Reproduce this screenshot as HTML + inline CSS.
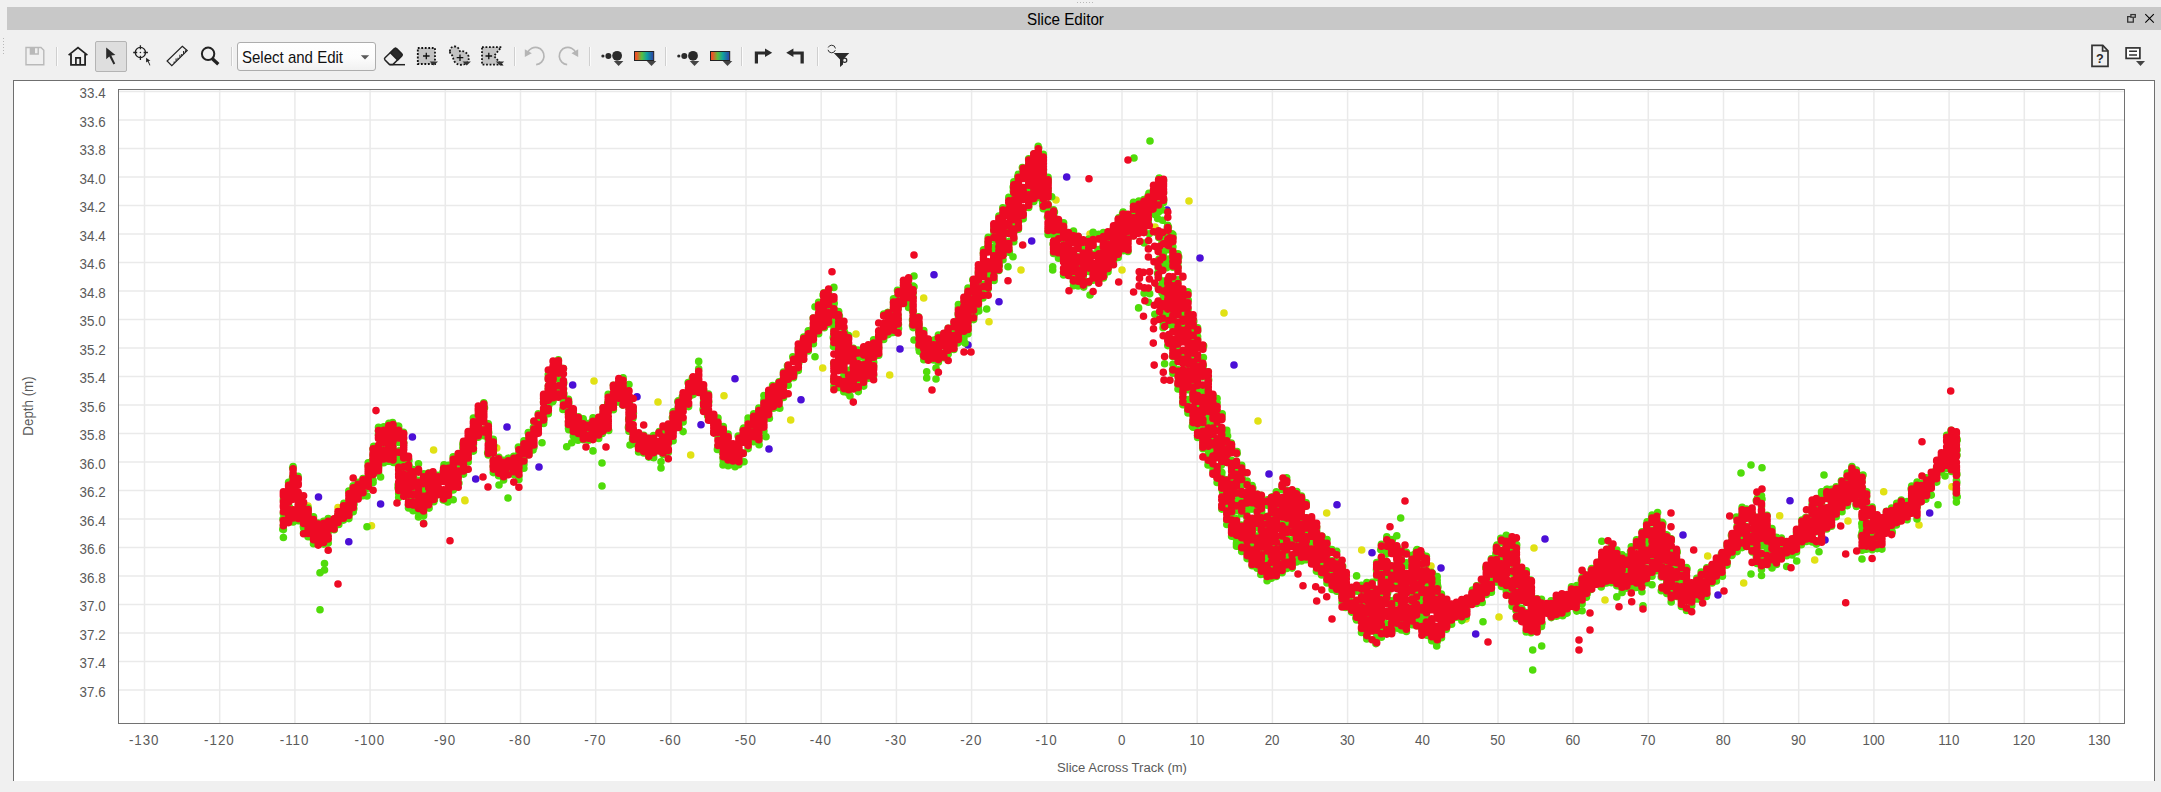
<!DOCTYPE html>
<html><head><meta charset="utf-8"><title>Slice Editor</title>
<style>
html,body{margin:0;padding:0;}
body{width:2161px;height:792px;background:#f0f0f0;position:relative;overflow:hidden;font-family:"Liberation Sans",sans-serif;}
#titlebar{position:absolute;left:7px;top:7px;width:2154px;height:23px;background:#c8c8c8;}
#title{position:absolute;left:0;top:8.6px;width:2131px;text-align:center;font-size:16px;line-height:22px;color:#000;transform:scaleX(0.95);transform-origin:1065.5px 0}
#panel{position:absolute;left:13px;top:80px;width:2142px;height:701px;background:#fff;border-left:1px solid #6f6f6f;border-top:1px solid #6f6f6f;border-right:1px solid #6f6f6f;box-sizing:border-box;}
svg.main{position:absolute;left:0;top:0;}
svg.main text{font-family:"Liberation Sans",sans-serif;font-size:15.1px;fill:#5a5a5a;}
.d{fill:none;stroke-width:7.6;stroke-linecap:round;}
#combo{position:absolute;left:237px;top:42px;width:139px;height:29px;box-sizing:border-box;border:1px solid #adadad;border-radius:3px;background:linear-gradient(#fff 0%,#fcfcfc 55%,#f1f1f1 100%);}
#combo span{position:absolute;left:4px;top:4.6px;font-size:16.6px;line-height:20px;color:#111;white-space:nowrap;transform:scaleX(0.905);transform-origin:0 0}
#selbtn{position:absolute;left:95px;top:41px;width:32px;height:31px;box-sizing:border-box;border:1px solid #b4b4b4;border-radius:2px;background:#dedede;}
.sep{position:absolute;top:47px;width:1px;height:19px;background:#cfcfcf;border-right:1px solid #fbfbfb}
</style></head><body>
<div id="titlebar"></div>
<div id="title">Slice Editor</div>
<div id="selbtn"></div>
<div id="combo"><span>Select and Edit</span></div>
<div class="sep" style="left:56px"></div><div class="sep" style="left:231px"></div><div class="sep" style="left:514px"></div>
<div class="sep" style="left:589px"></div><div class="sep" style="left:665px"></div><div class="sep" style="left:741px"></div><div class="sep" style="left:817px"></div>
<div id="panel"></div>
<svg class="main" width="2161" height="792" viewBox="0 0 2161 792">
<path d="M144.5 90V723M219.7 90V723M294.9 90V723M370.1 90V723M445.3 90V723M520.5 90V723M595.7 90V723M670.9 90V723M746.0 90V723M821.2 90V723M896.4 90V723M971.6 90V723M1046.8 90V723M1122.0 90V723M1197.2 90V723M1272.4 90V723M1347.6 90V723M1422.8 90V723M1498.0 90V723M1573.1 90V723M1648.3 90V723M1723.5 90V723M1798.7 90V723M1873.9 90V723M1949.1 90V723M2024.3 90V723M2099.5 90V723M119 91.5H2124M119 120.0H2124M119 148.5H2124M119 177.0H2124M119 205.5H2124M119 234.0H2124M119 262.5H2124M119 291.0H2124M119 319.5H2124M119 348.0H2124M119 376.5H2124M119 405.0H2124M119 433.5H2124M119 462.0H2124M119 490.5H2124M119 519.0H2124M119 547.5H2124M119 576.0H2124M119 604.5H2124M119 633.0H2124M119 661.5H2124M119 690.0H2124" stroke="#eaeaea" stroke-width="1.5" fill="none"/>
<rect x="118.5" y="89.5" width="2006" height="634" fill="none" stroke="#727272" stroke-width="1"/>
<text transform="translate(105.6,98.2) scale(0.885,1)" text-anchor="end">33.4</text><text transform="translate(105.6,126.7) scale(0.885,1)" text-anchor="end">33.6</text><text transform="translate(105.6,155.2) scale(0.885,1)" text-anchor="end">33.8</text><text transform="translate(105.6,183.7) scale(0.885,1)" text-anchor="end">34.0</text><text transform="translate(105.6,212.2) scale(0.885,1)" text-anchor="end">34.2</text><text transform="translate(105.6,240.7) scale(0.885,1)" text-anchor="end">34.4</text><text transform="translate(105.6,269.1) scale(0.885,1)" text-anchor="end">34.6</text><text transform="translate(105.6,297.6) scale(0.885,1)" text-anchor="end">34.8</text><text transform="translate(105.6,326.1) scale(0.885,1)" text-anchor="end">35.0</text><text transform="translate(105.6,354.6) scale(0.885,1)" text-anchor="end">35.2</text><text transform="translate(105.6,383.1) scale(0.885,1)" text-anchor="end">35.4</text><text transform="translate(105.6,411.6) scale(0.885,1)" text-anchor="end">35.6</text><text transform="translate(105.6,440.1) scale(0.885,1)" text-anchor="end">35.8</text><text transform="translate(105.6,468.6) scale(0.885,1)" text-anchor="end">36.0</text><text transform="translate(105.6,497.1) scale(0.885,1)" text-anchor="end">36.2</text><text transform="translate(105.6,525.6) scale(0.885,1)" text-anchor="end">36.4</text><text transform="translate(105.6,554.1) scale(0.885,1)" text-anchor="end">36.6</text><text transform="translate(105.6,582.6) scale(0.885,1)" text-anchor="end">36.8</text><text transform="translate(105.6,611.1) scale(0.885,1)" text-anchor="end">37.0</text><text transform="translate(105.6,639.6) scale(0.885,1)" text-anchor="end">37.2</text><text transform="translate(105.6,668.1) scale(0.885,1)" text-anchor="end">37.4</text><text transform="translate(105.6,696.6) scale(0.885,1)" text-anchor="end">37.6</text><text transform="translate(144.2,745.1) scale(0.885,1)" text-anchor="middle" style="letter-spacing:1.1px">-130</text><text transform="translate(219.4,745.1) scale(0.885,1)" text-anchor="middle" style="letter-spacing:1.1px">-120</text><text transform="translate(294.6,745.1) scale(0.885,1)" text-anchor="middle" style="letter-spacing:1.1px">-110</text><text transform="translate(369.8,745.1) scale(0.885,1)" text-anchor="middle" style="letter-spacing:1.1px">-100</text><text transform="translate(445.0,745.1) scale(0.885,1)" text-anchor="middle" style="letter-spacing:1.1px">-90</text><text transform="translate(520.2,745.1) scale(0.885,1)" text-anchor="middle" style="letter-spacing:1.1px">-80</text><text transform="translate(595.4,745.1) scale(0.885,1)" text-anchor="middle" style="letter-spacing:1.1px">-70</text><text transform="translate(670.6,745.1) scale(0.885,1)" text-anchor="middle" style="letter-spacing:1.1px">-60</text><text transform="translate(745.8,745.1) scale(0.885,1)" text-anchor="middle" style="letter-spacing:1.1px">-50</text><text transform="translate(820.9,745.1) scale(0.885,1)" text-anchor="middle" style="letter-spacing:1.1px">-40</text><text transform="translate(896.1,745.1) scale(0.885,1)" text-anchor="middle" style="letter-spacing:1.1px">-30</text><text transform="translate(971.3,745.1) scale(0.885,1)" text-anchor="middle" style="letter-spacing:1.1px">-20</text><text transform="translate(1046.5,745.1) scale(0.885,1)" text-anchor="middle" style="letter-spacing:1.1px">-10</text><text transform="translate(1121.7,745.1) scale(0.885,1)" text-anchor="middle">0</text><text transform="translate(1196.9,745.1) scale(0.885,1)" text-anchor="middle">10</text><text transform="translate(1272.1,745.1) scale(0.885,1)" text-anchor="middle">20</text><text transform="translate(1347.3,745.1) scale(0.885,1)" text-anchor="middle">30</text><text transform="translate(1422.5,745.1) scale(0.885,1)" text-anchor="middle">40</text><text transform="translate(1497.7,745.1) scale(0.885,1)" text-anchor="middle">50</text><text transform="translate(1572.8,745.1) scale(0.885,1)" text-anchor="middle">60</text><text transform="translate(1648.0,745.1) scale(0.885,1)" text-anchor="middle">70</text><text transform="translate(1723.2,745.1) scale(0.885,1)" text-anchor="middle">80</text><text transform="translate(1798.4,745.1) scale(0.885,1)" text-anchor="middle">90</text><text transform="translate(1873.6,745.1) scale(0.885,1)" text-anchor="middle">100</text><text transform="translate(1948.8,745.1) scale(0.885,1)" text-anchor="middle">110</text><text transform="translate(2024.0,745.1) scale(0.885,1)" text-anchor="middle">120</text><text transform="translate(2099.2,745.1) scale(0.885,1)" text-anchor="middle">130</text>
<text transform="translate(1122,771.7) scale(0.955,1)" text-anchor="middle" style="font-size:13.7px">Slice Across Track (m)</text>
<text transform="translate(33.3,406) rotate(-90) scale(0.94,1)" text-anchor="middle" style="font-size:14.2px">Depth (m)</text>
<path class="d" stroke="#e1e114" d="m465 500.7h0m31.7 -52.7h0m97.3 -67h0m64 21h0m32.7 53h0m33.3 -59.3h0m66.7 24.3h0m-482.7 86h0m30 1.6h0m95.6 -57.6h0m-62.1 75.8h0m93.3 -25.8h0m357.9 -132h0m33.3 -34h0m33.7 41h0m34 -77h0m65.3 23.7h0m32 -51.7h0m35 -70h0m66 70h0m-32 -36h0m168 187h0m68.7 92h0m35 37h0m69.3 16h0m-34.3 14h0m102.3 37h0m-33 2h0m68 -71h0m71 52h0m102.7 -44h0m36 27h0m36 -67.3h0m35 44.3h0m69 -68.3h0m-35.7 29.3h0m71 4h0m33 -38.3h0m-763 -285.7h0m35 112h0m-69 -86h0"/>
<path class="d" stroke="#4b0fd7" d="m507 427h0m-31.3 52h0m63.3 -12h0m33.7 -82h0m64.3 11.7h0m64 28h0m34 -46h0m34 70.3h0m32 -49.3h0m-482.5 97.3h0m93.9 -60h0m-31.8 67h0m-31.8 37.8h0m551.2 -192.8h0m34 -74.3h0m34 70.3h0m31 -43.3h0m32.7 -60.7h0m35 -64h0m202.3 297h0m68 30.7h0m35 48h0m69 15.3h0m34.7 66h0m69.3 -95h0m138 -4h0m35 60h0m72 -94.3h0m35 39.3h0m104.7 -27h0m-729.7 -255h0m34 107h0m-67 -155h0"/>
<path class="d" stroke="#50dc0a" d="m283.4 525.7h0m0 -26.1h0m0 14h0m0.3 8h0m-0.2 -22.3h0m0.5 11.4h0m-1 8.3h0m-0.2 10.2h0m0.6 0.4h0m0 7.9h0m5.2 -34.8h0m-0.8 -9h0m0.6 6.9h0m0.9 6.5h0m-0.7 5.5h0m0.3 -3.2h0m0.3 -25h0m-0.6 -2h0m4.5 4.4h0m-0.8 -0.8h0m0.4 -18.2h0m0.7 12.8h0m-0.4 38.7h0m0.8 -1h0m-1 1h0m-0.2 -40.8h0m0 -1.3h0m0.5 44.7h0m0 -55.3h0m5.1 52.1h0m0 -18.1h0m-0.1 -24.2h0m-0.7 7.8h0m0.3 28.9h0m0.8 -15.3h0m-0.3 22.9h0m5.4 -12.8h0m0 1.9h0m0 5.7h0m-0.2 11h0m0.9 -16.8h0m-1.3 12.5h0m0.6 -14.5h0m-0.5 -3.4h0m0.5 23.5h0m0 4.9h0m4.5 -4.6h0m0 3.3h0m0 -15.9h0m0 -4.9h0m-0.6 3.3h0m-0.1 -2.3h0m0.4 1.2h0m0.3 23.9h0m0 -28.7h0m5.4 19.5h0m0 8.8h0m0 3.2h0m-0.4 -16.1h0m0.3 0.3h0m0 -3.7h0m0.1 23.8h0m0 -27.1h0m4.7 11.9h0m-0.6 14.9h0m0.6 -8h0m0.5 8.6h0m-0.5 -21.1h0m5.4 1.2h0m-0.6 -1.4h0m0.9 4.6h0m-0.2 1.3h0m-0.1 15.4h0m0 -22.7h0m4.6 10.3h0m0 -13.2h0m-0.3 11h0m0 -7.6h0m0.3 21.1h0m6 -13.2h0m4.6 -5.3h0m-1.3 -8.5h0m0.5 7.5h0m5.5 -6.7h0m0.4 -13.4h0m-0.4 16.7h0m0 -1h0m5.4 -8.3h0m0 3.7h0m-0.4 -10.2h0m1.2 -6.7h0m-1.1 13.5h0m0.3 7.5h0m4.3 -25.6h0m0 14h0m0.6 1.7h0m0.2 -4.5h0m-1.1 5.4h0m0.3 2.2h0m0 -26h0m4.9 2.9h0m0 -5.1h0m0 7h0m0 -1.6h0m0.7 8.1h0m-1 -9.2h0m0.3 -5.6h0m4.9 -0.4h0m0.4 -1.1h0m-1.1 1h0m0.7 14h0m0 -17.2h0m5.2 -12.8h0m0.6 19.8h0m-1.3 2.6h0m0.7 -0.2h0m0 -25.2h0m4.9 -13.5h0m0 31.1h0m0 -25.3h0m-0.5 5h0m0 14.2h0m1.1 -28.1h0m-0.1 16.2h0m0.1 -0.7h0m-0.6 20.7h0m5.4 -48h0m0 -3.1h0m0 35.6h0m0 -3.3h0m-0.1 -9.1h0m0 3.6h0m-0.6 -10.5h0m0.7 8.6h0m0.4 -18.3h0m-0.4 26h0m0 9.2h0m0 -45.8h0m5.3 -0.6h0m0 29.6h0m0.6 -6.2h0m-0.2 -20.1h0m-0.4 -2.1h0m-0.2 20.5h0m0.3 9.2h0m-0.1 5.1h0m5 -35.6h0m0 26.1h0m0 -6.1h0m0.2 -20.3h0m0.2 30.8h0m-0.8 -18.7h0m0.6 -15.5h0m-0.5 21.9h0m0.3 16h0m0 -37.7h0m4.2 8.2h0m0 11.3h0m0.6 -11.9h0m-1 -8.6h0m0.8 9.4h0m0 30.4h0m0.2 -26.5h0m-1 0.1h0m6.1 -6.7h0m0 64.4h0m0 -51.3h0m0 27h0m0 -18.3h0m0 -13.4h0m0 -6.5h0m0 43h0m0 14.3h0m0.5 -31.3h0m-0.1 -6.4h0m-0.8 13.7h0m-0.2 23.3h0m0.1 -3.1h0m0 -58.7h0m1.3 54.6h0m-0.8 -54.4h0m0.5 35h0m-0.5 -22h0m0 58.4h0m5 -39.2h0m0 31.5h0m0 0.8h0m0 -25.9h0m0 -2.6h0m0 19h0m0 -26.3h0m0 -12.5h0m-0.5 18.2h0m-0.1 14.4h0m0.4 -30.5h0m0 -12.2h0m0.5 53.6h0m-0.1 -20.6h0m-0.8 -2.6h0m0.4 9.9h0m0.8 9.7h0m-0.5 -22h0m4.7 0.3h0m0 33.8h0m0 9.8h0m0 -40.5h0m0.3 12.9h0m-0.7 -3.8h0m0.7 -7.1h0m-0.3 39.9h0m0.4 -40.2h0m-0.9 9.6h0m0.9 -14.6h0m-0.2 37.9h0m-0.2 9.6h0m4.6 -0.9h0m0 -36.5h0m0 26.7h0m0 -9h0m0.5 18.7h0m0.2 -31.8h0m-0.2 19.1h0m0.2 2.6h0m-0.1 5.1h0m-0.3 -25.5h0m-0.3 34.3h0m0 -41.1h0m5.4 33.2h0m-0.4 -13h0m1.2 0.2h0m-0.3 6.8h0m-0.8 -14.9h0m0.4 -1.5h0m0.4 15.5h0m-0.5 16.3h0m0 4.7h0m0 -53.1h0m5.1 28.6h0m0 -12.8h0m0 2.9h0m0 6.7h0m0 25.4h0m-0.6 -23.8h0m0.2 9.7h0m-0.4 -20.7h0m1.1 -6.1h0m-0.3 42.1h0m0 7.6h0m5.1 -50.4h0m0 15.8h0m0.4 19.3h0m-0.6 -5.7h0m1 -8.6h0m-0.6 8.8h0m-0.3 -20.3h0m5.2 6.7h0m0.5 8.4h0m-0.4 -17.1h0m0.5 19.7h0m-0.6 1.8h0m3.9 -26.6h0m-0.2 3.6h0m0.7 -3.3h0m5.4 4.2h0m0 -1.4h0m0 15.7h0m0.3 -24h0m0.1 -5.1h0m-1.1 7h0m0.3 28.1h0m1 0.3h0m4.3 -1.2h0m0 -30h0m0 13.9h0m-0.7 15.9h0m0.3 -6.5h0m-0.4 9.6h0m0.5 -6.5h0m-0.5 -25.4h0m0.8 -4.8h0m4.7 -0.3h0m0 -8.1h0m0 14.9h0m0.3 -11h0m0.3 23.5h0m-0.6 5.6h0m0 9.9h0m5 -18.6h0m0.7 -14.5h0m-0.9 15.3h0m0 -21.6h0m1 7.9h0m-0.1 14.8h0m4.6 -15h0m-0.6 -24.1h0m0.3 -0.6h0m0 10h0m-0.3 -5.9h0m1.2 11h0m-0.6 15.6h0m4.7 -16.3h0m0 -3.2h0m0.4 -8.7h0m0 7.5h0m0.1 -8.9h0m0.2 7.7h0m-0.7 9.7h0m5.2 -43.9h0m0 26.4h0m0 -11.1h0m0 1.1h0m-0.2 6.4h0m0.3 -12.4h0m0.6 -0.3h0m-0.7 12.4h0m0 10.6h0m4.9 -18.2h0m0 -14.6h0m-0.4 9.1h0m0.5 -6.3h0m0.2 -8.5h0m0.5 9.8h0m-0.9 1.6h0m0.1 13.2h0m5.5 -5.1h0m-0.1 0.2h0m-0.3 -3h0m0.1 -22h0m1 0.4h0m-0.7 28h0m0 -32.9h0m3.9 49.9h0m0.7 -12.1h0m0.3 -8.2h0m-0.2 3.9h0m-0.2 18.7h0m0 -31.3h0m5 42.6h0m0 -23.5h0m0 17.9h0m-0.3 -14.6h0m-0.4 6.2h0m0.9 -2.4h0m0.3 -4.4h0m-0.5 27.1h0m0 -33.2h0m5.3 31.1h0m-0.1 -1.2h0m0.4 -11.9h0m-0.3 18.4h0m5.5 -9.6h0m0 4.7h0m-0.5 9.1h0m0 -19.7h0m4.6 13.9h0m0.7 -15.9h0m-0.5 12.9h0m-0.2 -13h0m5.6 9.9h0m0 6.2h0m-0.5 -9.3h0m0.5 9.5h0m0 -18.1h0m5.1 20.3h0m0 -23.4h0m-0.1 25.9h0m-0.3 -10.6h0m1 -10.6h0m-1.1 -10.9h0m0.5 32.3h0m5 -20.8h0m0 -14h0m-0.6 13.3h0m0.4 2.6h0m0.9 -16h0m-0.7 19.8h0m0 4h0m0 -27.4h0m5 13.5h0m0.5 -10.1h0m-1.1 3.8h0m0 -15.6h0m0.6 1.1h0m5 -3.9h0m-0.5 -2.1h0m0.5 7.1h0m0 12.6h0m0 -25.4h0m4.5 -1.1h0m-0.8 1.4h0m0.4 -1.8h0m0.3 -6.7h0m5.3 -11.7h0m0 16.1h0m0.1 -20.2h0m0.1 21.4h0m0.1 -21.5h0m-0.2 24.7h0m-0.1 1h0m4.7 -44.9h0m0 10.2h0m0 9.7h0m0.4 -13.3h0m0.1 20h0m0 -18h0m-0.5 26.5h0m0.1 -27.7h0m-0.1 -11.5h0m4.8 23.2h0m0 -1.5h0m0 -7.7h0m-0.4 -2.3h0m-0.1 15.5h0m-0.1 -18.7h0m1.2 13h0m-0.2 -26.3h0m-0.8 24.5h0m0.4 6.5h0m5.3 -8.3h0m0 -27.7h0m0 1.4h0m0 21.5h0m0 -23.7h0m-0.6 12.5h0m0 11h0m0.6 2.3h0m-0.3 -26.8h0m0.9 16.4h0m-1.1 -6.3h0m0.5 -13.1h0m5 41.5h0m0 -17.1h0m0 -15.7h0m0.5 30h0m-0.4 -10.4h0m-0.6 21.2h0m0.9 -15.9h0m-0.1 -11h0m-0.3 0.7h0m0 25.8h0m5.1 17h0m0 -12.1h0m0 -7.4h0m0 15.3h0m0.3 7.9h0m-0.3 -17.5h0m0.4 11.1h0m-0.1 -20.7h0m-0.3 26h0m0 -29.3h0m4.8 26.4h0m0.1 -8.3h0m0.6 3.5h0m-1.4 7.9h0m0.7 -5h0m0 12.3h0m5.1 -0.1h0m0 -16.2h0m-0.3 -1.1h0m-0.5 9.5h0m0.4 12h0m0.4 -1.6h0m0 -21.8h0m4.9 3.5h0m0.7 8.5h0m-0.1 -0.2h0m-0.7 -9.7h0m0.1 20.8h0m5.4 -13.4h0m0.5 -3h0m-1 4.9h0m0.5 12h0m4.4 -6.5h0m-0.6 -13.1h0m1.2 4.7h0m-0.7 25.6h0m0 -33h0m5.7 18.5h0m-0.6 -18.3h0m0 18.5h0m0.6 1.9h0m4.4 -30.6h0m0 5.4h0m0 -5h0m0.3 15.8h0m-0.5 6.1h0m0.2 -0.2h0m-0.8 3.4h0m6 -3.2h0m-0.7 -0.5h0m1.1 0.8h0m0.1 -26.8h0m-1.1 -0.7h0m0.5 26.5h0m0 -35.2h0m5.2 -9h0m-0.7 17.4h0m0.2 4.1h0m1.2 -16.2h0m-0.7 19.1h0m5.4 -11.7h0m0.7 -3.9h0m-0.9 -4.8h0m-0.5 12.7h0m4.5 3.1h0m0 -4.5h0m-0.2 -13.8h0m0.5 -0.5h0m0.2 -8.4h0m5.9 6.6h0m0 13.7h0m0 19.6h0m-0.3 1.5h0m0.8 -17.7h0m-1 -2.2h0m0.5 26.5h0m0.2 -17.8h0m-0.8 19.3h0m-0.1 -28.6h0m0.7 32.4h0m4.2 10.9h0m0 -11.9h0m0 2h0m0 -23.6h0m0 5.4h0m-0.7 25.3h0m0.9 -26.1h0m-0.5 5h0m-0.2 9.9h0m0 9.7h0m0.9 2h0m-0.4 4h0m5.7 -9.4h0m-0.7 0h0m0.4 17.5h0m4.5 -0.6h0m0.7 -16h0m-0.1 17.7h0m5.1 -14.7h0m-0.4 0.4h0m0.6 8h0m0.2 4.3h0m-0.4 6.1h0m4.7 -2.5h0m0 1.1h0m0 -13.6h0m0.2 15.7h0m-0.6 -0.3h0m0.4 -1h0m0 -21h0m5.4 12.5h0m0 -0.5h0m0.8 -15.4h0m-1 10.9h0m0.6 -11.4h0m3.7 19.2h0m0.4 3.6h0m0.4 -3.2h0m-1.2 -2.8h0m0.3 -16.7h0m0.1 22.8h0m5.3 -3.6h0m0 -25.2h0m0.8 3.8h0m-0.6 13.2h0m0 0.5h0m-0.5 1.3h0m0.3 7.7h0m4.8 -22.6h0m0.1 0.5h0m-0.8 -12.5h0m1.3 -6.1h0m-0.6 29.2h0m0 -28.6h0m5.3 -9.3h0m0 4.6h0m0 4.3h0m0 -8.7h0m0 16h0m-0.5 -17.6h0m0.6 21.6h0m0.6 4.1h0m-1.3 -0.4h0m0.6 -25.8h0m4 17.6h0m-0.1 -21.7h0m0.2 7h0m1 -7.8h0m-0.4 25.9h0m0 9.7h0m5.5 -43.9h0m0.1 -3h0m0.5 11.8h0m-1 -14h0m0.4 24.1h0m3.8 -28.6h0m0.8 15h0m-0.1 1.6h0m5.6 -3h0m-0.7 -12h0m1.4 4.6h0m-1 -0.2h0m0.3 -22.6h0m0 7.3h0m4.9 20h0m0 12.8h0m0 1.2h0m0 -13.9h0m-0.5 20.5h0m0.6 -17.9h0m-0.2 -0.5h0m0.1 17.2h0m4.9 -11.6h0m0 19.7h0m-0.8 -0.1h0m0.3 0h0m0.7 -14h0m0 12.9h0m-0.2 -20.9h0m5.3 38.1h0m0.3 -14.4h0m-0.6 -0.8h0m0.6 6.6h0m3.9 9.3h0m0 4h0m0 8.9h0m-0.6 3.6h0m1 -22.8h0m0.3 20.2h0m0.1 -13.4h0m-0.8 14.9h0m0 -30.3h0m5.3 35.1h0m-0.5 0.1h0m0.9 5.8h0m-0.1 2.5h0m0.2 -8.3h0m-0.5 7.9h0m0 -34.6h0m4.8 36h0m0 -25.7h0m0 23.1h0m0.4 3.8h0m0.2 -20.1h0m-1.2 8.9h0m1.2 0.5h0m-0.6 12.8h0m0 -31.8h0m4.9 19.9h0m-0.5 3h0m1.3 7.1h0m-0.8 0.9h0m5.9 -27.8h0m0.5 5.3h0m-1.2 21.8h0m0.6 0.6h0m-0.6 -28.7h0m5 -1.2h0m-0.6 4.5h0m0.7 14.1h0m0.4 -25.5h0m-0.5 1h0m4.7 -0.4h0m0 3.8h0m0.3 15.4h0m-0.1 0.8h0m0 -30.5h0m0 2.8h0m5.6 6.8h0m0 8.4h0m0 0.1h0m-0.2 4.3h0m0.1 0.3h0m-0.3 -16.8h0m0.4 17.8h0m0 -27.9h0m5.1 27h0m0.5 -3.7h0m-0.2 7.5h0m0.1 -24.9h0m-0.2 -2.1h0m0.4 -3.9h0m-0.6 29.2h0m0 -35h0m5.5 -3.9h0m-0.1 0.8h0m0.5 -2.9h0m-0.4 15.4h0m-0.4 13.6h0m0 -35.5h0m0 4.7h0m4.8 -6h0m0.5 8.1h0m0.2 16h0m-0.4 -25.7h0m-0.4 12.6h0m0.1 11.8h0m5.4 -26.6h0m-1.5 -4.9h0m0.3 13.2h0m0.5 9.5h0m5.6 -7.1h0m0.7 -2.2h0m0.1 9.4h0m-0.6 -10.5h0m-0.2 10.2h0m0 -26.2h0m4.5 -3.2h0m0 -3.5h0m0.2 -2h0m-0.5 9.8h0m1 2.6h0m-0.7 11.9h0m0 -25.3h0m4.7 13.1h0m0 -5.4h0m-0.2 0.5h0m-0.5 -14.5h0m1.4 10.5h0m4.6 -0.3h0m-0.7 -19.3h0m1.3 17.1h0m-0.6 4h0m4.6 -21.4h0m0.1 -7h0m0.6 13.3h0m-0.1 -7.2h0m-0.4 15h0m4.8 -30h0m1.3 2.7h0m-1 16.1h0m0.3 -22.3h0m4.6 -3h0m0.2 4.4h0m-0.2 6.1h0m0 6.5h0m0 -20.3h0m5.1 4.3h0m-0.2 -17h0m0.2 9.5h0m0.3 -3.9h0m-0.3 20.2h0m5.2 -28.3h0m0.3 8.7h0m-0.3 -6.1h0m-0.5 -9.8h0m0.8 14.7h0m-0.3 10.8h0m0 -31.4h0m5.1 9.9h0m0 12.9h0m-0.7 -21.5h0m0.9 -10.8h0m-0.8 2h0m0.2 7h0m1 25.8h0m4.3 -34.5h0m-0.3 22.3h0m-0.4 3.8h0m0.9 -22.2h0m-0.4 8.5h0m-0.3 4h0m0.5 14.4h0m5.3 -19.5h0m0 4.2h0m0 20.7h0m0 16.4h0m0 -8.9h0m0 -3h0m0 11.3h0m0 -30.6h0m0.3 -11.3h0m0.5 62.3h0m-1.6 -53h0m0.6 50.8h0m0 16.2h0m-0.5 -57.4h0m0.7 58.9h0m-0.1 -47h0m0.6 30.4h0m-1.1 -27.1h0m1.2 -6.5h0m-0.4 0.2h0m-0.3 14h0m-0.3 1.4h0m0.4 39.5h0m0 -98.6h0m4.8 82h0m0 -34.1h0m0 -13.4h0m0 -6.3h0m-0.1 -1.7h0m-0.2 67.3h0m0.6 -25.2h0m0.4 -39.9h0m-1 3.5h0m-0.5 46.3h0m0.2 -25.9h0m-0.2 7.4h0m0.4 -24.6h0m-0.2 -5.3h0m0.6 8.6h0m0 61.4h0m0 -76h0m5.2 28.4h0m0 20.8h0m0 -21h0m0 35.6h0m0 -46.4h0m0 26.3h0m0 26.3h0m0 -41.9h0m-0.2 10.3h0m0.5 20h0m-0.5 -3.4h0m0.2 -6h0m0.7 -28.1h0m-0.3 57.2h0m-0.5 2.1h0m-0.4 -11.3h0m0.8 -7.1h0m0.2 14.4h0m-0.9 -4.4h0m5.1 -0.9h0m0 -30.5h0m0.6 18.5h0m-0.5 12.4h0m0.6 -28.4h0m-1.4 2.6h0m1 -2.2h0m-0.1 35h0m0.5 -15.7h0m-0.8 6.7h0m0.1 12.7h0m0 -57.9h0m4.7 15.3h0m0 16h0m0 -18.5h0m0 9.4h0m-0.7 17.5h0m0.5 -3.8h0m0.1 -2.5h0m0.5 -18.9h0m-0.2 33.9h0m0 -33.2h0m0.6 36.6h0m4.2 -0.5h0m0 -1.7h0m0 -0.5h0m-0.4 4.6h0m0.2 -18.4h0m0.7 -7.1h0m-0.4 -7.2h0m0.6 25.2h0m-1.1 -31.8h0m0.4 41.6h0m5.4 -15.1h0m0.4 0.2h0m-1 -19.7h0m1 -1h0m0.1 7.7h0m-1.1 -12.8h0m0.6 35.2h0m4.7 -32.7h0m-0.2 6.4h0m0.8 13.5h0m-1.2 -17.5h0m1 9.8h0m-0.1 10.9h0m-0.3 1.7h0m5.2 -29.1h0m0 17.3h0m0.7 -20.1h0m-0.6 15.9h0m-0.5 -6.3h0m0.4 -4.2h0m0.8 5h0m-0.8 18.8h0m0 -35.7h0m5.8 -6.5h0m-0.7 14.4h0m-0.7 -1h0m0.7 8.6h0m5 -18.7h0m0 -9.5h0m0.2 6.8h0m0.2 -8.8h0m-0.8 6.2h0m0.4 8.2h0m0 -25.5h0m4.4 -0.1h0m0 3.8h0m0 5.6h0m-0.4 -6.7h0m0.2 -4.1h0m-0.3 0.1h0m0.5 22h0m5.4 -6.4h0m0 -25.7h0m0 9.1h0m0 -4.5h0m0.4 -0.5h0m0.3 8.8h0m-0.9 -4.6h0m-0.1 21.6h0m0.3 -33.5h0m4.6 17.7h0m0 1.8h0m0 -10.7h0m-0.6 -17.5h0m1 38.2h0m-1 -31.4h0m0.9 27.5h0m-0.9 -12.6h0m0.6 17h0m5.4 -37h0m0 8.7h0m0 -14.7h0m-0.5 13.1h0m0.6 -5.3h0m-0.6 6.7h0m1 -13h0m4.6 15.8h0m0 -8.6h0m0 -6.6h0m0 -1.3h0m0.5 17.3h0m-0.9 -22h0m0.8 15.5h0m-0.6 -7.8h0m0.2 17.8h0m4.5 3h0m0 -17.4h0m0 4h0m-0.4 11.3h0m0 3h0m-0.2 8.6h0m0.5 -22.6h0m-0.5 28h0m0 -31h0m0.6 33.2h0m0 -41.5h0m5.9 61.3h0m0 -7.9h0m-0.6 -22.8h0m0.6 7.9h0m0.1 20.8h0m-0.5 -14.5h0m0.8 20.3h0m-0.4 -2.1h0m4.1 -4.9h0m-0.1 10.8h0m0.2 -15.3h0m0.6 20.1h0m0 -29.3h0m5 25.4h0m0.1 2.5h0m-1.1 -13.2h0m5.7 -4.9h0m0 12.9h0m0 3.9h0m0.3 -16.8h0m0.2 13.2h0m0.2 1.4h0m-0.7 5.1h0m4.9 -5h0m-0.7 -1.7h0m0 -15.2h0m0.4 13h0m0.3 11h0m0 -27h0m5.4 -1.4h0m0.6 23.3h0m-0.6 -1.9h0m-0.3 -19.2h0m1.1 16.9h0m-0.8 4.9h0m4.4 -29.4h0m0 11.1h0m-0.2 -7.5h0m-0.2 9.6h0m0.6 3.7h0m-0.2 8.8h0m5.7 -9.6h0m0 -11.9h0m0 -7.3h0m0.2 18.8h0m-0.9 -13.1h0m0.3 2.3h0m1.2 5.2h0m-0.8 11.1h0m4.4 -8.3h0m0.7 -10.6h0m-0.8 -16.6h0m-0.5 28.9h0m0.7 -25.1h0m0 -13.3h0m0 2.9h0m5.5 1.1h0m0 16.3h0m-0.7 -15.7h0m1.3 26.2h0m-1.4 -6.8h0m0.1 -16.5h0m1.2 12.8h0m-0.5 13.7h0m4.1 -8.9h0m0 -37.3h0m0 2.7h0m0 34.9h0m0.2 -8.8h0m0.2 -24.2h0m-0.2 28.6h0m-0.1 -27.7h0m-0.5 7.8h0m1 -11.4h0m-0.6 39.6h0m0 -45.8h0m5.6 29.6h0m0 -29.6h0m0 6.2h0m0 -4.7h0m0.2 17.7h0m-0.4 -2.4h0m-0.6 -24.9h0m1.4 34.7h0m-1.3 3h0m0.2 -6.1h0m0.5 8.1h0m4.8 -11.9h0m0 -34.8h0m0 20.1h0m0.4 17.9h0m-0.3 -37.8h0m-0.5 11.2h0m-0.1 17.1h0m0.5 -3.6h0m0.3 -14.1h0m0.5 14.9h0m4.3 -4.5h0m0 -9.8h0m0.7 -20.5h0m-1 4.2h0m-0.1 25.6h0m0.4 -30.4h0m-0.6 34.7h0m1.1 -37.7h0m-0.6 -6.6h0m0.1 -3.7h0m4.7 24.4h0m-0.1 -32h0m0.5 22.6h0m-0.8 -18.2h0m-0.4 43.8h0m0.1 -20.5h0m0.5 7.7h0m-0.3 9.5h0m0 -2.6h0m0.5 4h0m0 -51.3h0m5.6 -8.3h0m0 47h0m0 -27.1h0m0 -19.3h0m0 5.4h0m-0.2 37.4h0m0.4 -25.4h0m0.1 33.4h0m-0.1 -48.7h0m-0.2 8.4h0m-0.7 23.7h0m0.4 -12.4h0m0.8 5.5h0m-0.3 -8h0m-0.2 30.1h0m5.1 -25.8h0m0 -4.9h0m0 -24.9h0m0 24.3h0m0 -5.4h0m0.7 -19.6h0m-1.2 24.3h0m1.2 9.3h0m-0.4 9.2h0m-0.9 -3.3h0m1.1 -19.9h0m-1 -7.1h0m0.9 30.3h0m-0.4 5h0m0 -54.4h0m4.1 -3.5h0m0 29.7h0m0 9.3h0m0 -8.8h0m0.6 -19.8h0m-0.5 13.8h0m-0.1 7.5h0m0.1 -17.3h0m-0.3 -19.3h0m1 0.9h0m-0.5 46.2h0m-0.3 4.9h0m5.8 -62.3h0m0 28.6h0m0 -9.9h0m0 32.5h0m0 -32.5h0m0.7 -17.1h0m-0.7 17.1h0m-0.4 36h0m-0.3 -20h0m1.1 -4.4h0m0.1 -23.9h0m0.1 48.1h0m0.2 -10.6h0m4.2 -2.4h0m0 -46.7h0m0.3 7h0m0 8.1h0m-0.4 -7.4h0m0.4 16.5h0m-0.4 5.9h0m-0.5 -35.2h0m0.1 3.8h0m0.7 2.3h0m0.4 9.7h0m-0.6 38.8h0m0 -59.9h0m4.6 14.4h0m0 24h0m-0.5 -34h0m1 5.9h0m-0.2 -4.2h0m-0.9 -11.5h0m0.6 38.9h0m0 -34.3h0m-0.1 47.6h0m0 -22h0m0.1 22.6h0m0 -55h0m4.6 15.8h0m0.4 18.3h0m0.4 -13.7h0m-1.4 -27.1h0m0.2 23.1h0m-0.1 20.1h0m0.3 2.2h0m0.4 5.9h0m5.5 -33.8h0m0 -2.8h0m0 11.5h0m0.6 -20.2h0m-1 7.3h0m-0.2 8h0m0.8 -4.1h0m-0.1 -22.6h0m0.3 11.6h0m0.2 16h0m-0.6 17.8h0m0 -48.8h0m5.1 -4.7h0m0 16.7h0m-0.7 23h0m0.7 1h0m-0.5 -11h0m0.3 3.2h0m0.3 1.4h0m-0.5 -30h0m-0.4 31.5h0m0.8 11.7h0m4.5 -10.7h0m0 -8.1h0m0.2 -6.2h0m-0.3 -30.1h0m-0.4 51.2h0m-0.2 -26.7h0m1.2 -11.3h0m-0.1 -11.8h0m4.6 57.6h0m-0.7 -2.8h0m1.1 -14.3h0m-0.2 10.1h0m-0.3 -40.4h0m0.2 11.7h0m-0.2 7.2h0m0.2 8h0m-0.5 20h0m0.4 3.8h0m0 -54.5h0m4.8 77.9h0m0 -51.9h0m0 1.5h0m0 -4.5h0m0.3 51.5h0m-0.3 -39.4h0m0.1 22.3h0m-0.1 -7.3h0m0.6 13.5h0m-0.2 -10.2h0m-1 9.7h0m0.6 17.2h0m5.5 9.8h0m0 -25.2h0m0.2 -3.9h0m0.6 -3.2h0m-0.3 31.9h0m-1 0.1h0m-0.2 -24.2h0m0.1 14.7h0m0.6 19h0m0 -43.6h0m4.9 48.4h0m0 -10.7h0m0 -10.4h0m-0.3 -11.1h0m1 24.5h0m-0.1 -13.5h0m-0.5 -15.4h0m0.4 28.8h0m-1 -16.6h0m5.6 38.3h0m0 -18.6h0m0 1.3h0m0 -25.7h0m-0.4 0h0m0.4 21.7h0m-0.7 -26.1h0m0.5 34.1h0m0.1 -30.8h0m0.9 14.7h0m-1.3 -17.1h0m0.5 49.2h0m0 -52.2h0m4.9 42.5h0m0 -24.4h0m-0.1 22.4h0m0.1 -12.8h0m-0.7 -14.7h0m0.2 7.8h0m0.3 31h0m0.3 -1.2h0m0.6 1.1h0m4.3 -40.1h0m0 26.1h0m0 17.6h0m-0.4 -41.2h0m0.4 -5.8h0m0.8 24.2h0m-0.9 26.3h0m-0.5 -23.9h0m0.7 14.1h0m0.5 -32.2h0m-1 -6.9h0m0.4 53.2h0m4.6 -44.9h0m0 6.2h0m0 17.7h0m0.7 16.9h0m0 -13.9h0m-0.3 -2.9h0m-0.8 -0.6h0m0.8 -27.5h0m-1 19.9h0m0.2 5.7h0m0.4 23.5h0m5.2 -15h0m0 4.2h0m0 -20.4h0m0 23.5h0m0 -32.2h0m0 6.1h0m-0.6 32.3h0m0.3 -4.8h0m0.8 5.1h0m-0.1 2.4h0m-0.4 -29.8h0m-0.7 20.3h0m0.8 -12.6h0m5.4 6.3h0m0 -28.9h0m-0.4 13.9h0m0.6 15.1h0m-0.5 -30.2h0m0 41.5h0m0.5 -30.2h0m0.6 3.8h0m-0.8 -17.3h0m4.3 28.8h0m-0.1 -13.1h0m0.9 18.3h0m-0.4 -2.1h0m0.3 3.3h0m-0.6 5.7h0m-0.9 -25.8h0m0.8 26.2h0m0 -47.9h0m5.7 5.7h0m0 14.9h0m-0.2 22.6h0m0.3 -9.2h0m-0.5 7.5h0m0.2 -3.3h0m0.2 5.5h0m0.8 -7.3h0m-1.6 -19.2h0m0.8 -15.2h0m4.6 0.1h0m0 16h0m0 11.1h0m-0.1 0.2h0m0.8 14.3h0m-1.5 -15.3h0m0.7 1.3h0m0.6 -2.4h0m0.1 -21.7h0m-1 8.8h0m0.4 31.2h0m0 -45.4h0m4.6 18h0m0.3 -13.8h0m-0.7 21.9h0m0.1 -20h0m1 4.3h0m-0.2 24.4h0m-0.5 -21.4h0m0 25.7h0m5.5 -43.7h0m0.6 0.5h0m-0.2 16.3h0m-0.2 7.5h0m-0.9 7.1h0m0.2 -23.7h0m0.5 25h0m4.7 -10.6h0m0 -26.4h0m-0.4 33.2h0m1 -39h0m-0.2 1.2h0m-0.8 21.9h0m0.2 10.1h0m0.2 6.3h0m4.9 -28.9h0m0 0.4h0m0.1 12.2h0m0.5 9.1h0m-0.5 -8h0m-0.6 -29h0m-0.1 24.9h0m0.6 12.6h0m0 -38.6h0m4.9 26.7h0m0 -1.1h0m-0.2 -15.8h0m-0.5 26.6h0m0.8 -16.8h0m-0.9 -2h0m1.4 -13.5h0m-0.6 35.3h0m5.5 -15.7h0m0.2 -29.6h0m0.2 8.1h0m-0.5 14.7h0m0.5 -20.8h0m-0.3 20.3h0m-0.1 -26.1h0m5.4 17.9h0m0 -5h0m0.8 -0.6h0m-1.2 12.7h0m0.4 -15.1h0m-0.7 18h0m0.7 -29.3h0m5 1.4h0m0.7 -1.8h0m-0.6 1h0m-0.2 15.1h0m0.8 2.7h0m-0.7 9.7h0m0 -29.5h0m4.4 -4.3h0m0 7.5h0m0 2.2h0m0.1 -0.4h0m0.5 -11.2h0m-0.4 3.1h0m-0.3 3.9h0m0.1 21.5h0m5.2 -24.2h0m-0.3 -5.3h0m0.6 14.9h0m-0.6 2h0m0.3 -1.7h0m5.1 -20.3h0m0.6 -9.3h0m-0.5 18.8h0m-0.1 3.9h0m4.9 -20.5h0m0 12.5h0m0.2 7.1h0m-0.4 -6.7h0m0.2 5.9h0m0 3.6h0m-4.7 34.8h0m-1.2 -18.9h0m0.2 45.1h0m-0.1 -15.3h0m0.9 28.8h0m-1 -3.9h0m0.7 -64.6h0m0.2 3.5h0m0.4 47.1h0m-0.5 27.4h0m-0.2 0.9h0m-0.7 -54.2h0m0.9 41.7h0m-0.2 -7.2h0m0.7 -17.9h0m-0.7 52.5h0m0 -96.9h0m4.6 31.7h0m-0.3 46.9h0m0.1 -2.5h0m0.2 25.7h0m0.1 -13.3h0m-0.3 -3.7h0m-0.1 -70h0m-0.5 22.6h0m0.8 56.5h0m0.3 -36.8h0m-0.9 -52.6h0m-0.2 82.8h0m0.8 19.3h0m0.5 12.5h0m-0.8 -71.1h0m0.7 3.3h0m-0.1 3.5h0m0 67.4h0m0 -60.8h0m-0.2 -2.5h0m0.5 -9.4h0m4.4 -5.3h0m0 13.1h0m0 -36.2h0m0 10.4h0m-0.6 -2.6h0m0.4 70.3h0m0 -19.1h0m-0.4 -42.4h0m0.5 70.9h0m0.7 -87.2h0m-1.1 0.3h0m0.6 0.4h0m-0.9 88.7h0m1.1 21.1h0m-0.4 -13.4h0m-0.6 -56.4h0m1.3 -24.9h0m0 3.2h0m0.1 78.4h0m-0.8 -99.1h0m-0.2 99.1h0m-0.5 -84.2h0m0.9 41.3h0m-0.5 -46h0m-0.1 60.2h0m1.1 21.9h0m-0.6 28.1h0m5.1 -108.9h0m0 77.1h0m0 41h0m0 -15.3h0m0 -72.3h0m0 38.6h0m0 58.4h0m-0.3 -7.8h0m-0.5 -122.7h0m0 77h0m0 0.8h0m0.9 -12.3h0m-0.6 9.9h0m1.2 41.9h0m-0.1 -3.5h0m-0.9 22.2h0m0.1 -60.1h0m-0.4 34.1h0m0.5 -78.6h0m0.8 44.6h0m-1.5 -29.3h0m1.4 7.3h0m-0.6 -41h0m0.5 70.8h0m-0.4 -38.3h0m0.6 87.8h0m-1 -54.4h0m0.6 12h0m-0.1 4.2h0m-0.2 44.4h0m0 -138.6h0m5.1 22.2h0m0 128.1h0m0 -58h0m0 -3.3h0m0 -43.7h0m0 -17.4h0m0 4.4h0m0 23.9h0m0 81h0m-0.7 -112.4h0m1.4 62.8h0m-0.8 26.9h0m-0.5 -60.5h0m1 52.4h0m-1 -34.3h0m1 -15.7h0m-0.5 66.9h0m-0.1 15.8h0m-0.2 -117.1h0m0.8 117.5h0m-0.7 -108.9h0m0.3 41.7h0m0.7 -50h0m-1.1 68.5h0m0.5 -67.7h0m0.3 122.2h0m0.2 -10.1h0m-1.3 -26.2h0m0.9 -48h0m-0.6 14.2h0m0.4 79.2h0m0 -135.1h0m4.9 144.9h0m0 -87.1h0m0 -11.5h0m0 90.8h0m0 -84.7h0m-0.2 66.2h0m-0.5 -62.4h0m0.6 66.8h0m-0.6 -51.4h0m1.3 13.5h0m-0.2 -29h0m-0.2 64h0m-0.6 -21.6h0m0.5 10.4h0m-0.1 38.9h0m0.6 -81.5h0m-0.9 36h0m-0.3 3.3h0m1.2 -61.3h0m-0.1 36.5h0m-0.6 -33.1h0m0.6 3h0m-0.7 47.9h0m-0.3 -28.3h0m0.8 -23.1h0m-0.9 13.5h0m0.6 90.1h0m5.1 -71h0m0 32h0m0 -55.8h0m0 89.6h0m0 -43.3h0m0 15.4h0m0 -20.1h0m0 8.1h0m-0.8 9.8h0m1.1 -32.2h0m0.4 20.3h0m-0.2 30h0m-0.8 23h0m-0.5 -8.8h0m0.1 -13.2h0m0.6 -36.4h0m0.3 -52h0m-0.7 87h0m0.9 -66h0m-1.2 34.5h0m1.5 -27h0m-1.1 -3.7h0m1 21.3h0m-0.8 43.5h0m-0.6 -17.4h0m0.6 -73.1h0m-0.4 69.2h0m0.6 44.5h0m0 -121h0m5.1 45.7h0m0 25.6h0m0 21.3h0m0 36.2h0m0 -99.7h0m0 29h0m0 8.1h0m0 -20.7h0m0 41.2h0m0 1.9h0m0.5 -34.6h0m-0.9 33h0m0.2 12.4h0m0.7 -62.6h0m-0.9 66h0m0.7 -33.3h0m-0.7 -6.4h0m1.1 17.8h0m-1.1 -49.5h0m1.2 44.5h0m-1.6 58.4h0m0.2 -40.2h0m0 -49.9h0m1.4 33.6h0m-1 53.4h0m0.5 -7.7h0m0.3 -94.5h0m0.1 22.9h0m-0.7 83.4h0m4.5 -62h0m0 51h0m0 -59.5h0m0 12.3h0m0 29.6h0m0 -67.6h0m0 42.7h0m0 -27.1h0m0 89.1h0m0 -69.8h0m0 -29.4h0m0 1.9h0m0.4 18.3h0m0.2 35.6h0m-0.8 21.9h0m0.5 -68h0m-0.3 -6.8h0m-0.1 18.6h0m0.3 42.6h0m-0.9 -4.1h0m1.1 31.2h0m-0.2 1.5h0m0.5 -29.4h0m-0.5 11.2h0m-0.9 -79.6h0m1.3 76.3h0m-1 -37.3h0m1 6.2h0m-1.2 35.5h0m0.6 25.3h0m0 -109.6h0m5.3 118.7h0m0 -58.4h0m0 44.9h0m0 -14.5h0m0 -28.1h0m0 54.1h0m0 -32.1h0m0 23.8h0m0 -19.6h0m0 -6.6h0m0 -8.3h0m0.1 10.7h0m0.4 -54.8h0m-0.5 85.1h0m-0.7 -79.9h0m1.4 7.4h0m-1.1 6.7h0m-0.4 22.6h0m1.2 28.7h0m-1.2 -52.3h0m1.3 64.3h0m-1 -14.7h0m0.7 20.6h0m0.5 -100.2h0m-1.2 72.4h0m0.6 20.9h0m-0.9 -27.6h0m1.2 -46h0m-0.4 83.2h0m5.4 -12.1h0m0 -27.2h0m0 27.2h0m0 7.7h0m0 -28.2h0m0 -44.4h0m0 53.9h0m0 -30.8h0m0 48.3h0m0 -51.8h0m0 39.9h0m0 18.1h0m0.3 -69.5h0m-1 76.2h0m0.7 -65.7h0m0 4.1h0m-0.4 22.7h0m0.3 -37.1h0m-0.5 66.9h0m1.1 -26.3h0m-0.8 3.1h0m0.7 34.5h0m-0.7 6.7h0m0.2 -49.5h0m0.3 34.4h0m-0.2 -28h0m-0.2 32.8h0m0.2 8.2h0m4.6 -34.8h0m0 4.2h0m0 -10.3h0m0 34.8h0m0 -6.2h0m0 -9.2h0m0 -46.1h0m0 18.9h0m0.2 40.1h0m0 -3.4h0m-0.7 -15.1h0m0.6 34.7h0m-0.5 -39.5h0m1.2 -7h0m-0.3 2.5h0m-0.3 -24.4h0m-0.6 12.7h0m0.3 2.8h0m0 29.5h0m-0.4 18.8h0m0.4 -0.5h0m-74.2 -157.5h0m5.5 -64.9h0m0 50.2h0m5.1 -59.4h0m0.5 59.9h0m-1.2 8.5h0m6.4 -87.6h0m-0.1 99.7h0m8.8 -62.4h0m-0.5 29.1h0m0.9 16.1h0m0.6 66.6h0m4.1 -104.6h0m-0.4 7.5h0m0.6 23.6h0m1 6.8h0m-0.7 9.1h0m-1 5.3h0m48.9 129.4h0m0 -24h0m0 23.4h0m0 -12.4h0m0 1.5h0m0 -16h0m0.7 14.3h0m-1.2 -22.9h0m1.3 51.1h0m-1.2 14.2h0m0.3 7.5h0m0.3 -29.3h0m0.4 3.7h0m-0.9 22.1h0m0 -0.5h0m-0.2 -16.4h0m0.2 -3.6h0m0.6 28.1h0m-0.3 0.8h0m0 -83.9h0m0 4.2h0m4.7 43.2h0m0 -11.4h0m0 29.5h0m0 -19.2h0m0 44.2h0m0 -54h0m0 10h0m0 -9.7h0m-0.3 25.4h0m0.3 -43.8h0m-0.6 30.2h0m0.8 12.7h0m0.2 -12h0m-1.1 27.4h0m0.7 -56.8h0m0.1 54.2h0m-0.4 -36.7h0m0.1 47.7h0m-0.3 -18.4h0m0.4 9.7h0m0.5 -61.1h0m0.4 78.1h0m-0.5 13.6h0m-0.3 3.6h0m5 -77h0m0 80.5h0m0 -21.3h0m0 -31.8h0m0 22h0m0 -21h0m0 59.7h0m0 -60.8h0m-0.6 20.3h0m0.9 -21.7h0m-0.2 -14.2h0m0.5 -1.7h0m0.1 7.4h0m0.1 67h0m-0.5 -60.3h0m0.5 -20.2h0m-1.5 59.1h0m0.1 -52.6h0m1.3 19.9h0m-0.9 41.8h0m-0.5 2h0m0.6 -25.1h0m0.1 43.4h0m0 -94.3h0m4.8 30.9h0m0 -11.7h0m0 69h0m0 -40h0m0 -14h0m0 50.3h0m-0.2 -15.4h0m0.4 -24h0m-0.3 9.1h0m-0.3 -6.4h0m1 23.4h0m-0.4 -40.8h0m0 31.9h0m-0.4 12.5h0m-0.1 -61.9h0m0.5 48.4h0m0 38.5h0m-0.5 -26h0m-0.3 13.4h0m0.5 8.6h0m0.1 10.3h0m4.9 8.8h0m0 -1.9h0m0 -57.3h0m0 57.2h0m0 -9.9h0m0 -29.5h0m0 40.3h0m0 -50.6h0m0 -20.1h0m0 61.2h0m0 -15.7h0m0 20.4h0m0 -58.9h0m-0.4 3.3h0m-0.3 44.9h0m1.1 -40.3h0m0.3 -34.9h0m-0.5 57.5h0m-0.7 -41.8h0m1.3 64.4h0m-0.3 -81.9h0m-1.2 18.3h0m0 39.2h0m1.2 24.2h0m-1.1 -54.9h0m1 22.5h0m-0.1 -47h0m-0.5 8.5h0m0.2 83.9h0m5.2 -9.8h0m0 0.5h0m0 -51.4h0m0 56h0m0 -0.8h0m0 -31.2h0m0 35.1h0m0 -30.9h0m0 16h0m-0.1 -24.6h0m0 -24.6h0m0.5 -10h0m-0.3 78.9h0m0 -49.7h0m0.3 -22.2h0m-1 47.5h0m0 -27.2h0m-0.1 28.1h0m0.1 14.7h0m0.2 -3h0m0.8 -26.7h0m0.2 35.7h0m-0.6 4.8h0m0 -86.2h0m5.4 15.9h0m0 3.9h0m0 8.5h0m0 51.1h0m0 -51.9h0m0 28.3h0m0 25.7h0m0 -9.7h0m0.4 2.1h0m0.2 -10.7h0m-1.1 -15.5h0m0.1 3.9h0m0.8 -7.5h0m-0.1 -4.7h0m-1.1 21.8h0m1.3 -6.7h0m0 11.1h0m0.2 -0.7h0m-0.9 -48.5h0m0.6 12.9h0m-0.4 64.1h0m5 -13.8h0m0 -23.8h0m0 7.9h0m0.1 -3.7h0m-0.7 -39.1h0m1.1 15.3h0m-1.2 49h0m1.5 -52.2h0m-0.3 0.3h0m0.1 35.3h0m-1.3 12.6h0m1 2.7h0m0.4 -61h0m-0.8 21h0m0.2 19.5h0m-0.1 37.1h0m0 -80.2h0m5.1 8.7h0m0 72.6h0m0 -23.5h0m0 -48.8h0m0 12.9h0m0 32.5h0m0 -36h0m0 37.6h0m-0.6 22h0m1.3 -27.8h0m-0.6 16.4h0m0.1 -38.6h0m-0.7 41.7h0m0.3 -46.2h0m0.8 29.5h0m-1 -0.6h0m-0.2 10.8h0m-0.2 -49.4h0m0.9 37.5h0m0 -9h0m-0.1 40.5h0m4.2 -56.3h0m0 -12.8h0m0 -1.4h0m0.5 54.8h0m-1.1 -5h0m1.2 -1.7h0m-0.7 -14.3h0m-0.4 14h0m0.8 -34.7h0m-0.9 63.5h0m0.6 -27.1h0m-0.6 -51.9h0m0.9 22.1h0m-0.5 -14.2h0m0.6 40.3h0m5.3 -41.3h0m0 18.3h0m0 43.7h0m0 -0.8h0m0 12.7h0m0 -40.3h0m0 6.8h0m0 12.3h0m0 -49.8h0m0 33.1h0m0 -33.5h0m0 11.6h0m-0.5 34.6h0m1.1 21.1h0m-0.2 -9h0m0.1 -0.3h0m-0.2 -32.8h0m0 -30.2h0m0.4 35.6h0m-0.8 28h0m0.2 -6.5h0m-0.9 -7.4h0m0.4 -32.2h0m1 39.3h0m-0.6 24.1h0m4.3 -60.9h0m0 30.2h0m0 -26.9h0m0 25.9h0m0 7.7h0m0 -54.4h0m-0.6 2.1h0m-0.2 17.4h0m1.3 -2.1h0m-0.5 -4.6h0m-0.8 52.2h0m0.8 -10.6h0m0.6 -59.7h0m-1.3 65.5h0m0.8 14.2h0m-0.6 -27.9h0m0.8 -51.7h0m-0.8 58.4h0m0.6 -58.1h0m-0.1 80.8h0m4.9 -70.2h0m0 20.5h0m0 10.5h0m0 5h0m0 -19.2h0m-0.5 -25.8h0m0 69.1h0m0.5 -51.2h0m0.2 35.9h0m-0.5 -33.9h0m0.7 -25.8h0m-0.8 31.8h0m0.3 -14.9h0m-0.2 -5h0m-0.2 -3.9h0m0.2 36.9h0m0.9 -36.7h0m-0.8 -4.2h0m0.2 79.4h0m0 -84.8h0m5.8 34.4h0m0 8.6h0m0 -24.3h0m0 58.8h0m0 -83.4h0m0 14.8h0m0.4 32.4h0m-0.8 37.3h0m1 -80.6h0m0.1 47.2h0m-1.3 11.7h0m0.2 -33h0m0.1 8.2h0m1 38.5h0m0.1 -62.9h0m-1 72.3h0m0.9 -8.2h0m-0.9 -13.1h0m0.7 -9.8h0m-0.5 -27.1h0m0 59.3h0m4.6 -92.5h0m0 86h0m0 -48.4h0m0 0.5h0m0 14.3h0m0 -34.6h0m0 1.1h0m0 53.1h0m0 -9.5h0m0 -17.5h0m0 1.9h0m-0.5 -26.6h0m0.2 9.5h0m0.6 30.1h0m-0.9 -58.9h0m1.2 73.1h0m-1.2 -3.2h0m-0.1 -9h0m0.2 -1.6h0m1 15.5h0m-0.2 -35.1h0m0.3 44.9h0m-0.5 -27.9h0m0.2 -27.3h0m-0.4 -20.4h0m0.1 78.1h0m0 -90.6h0m5.4 25.3h0m0 40.5h0m0 -17.9h0m0 19.9h0m0.7 -5.4h0m-0.1 -7h0m-1.1 -41.6h0m0.8 41.4h0m-1 -14h0m0 41.7h0m0.3 0.2h0m0.5 -15.2h0m-0.4 -39.1h0m0.3 0.4h0m0.1 3h0m-0.7 0.4h0m0.6 57.7h0m4.4 -7.8h0m0 -47.5h0m0 -17.3h0m0 15.5h0m0 48.1h0m-0.2 -56.1h0m-0.5 -10.7h0m0 50.6h0m0.6 -35.5h0m-0.3 50.7h0m0.7 -66.5h0m-0.9 50.2h0m1.2 16.8h0m-0.1 0.6h0m-0.2 -28.3h0m-0.1 -30.7h0m-0.2 61.8h0m0 -70h0m5 5.6h0m0 44.6h0m0 -22.8h0m0 -11.7h0m0 16.2h0m0 -18.5h0m0 -7.9h0m0.2 28.3h0m0.2 15.1h0m-0.9 -18.9h0m-0.2 30.4h0m0.2 -44.3h0m0.7 25.9h0m-0.2 -33h0m0.3 31.7h0m0.1 -33.4h0m-0.6 13.1h0m0.2 48.6h0m0 -64.9h0m4.7 9.6h0m0 0.1h0m0.4 23.3h0m-0.4 21.9h0m0.5 -26.7h0m0.3 15.5h0m0 -21.8h0m-0.2 12.8h0m-0.5 9.1h0m-0.7 12.6h0m0.6 7.3h0m0 -56.9h0m5.4 56.1h0m0 2.9h0m0 -1.4h0m0.6 -7.5h0m0 -10.3h0m-1 -24.4h0m0.9 39.6h0m-0.4 -32.2h0m0.3 11.6h0m-0.7 -2.2h0m5.3 26.7h0m0 -32.9h0m0 -2.1h0m0 36.7h0m0 -32.9h0m-0.8 -2.3h0m1.5 37.7h0m-0.9 5.1h0m-0.3 -15.1h0m-0.3 -29.9h0m1.2 11.5h0m-0.9 10.1h0m0.5 23.5h0m5 1.5h0m0 -21.3h0m0 9.1h0m0 -1.9h0m0 0.1h0m0.5 -22.4h0m-0.4 19.3h0m0.4 7.6h0m-0.7 -12.4h0m-0.4 22.8h0m0.6 -6.3h0m0 7.7h0m5.4 -20.6h0m0 10.9h0m0 -18.2h0m0 32h0m0.2 -27.5h0m-0.5 -1.9h0m-0.1 -6.2h0m-0.1 6h0m0.5 8.7h0m0.1 7.8h0m-0.1 17h0m0 -43.4h0m5.1 21.2h0m0 22.7h0m0 -1h0m0.4 -9.4h0m0 -6.9h0m0.1 5.9h0m0 6.4h0m-0.7 -28.9h0m0.2 39.9h0m4.6 -22.9h0m0 3.9h0m-0.6 13.5h0m1 -19.5h0m-0.1 16h0m-1 0.4h0m0 6.9h0m0.4 -26.1h0m0.3 29.6h0m0 -39.9h0m5.9 21.9h0m-0.6 13.1h0m0.6 2h0m0.1 -22.2h0m-0.3 14.8h0m-0.7 15.5h0m0.4 5.9h0m4.2 -25.8h0m0 -0.3h0m0.4 16.8h0m0.1 -4.5h0m-1.3 16.4h0m0.1 2.4h0m0 -12h0m6 -2.5h0m0 17h0m0 -7.9h0m-0.8 5.5h0m0.2 -5.7h0m0.3 -10.9h0m0.3 21.2h0m5 -25.8h0m0 22.1h0m0 -5.7h0m0 10.5h0m-0.3 4.8h0m-0.4 0.3h0m1.3 -27.1h0m0 -4.8h0m-0.2 4.6h0m-0.4 28.9h0m0 -44h0m4.9 12.9h0m0 -0.5h0m0 4.8h0m-0.4 8.1h0m0.6 -12.1h0m-0.7 15.3h0m0.2 -4.3h0m0.4 -9.1h0m-0.6 1.4h0m0.5 40h0m0 -47.2h0m5.3 24.1h0m0 25.5h0m0 -20.2h0m0.7 13.1h0m-1.2 -20.2h0m0.2 -14.5h0m1 11h0m-0.7 8.8h0m-0.5 5.7h0m0.5 -14.5h0m-0.3 -17.3h0m0.3 52.2h0m0 -56.4h0m5.3 7h0m0 26.3h0m-0.8 8h0m0.3 -2.5h0m0.6 -29.2h0m-0.9 12.9h0m1.2 -15.3h0m0 15.1h0m-1.2 14.5h0m0.9 -17.4h0m-0.7 -6.2h0m0.6 -13.4h0m4.6 -11h0m0 25.6h0m0 40.8h0m0 -62.1h0m0 16h0m0 -22.5h0m0 39.8h0m-0.8 34.7h0m0.6 -38.5h0m0.7 -5.9h0m-0.5 -0.7h0m0.6 27.5h0m-0.6 -15h0m-0.2 -41.1h0m0.6 7.6h0m-1 41h0m1.2 -7.9h0m-0.8 23h0m0.2 -41.1h0m0.7 4.4h0m-0.7 -34.3h0m4.7 -4.4h0m0 53.6h0m0 14.4h0m0 -47.5h0m-0.3 54.8h0m-0.3 -83.8h0m1.1 77.1h0m-0.3 -42.9h0m0.5 -37.1h0m-1.2 23.4h0m0.4 19.2h0m0.4 0.1h0m0.2 -28.7h0m-0.7 13.3h0m0.6 54h0m0.1 -15.9h0m-0.8 -28.8h0m0.8 9.4h0m-0.5 44.5h0m0 -93h0m5.4 45.3h0m0 8.4h0m0 -13.2h0m0 -3.2h0m0 9.9h0m0 3.3h0m0 38.4h0m-0.3 -60.2h0m0 30.2h0m0.5 -16h0m0.6 5.9h0m-1.2 -21.1h0m1.1 5.9h0m-1.4 45.8h0m0.3 -69.6h0m0.7 61.9h0m0.2 -62.7h0m0 71.4h0m0 -52.7h0m0.2 -9h0m-0.8 -12.1h0m0.6 16.6h0m-0.5 -30.8h0m4.8 6.6h0m0 26.9h0m0 35.2h0m0 -54.7h0m0 53.4h0m0 2.4h0m0 22.5h0m0 -7.8h0m0 -40.2h0m-0.2 48.9h0m-0.5 -6.7h0m0.1 -14.3h0m-0.1 -42.7h0m1.3 59.7h0m-0.6 -8.6h0m0 -67h0m0.3 77.3h0m0.5 -88h0m-0.7 92.9h0m0.2 -90.9h0m-1.1 59.1h0m0 -17.7h0m1.1 -37.5h0m4.9 81h0m0 -26.5h0m0 -51.3h0m0 48h0m0 -13.5h0m0.1 14h0m0.5 31.1h0m-0.8 -25.8h0m0.5 -55.2h0m0.1 14.8h0m0.2 37.5h0m-0.6 -51.9h0m-0.2 24.6h0m0.8 -7.3h0m-0.5 17.4h0m0 -29.6h0m-0.7 45.2h0m0.3 -25.8h0m0.3 55.2h0m0 -91.7h0m4.6 70.9h0m0 -24.5h0m0 -26.5h0m0 20.2h0m0 46.8h0m0 -58.4h0m-0.1 30.5h0m0.2 -0.1h0m-0.3 -19.9h0m0.5 -12.6h0m-0.7 53h0m0.3 -18.7h0m-0.6 -32.8h0m1.1 -11.6h0m-0.7 7.8h0m-0.1 30.3h0m0.4 5.7h0m0.3 -28.8h0m-0.3 62.9h0m0 -79.7h0m5 24.3h0m0 14h0m0 -25.6h0m0 2.9h0m0 46.8h0m0 3.1h0m0 -5.4h0m0 3.8h0m-0.3 9.2h0m-0.3 -36.9h0m1.4 3.3h0m-0.8 19.3h0m-0.4 -32.3h0m0.1 9.5h0m0.5 4.9h0m0 -6.9h0m-0.2 0.7h0m0.6 6h0m-0.4 33.8h0m-0.5 -11.3h0m0.3 18.1h0m0 -79.1h0m5.6 6.7h0m0 21h0m0 12.3h0m0 15.3h0m0 12.5h0m0 -8.7h0m0 -10h0m-0.7 14.9h0m0.1 -54.9h0m0.4 24h0m0.5 35.5h0m-0.9 -46.8h0m1.1 19.7h0m-0.1 -22.8h0m0.3 9.8h0m-1.3 41.9h0m0.7 -10.6h0m-0.1 12.5h0m0 -69.4h0m4.5 57.8h0m0 12.6h0m0 -4.5h0m0 -39.9h0m0 9.6h0m0 -30.6h0m0 20.4h0m-0.2 6h0m0.3 0.9h0m-0.4 30.1h0m0.1 -23.5h0m0.5 -31.3h0m0.3 -13.4h0m-1.2 3.5h0m0.5 56.5h0m0 -36.2h0m0.3 51.3h0m0.5 -46.3h0m-1.4 -9.5h0m0.7 -18.4h0m5.4 65.1h0m0 -47.6h0m0 21h0m0 32.5h0m0 -8.4h0m0 10.4h0m0 -4.1h0m0 -29.6h0m-0.1 -18.5h0m0.5 33.2h0m-1 9.7h0m0.6 -42.8h0m-0.3 48.5h0m-0.1 -2.9h0m1 -37.5h0m0 -9.2h0m-1.3 30.5h0m0.8 -6.9h0m-0.3 -29.8h0m0.2 31.1h0m0 -41.3h0m4.5 79.2h0m0 -15.3h0m0 -41.9h0m0 37.9h0m0 -1.9h0m0 -31.6h0m0 18.3h0m0 10.1h0m0 -27.1h0m0 13.8h0m0.4 39.9h0m-1.2 -70.5h0m1.2 57.1h0m0.2 -35.1h0m-0.6 20.5h0m-0.1 -48h0m0 27.5h0m0.6 -2.8h0m-1.2 2h0m1.2 -9.6h0m-0.8 21.5h0m1 29.1h0m-0.7 7.6h0m0 -78.2h0m5.4 41.9h0m0 -10.6h0m0 32.7h0m0 -45h0m0 33h0m-0.4 30.5h0m0.5 -59.3h0m0.7 21.6h0m-0.1 -27.9h0m-0.9 47.5h0m0.6 -40h0m-0.7 -8.5h0m0.1 3.6h0m0.8 64.7h0m-0.3 -31.4h0m-0.3 31.7h0m5.4 -60.5h0m0 2.1h0m0 23.9h0m0 -7.5h0m0 -15.4h0m0 25.7h0m0 -10.2h0m0 -16.4h0m0.3 2.8h0m-0.4 15.7h0m0.8 -14h0m-1.3 8.2h0m0.3 6.3h0m0.6 -12.3h0m-1.1 16.3h0m0.2 34.7h0m1.4 -5.4h0m-0.4 -21.6h0m-0.4 28.2h0m0 -64.8h0m4.3 48.6h0m-0.4 3.5h0m0.3 -24.7h0m0.1 24.8h0m-0.1 -34.7h0m-0.5 39.4h0m0.2 -14.3h0m0.4 18.6h0m0 -42.7h0m5.3 10.7h0m-0.5 23.4h0m1 -24.1h0m-0.5 -1.8h0m0 0.5h0m4.8 7.8h0m0.4 0.9h0m-0.9 9.7h0m0.5 2h0m4.4 -6.9h0m0.6 -8.8h0m5.9 10.6h0m0 -5.2h0m-0.9 -1.5h0m0.2 8.2h0m5 -16.1h0m0 3.6h0m-0.5 8.3h0m-0.2 -10.3h0m6.4 -16h0m-0.2 5.1h0m4.3 -9.5h0m-0.4 17.2h0m0.1 -0.2h0m0 -6.4h0m0.3 7.1h0m4.8 -8.7h0m0 0.8h0m0.5 -5.5h0m0.3 12.4h0m-0.9 -17.3h0m0.1 15.1h0m4.9 -33.9h0m0.7 23.3h0m-0.2 -5.4h0m-1 -16.5h0m-0.2 26h0m0.7 0.8h0m5.1 -26.2h0m0 0h0m0 -2.6h0m-0.5 2.1h0m0 16.7h0m0.5 -7.9h0m0.1 6h0m-0.1 9.6h0m0 -33.5h0m5.1 -9.9h0m0.5 -3.8h0m-1.1 8.8h0m0.8 24.8h0m-0.7 -16.7h0m0.2 20.1h0m0.3 -36h0m5 15h0m0 8.9h0m0 5.5h0m0 -5h0m0 7.3h0m0 -1.5h0m0.3 -22.4h0m-0.3 11.7h0m0.6 -2.1h0m-0.1 -5.7h0m0.2 9.3h0m-1 -24.5h0m-0.4 -4.1h0m0.7 48h0m4.8 -46.8h0m0 47.4h0m0 -5.1h0m0.6 4h0m-1.1 -40.1h0m0.2 -9.5h0m0 3.5h0m0.2 2.6h0m0.8 7.6h0m-1 30.1h0m-0.4 -14.6h0m0.7 25.7h0m0 -55.9h0m5.8 57.2h0m0 8.1h0m0 -36.5h0m0 -12.6h0m0 6.8h0m0 -1.2h0m-0.5 -13.9h0m0.5 15.8h0m0.6 22.3h0m-0.5 2.8h0m0.1 -11.9h0m-0.9 -35h0m0.6 36.1h0m-0.3 23.6h0m0 -38h0m0.9 22.5h0m-0.7 -40.6h0m0.2 65.5h0m4.3 -58.9h0m0 25.4h0m0 25.2h0m0 -5.7h0m0 24.2h0m0 -25.4h0m-0.1 0h0m0.7 11.4h0m-1.3 2.3h0m0.6 -18.3h0m-0.3 -38.6h0m0.7 -3h0m-0.8 15.7h0m0.1 49.7h0m0.6 -13.7h0m-0.9 -4h0m1.2 -31.7h0m-0.5 57.7h0m0 -74h0m5.3 32.3h0m0 21h0m0 -21.5h0m0 -5.7h0m0.8 7.7h0m-1.1 -9.6h0m0.6 40.2h0m-0.6 -26.1h0m0.1 25.4h0m0.9 5.6h0m-0.4 -40.6h0m-0.2 5.1h0m0.2 41.1h0m4.3 -31.2h0m0 10.9h0m0 13.3h0m0 -17.7h0m-0.2 6.9h0m-0.3 18.4h0m0.6 4.5h0m0.6 -29.7h0m-0.3 -2.8h0m0.2 38.5h0m-0.7 1.3h0m0.6 -13.1h0m-0.6 -29.9h0m0.1 -18.1h0m5.1 35h0m0 20.7h0m0 -22.9h0m-0.1 -4.9h0m-0.7 -18.7h0m0.4 52.7h0m1.1 -34.8h0m-1.4 -2.3h0m0.5 31.6h0m-0.2 -12.5h0m0.4 17.6h0m5.6 -33.5h0m0 4.1h0m0 3.2h0m0.3 24.1h0m-0.1 -11.7h0m0.6 9.4h0m0 -23.9h0m-0.9 3.5h0m4.6 16.3h0m0 -19.8h0m-0.2 3.1h0m-0.5 -0.6h0m1.2 16.8h0m-0.5 3.2h0m0 -27.3h0m5.4 5.6h0m0.6 1h0m3.8 4.6h0m0 7.2h0m-0.2 -16.7h0m-0.2 15.3h0m5.4 -9.7h0m0.6 5.8h0m-0.3 -1.7h0m0.4 5.5h0m-0.7 0.1h0m5.6 -11.3h0m0.2 7.6h0m-0.2 -7.3h0m0.8 10.5h0m4.9 -8.5h0m-0.9 5.6h0m0.4 0.3h0m4.4 -23.5h0m0 9.8h0m-0.5 -6.5h0m0 0.4h0m0.5 -6.4h0m4.7 1.7h0m0.7 -3h0m-0.5 9.8h0m0.4 15.7h0m-0.6 -1.7h0m5.9 -15.5h0m0 -5.3h0m0 3.4h0m-0.7 -11.8h0m0.6 11.9h0m0.1 -14.5h0m0 26.1h0m0 7h0m4.3 -29.4h0m0.8 12.4h0m-0.4 -12h0m-0.4 -6.3h0m0 21.8h0m5.3 -13.7h0m0.2 -5h0m-1 11h0m0.3 -19.7h0m0.5 -1.3h0m5.5 11.9h0m0.2 -5.8h0m-1.2 -6.5h0m5.6 15.5h0m-0.7 -23.5h0m0.5 18.1h0m-0.4 8.7h0m1.1 -14h0m-0.7 -11.8h0m0.2 23.8h0m0 -43.6h0m4.8 8.2h0m-0.2 1.5h0m0.6 19.9h0m0 10.2h0m-0.2 -11.8h0m-0.1 -12.6h0m-0.1 26.2h0m4.8 -8.3h0m-0.3 -22.3h0m0.2 29h0m-0.2 -32.9h0m-0.2 19.5h0m0.5 -3.3h0m0 18.2h0m0 -37.8h0m5.4 10.4h0m0.1 30h0m0.3 -8.2h0m0.3 1.3h0m-1 -21.4h0m0.4 11h0m-0.1 17.7h0m0 11.1h0m0 -46.9h0m5.3 13.2h0m0 22.2h0m0.2 -8.9h0m-0.2 -19.5h0m-0.5 20.3h0m0.3 11h0m-0.1 -12.4h0m0.3 16.6h0m0 -37.7h0m4.8 29.1h0m0 -6.2h0m0 -5.9h0m-0.7 -12.2h0m0.8 6.6h0m0 -6.9h0m-0.4 14h0m0.3 14.8h0m0 -31.1h0m3.8 13.8h0m0.5 -3.3h0m0 1.8h0m0.8 -0.7h0m-1.5 -16.9h0m0.8 31.5h0m0 5.8h0m0 -42.2h0m5.2 0.1h0m0 11.7h0m-0.5 8.9h0m0.7 -20.7h0m-0.2 19.9h0m-0.2 -2.7h0m-0.1 23.4h0m0 -22.8h0m0 3.4h0m0.3 16.7h0m0 -45h0m5.4 21.4h0m0 0.3h0m0 3h0m-0.7 -2.2h0m1 -30.4h0m-0.5 44.7h0m0 0.2h0m0.5 -19h0m0 14.3h0m0 -34h0m0.1 39.7h0m-0.2 -9.3h0m-0.2 23.3h0m4.8 -67.9h0m0 11.8h0m0 38.7h0m0 -30.8h0m0 29.2h0m0 -27.8h0m0 23.1h0m-0.6 -9.1h0m1.3 -9.3h0m-0.3 -27.7h0m-0.3 2.5h0m-0.8 6.5h0m0.6 -7.1h0m-0.4 56.8h0m0.2 -33.2h0m-0.1 -4.8h0m0.4 40.1h0m5.3 -24.1h0m0 -28.6h0m0 29.1h0m0 -37.1h0m0.4 37.9h0m-0.6 -43.1h0m0.7 2.4h0m-0.9 32.8h0m1.1 5.7h0m-0.9 10.8h0m0 -52.2h0m0.6 14.7h0m0.2 4.1h0m-0.6 41.2h0m0 8.5h0m0 -69.8h0m4.8 55.7h0m0 -21.4h0m0 -23.1h0m0 27.4h0m-0.4 12.8h0m0.7 -15.8h0m0.5 -38.1h0m-0.7 16.1h0m-0.1 33.3h0m0.8 -41.7h0m-0.8 46.6h0m-0.7 -34.2h0m1.5 -0.7h0m4.4 29.8h0m0 -22.1h0m0 27.8h0m0.2 -40.8h0m-0.9 50.4h0m0.7 10.4h0m0.8 -64h0m-0.3 27.4h0m-1.2 40h0m0.7 -49.4h0m0.3 1.7h0m-0.3 4.5h0m0.4 3.4h0m-0.4 39.6h0m0 -68.2h0m4.8 14.1h0m0 45.1h0m-0.7 3.6h0m1.2 -27.2h0m-1.1 -0.6h0m0.9 -22h0m-0.6 -0.5h0m-0.3 26.8h0m0.9 -0.2h0m-0.6 -24h0m0.4 37.2h0m-0.1 18.7h0m4.4 -52.6h0m0 -2h0m0 40.4h0m0 -31.1h0m0 36.1h0m0 -17.1h0m0 -14.2h0m0.4 9.1h0m-0.1 -9.8h0m0.4 11.4h0m-1.1 28.4h0m0.3 2.5h0m-0.5 -36.1h0m-0.1 -10.8h0m0.5 3h0m0.9 30.3h0m-0.7 21h0m5.3 -47.6h0m0 42.1h0m0 -36.8h0m-0.5 10.4h0m1.2 -18.1h0m-1.3 30.9h0m0.4 9.3h0m0.6 -23.7h0m-0.1 -6.4h0m0 26.7h0m-0.9 -33.9h0m5.5 32.1h0m0 -20.6h0m0 2.3h0m0 20.2h0m0.7 -16.3h0m-1.3 1h0m1.2 1.3h0m-0.4 26.4h0m-0.3 -16.1h0m0.8 -9.1h0m-1.3 2.4h0m0.6 28.1h0m5.1 -23.6h0m0 25.5h0m0.5 -39.8h0m-0.4 41.1h0m-0.2 -15.5h0m-0.1 -11.6h0m-0.2 -14.7h0m0.1 21.5h0m0.3 21h0m0 -42.9h0m5.2 28.2h0m-0.1 9.3h0m0.2 -4.6h0m-0.8 -4.2h0m0.7 9.6h0m5.1 -18.9h0m0 7.1h0m-0.6 -6.1h0m1.3 10.2h0m-0.7 0.8h0m0 -20.6h0m4.4 11.2h0m0.8 -8.3h0m-0.6 -7.7h0m0 4.6h0m-0.2 21.6h0m0 -27.6h0m5.6 0.9h0m0 -2.5h0m-0.4 18.9h0m0.9 -5.8h0m-0.9 12.9h0m0.4 -19.9h0m0 17.4h0m0 -26.1h0m5.3 -2.9h0m0 0.7h0m-0.1 12.9h0m-0.4 -6h0m0.5 10.4h0m4.3 -2h0m0 -15h0m-0.6 1.5h0m0 1.9h0m0.1 -5.9h0m6.1 1.4h0m0.4 11.3h0m-0.5 -3.1h0m-0.6 -18.7h0m0.7 20.4h0m5.1 -13.2h0m0 -16.7h0m0 -0.5h0m-0.8 10.4h0m0.6 10.3h0m0.5 -18.2h0m-0.3 17.1h0m5 -11.7h0m-0.3 3.2h0m-0.4 -20.2h0m0.2 5.9h0m0.5 13.7h0m5 -10.7h0m0 -17.8h0m0.4 14.8h0m-0.5 -2.8h0m0.1 -20.5h0m-0.7 -0.9h0m0.7 34.6h0m5 -24.8h0m0 9.8h0m0.7 -18.6h0m-0.6 -4.3h0m-0.7 1.7h0m0.9 4.7h0m-0.8 14.9h0m0.5 12.6h0m0 -40.4h0m3.8 8.3h0m-0.1 12.2h0m0.2 -1.4h0m-0.1 1.4h0m1.4 -10.1h0m-0.8 -8.5h0m5.6 41h0m0 -20.9h0m0 5.4h0m0 -3.2h0m-0.5 13h0m0.8 -11.1h0m-1 -23.8h0m0.8 20.7h0m-0.4 -15.1h0m0.5 36.8h0m0 -37.9h0m-0.2 37.8h0m4.8 -33.7h0m0 11.3h0m0 29.9h0m0 -33.5h0m0 4.1h0m-0.6 -29.3h0m0.1 36h0m1.1 -38.6h0m-0.6 56h0m0.2 0.8h0m-0.8 1.6h0m0.9 -56.4h0m-0.2 17.5h0m-0.1 30.1h0m0.7 -30.3h0m-0.7 46.2h0m4.6 -65.1h0m0 68.4h0m0 -7.8h0m0 -52.3h0m0 36.8h0m0 18.3h0m0 -63.5h0m-0.3 31h0m0.2 -5.3h0m-0.1 -6h0m0.8 12.3h0m0 26.2h0m0.1 -26h0m-0.2 -31.5h0m-1.3 47h0m0.5 13.4h0m-0.4 -18.2h0m0.9 3.1h0m-0.2 25.1h0m0 6.1h0m0 -79.8h0m5.6 31.8h0m0 36.9h0m0 -37.1h0m0 26.1h0m0 -5.8h0m-0.1 -32.2h0m0.4 28.4h0m-0.8 -1.7h0m0.5 8.1h0m0.7 -0.6h0m-1 13.3h0m-0.2 -8h0m-0.2 -23.3h0m5.6 32.5h0m0 -2.3h0m0 -13.3h0m0 8.1h0m0 1.1h0m-0.1 -12.8h0m-0.4 7.9h0m0.7 -0.4h0m0.3 9.9h0m-0.4 -3.6h0m-0.1 9.2h0m0 -39.3h0m5.3 27h0m-0.1 -13h0m-1.4 13.9h0m0.7 8h0m0 -27.1h0m4.9 11.5h0m0 -7.9h0m0 9.5h0m-0.1 5.4h0m-0.4 -17.7h0m0.1 9.6h0m0.4 -9.7h0m5.3 9.2h0m-0.6 5.8h0m1.1 -5.6h0m-0.5 8.2h0m0 10.8h0m5.3 -18.8h0m0.3 -2.2h0m-0.2 9.4h0m4.4 -21.5h0m-0.5 4.4h0m0.4 8.4h0m-0.2 -6h0m0.3 11.7h0m5.4 -29.7h0m-0.3 19.3h0m-0.3 3.2h0m0 -13.6h0m0.6 -11h0m3.8 -2.5h0m0.6 8.7h0m0.6 -0.6h0m-0.4 15.7h0m5.7 -13.7h0m0 -12.5h0m0.6 -9.8h0m-0.4 9.1h0m0.3 -9.2h0m-1.2 5.5h0m1 4.4h0m-0.3 26.8h0m0 -38.7h0m4.1 4h0m0 2.6h0m0 21.9h0m0 -32.7h0m0 28.1h0m0.7 -5.9h0m-0.8 -1.3h0m0.3 -7.3h0m-0.1 31.4h0m0.2 -30.9h0m-0.1 9.7h0m-0.8 -6.7h0m5.9 -22h0m0 36h0m0 -34.6h0m0 18.7h0m0 15.4h0m-0.3 -9.4h0m0.3 -8.5h0m0.1 -12.7h0m-0.2 -7.2h0m0.1 32.1h0m0 -32.2h0m-0.2 49.1h0m0.7 -35.2h0m4.7 -13.7h0m0 35h0m0 -28.9h0m0.7 17.5h0m-1.1 3.4h0m0.4 6.3h0m-0.1 -31.9h0m0.8 -4.2h0m0 0.1h0m-0.7 39.7h0m0 -39.6h0m4.7 21.5h0m0 -12.6h0m0 5.4h0m0.2 13.7h0m-0.1 -28h0m-0.4 26.6h0m-0.3 -15.4h0m0.1 -10h0m0.5 35.7h0m4.9 -23.9h0m-0.4 -0.8h0m0.7 5.9h0m-1.2 -0.4h0m0.7 9.7h0m0 -30h0m5.8 14.1h0m-0.4 4.7h0m1.2 -21.3h0m-0.5 22.6h0m-0.9 -26.2h0m0.6 31h0m5.2 -36.4h0m0 6.1h0m0 18.4h0m0.5 3.3h0m0 -5.3h0m-1.2 -7.5h0m1 -11.2h0m-0.3 26.6h0m0 -32.6h0m4.7 15.7h0m0.5 -12.7h0m-1 12.7h0m0.7 -12.1h0m0 19.4h0m-0.5 -6.1h0m0.3 -23.4h0m4.5 32.3h0m-0.4 6.2h0m0.4 1.3h0m-0.1 -27.4h0m0.2 -6.4h0m-0.9 8.5h0m0.8 25.1h0m0 -36.2h0m5.7 7.7h0m0 -0.1h0m0 48.7h0m0 0.4h0m0.1 -11.7h0m0.6 5.8h0m-0.8 -40h0m-0.7 55.2h0m0.6 -2.7h0m0.6 -45.3h0m0 38.4h0m0 4.7h0m0.1 18.3h0m-1.2 -69.8h0m0.4 43.9h0m0.3 26.7h0m4.5 -5.6h0m0 -47.9h0m0.6 15h0m-0.5 -19.9h0m0.2 16.2h0m-0.5 14.5h0m0.1 26.7h0m0.3 -20h0m-0.1 -19.6h0m0.6 37.2h0m-0.7 2.3h0m5.5 -39h0m0 31.6h0m0 -12h0m0 13.4h0m0 -26.5h0m0 9h0m0 16.2h0m-0.1 -8.1h0m0.3 -23.7h0m-0.9 24h0m0.3 -6.2h0m0.6 -4h0m-0.2 26h0m0 -42.8h0m5 36.8h0m0 -19.1h0m0 -1.4h0m0 11.4h0m0 -2.7h0m0.4 10.1h0m-0.1 -20.6h0m-1 13.3h0m0.2 13h0m0.2 -12.4h0m0.3 13.2h0m4.8 -17h0m0.4 -12.5h0m-1.2 20.3h0m0.2 -19.6h0m0.6 9h0m0 20.3h0m4.5 -18.1h0m0 -19.7h0m0.4 11h0m0 -4h0m-0.4 -5.9h0m5.2 17.2h0m0 -12.4h0m0 4.1h0m-0.6 -2.6h0m1.2 13.3h0m-0.4 -23.4h0m-0.2 -0.5h0m5.1 10.7h0m0.2 4.3h0m-0.5 1.8h0m0.3 -9.3h0m0 -12.3h0m4.6 5.1h0m0.7 5.7h0m-0.6 -12.2h0m-0.6 3.6h0m0.5 -5.5h0m5.8 2.5h0m0 -0.9h0m0.7 3h0m-0.9 -2.5h0m0.2 17.7h0m4.6 -24.8h0m0 -5.6h0m-0.5 -0.7h0m1.3 3.9h0m-0.7 11.3h0m0.7 5.9h0m-0.8 -23.7h0m6.1 17.9h0m-0.8 3.5h0m0.8 -12.8h0m-0.5 6.8h0m-0.2 -19.5h0m-0.1 37h0m4.6 -19.1h0m0.4 0.6h0m-0.8 -17h0m5.4 9.3h0m-0.8 6.4h0m0.4 -21.3h0m5.2 -2.1h0m0.4 1.9h0m-0.5 17.4h0m4.7 -25.4h0m0 4.7h0m0.6 3.2h0m0.1 4.5h0m4.8 -23.7h0m0 13.6h0m5.2 -17.2h0m0.6 -1.1h0m0 4.3h0m-0.3 1.1h0m-0.5 9.1h0m0.2 -32.8h0m4.7 31.4h0m0 -28.6h0m0 10.2h0m-0.5 7.3h0m0.7 -21.9h0m0.2 21.3h0m0.1 -23.9h0m-0.8 -0.8h0m0.3 41h0m5 8.8h0m0 -36.7h0m0 47.2h0m0 3.2h0m0 -9.3h0m0.6 -34.7h0m-0.8 -13.2h0m0.6 45.6h0m0.4 -42.4h0m-0.3 34.3h0m0.1 22.4h0m-0.8 -27.1h0m0.8 -14.5h0m0.2 41.8h0m-1 -25.5h0m0.2 25.9h0m0 4.9h0m-1448.4 -4.1h0m-9 -13h0m43 -42.3h0m-9 7.3h0m33.7 -3.3h0m5 -4h0m30.3 20.3h0m0 23h0m28 -41h0m31 16.7h0m0 6.3h0m62 -10h0m0 7h0m12 1.7h0m9 -5h0m22 -25h0m-417.2 54.3h0m18.2 5h0m0 30.7h0m-42.5 36.9h0m-4.5 9.1h0m4.5 -2.7h0m-4.5 39.7h0m60.6 -132.7h0m434.4 -120.3h0m0 -50h0m35 89.3h0m64 -120h0m0 10.7h0m0 53.3h0m12.7 31.7h0m0 6.3h0m9.3 1h0m0 -11h0m29 -25h0m21.7 -34h0m26.3 -52.3h0m-5 10h0m43.7 -70h0m1 70h0m0 3.3h0m37.3 25h0m44 -137h0m16 -17h0m250.7 377h0m36 128h0m46.3 -24.3h0m49.7 28.3h0m9 -4h0m-9 24h0m110.3 -64.3h0m108 -31.7h0m-10 -101h0m10 -8h0m11 2.7h0m34.7 93.3h0m22.3 -9.3h0m5 -76.7h0m39 0h0m-1 84h0m76 -54.3h0m7 -28.7h0"/>
<path class="d" stroke="#ee0a24" d="m283.4 491.9h0m0 1.2h0m0 13.8h0m0 -12.6h0m0 0.7h0m0 11.5h0m0 14h0m0 -24.4h0m0 28.6h0m0 -12.9h0m0 -6.2h0m0 20.1h0m0 -32.3h0m0 28.2h0m0 -19.7h0m5.2 -16.7h0m0 36.4h0m0 -0.9h0m0 -10.7h0m0 -23.2h0m0 24.6h0m0 -2.1h0m0 13.3h0m0 -6.6h0m0 -20.6h0m0 3.9h0m0 10.8h0m0 -24.7h0m0 16.8h0m0 -11.3h0m0 -1.9h0m0 -2.2h0m0 27.2h0m0 -24.5h0m4.5 -20.7h0m0 49.2h0m0 -44.2h0m0 -3.8h0m0 42h0m0 -12.8h0m0 -23.1h0m0 5.1h0m0 4.8h0m0 0.8h0m0 -12h0m0 36h0m0 7.1h0m0 -26.1h0m0 0.9h0m0 -19.7h0m0 0.8h0m0 11.9h0m0 -3.8h0m0 27.9h0m0 -33.1h0m0 -6.8h0m0 45.9h0m5.1 -36.6h0m0 39.4h0m0 -7.7h0m0 7h0m0 -23.6h0m0 0.2h0m0 22.4h0m0 -9.1h0m0 -22.8h0m0 -1.7h0m0 1h0m0 30.9h0m0 -4.1h0m0 -27h0m0 27.9h0m0 6.3h0m0 -13.3h0m0 -12.6h0m0 8.2h0m0 -17.2h0m0 -4.8h0m5.4 17.1h0m0 27.7h0m0 -10.3h0m0 -3.1h0m0 -1.8h0m0 2.5h0m0 -1.7h0m0 14h0m0 -7.3h0m0 5.3h0m0 2h0m0 -20.6h0m0 9.1h0m0 11.5h0m0 10.7h0m4.5 -24.1h0m0 23.9h0m0 -17.8h0m0 -3.4h0m0 7.1h0m0 9.7h0m0 -16.3h0m0 18.8h0m0 -8.5h0m0 3.1h0m0 -14.9h0m0 -0.7h0m5.4 8.9h0m0 20.3h0m0 -3.8h0m0 -7.1h0m0 -2.2h0m0 2.4h0m0 4h0m0 -7.5h0m0 10.7h0m0 -2.8h0m4.7 -9.1h0m0 20.7h0m0 -15.8h0m0 -3.8h0m0 6.7h0m0 -7.7h0m0 -0.4h0m0 6.1h0m0 6h0m0 -1.2h0m0 4.8h0m0 -2h0m5.4 4.6h0m0 -5.5h0m0 -3.8h0m0 -9.8h0m0 16h0m0 -1h0m0 -4.9h0m0 0.6h0m0 2.5h0m0 -11.9h0m0 13.5h0m0 -9.8h0m4.6 -6h0m0 15.9h0m0 -17h0m0 8.3h0m0 6.7h0m0 2.8h0m0 -9.7h0m0 -3.4h0m0 -1.1h0m0 13.8h0m0 -13.8h0m0 25.5h0m5.8 -31h0m0 9.7h0m0 -5.8h0m0 -1.7h0m0 -2.6h0m0 0.6h0m0 8.2h0m0 -6.1h0m4 -10.1h0m0 11h0m0 -6.4h0m0 -1.6h0m0 -0.6h0m0 5.5h0m0 3h0m0 -9h0m0 5h0m5.5 -12.6h0m0 12.3h0m0 -12h0m0 2.8h0m0 9.3h0m0 -11.3h0m0 5.1h0m0 1.6h0m5.4 -19.7h0m0 21.5h0m0 -11.8h0m0 2.2h0m0 -12.1h0m0 17.5h0m0 -12.9h0m0 9.7h0m0 -8.1h0m0 -4.1h0m0 2.9h0m0 9.1h0m4.3 -19.9h0m0 19h0m0 -9.4h0m0 -6.4h0m0 16.3h0m0 -14.1h0m0 10.9h0m0 -12.6h0m0 -0.2h0m0 11.5h0m0 -5.6h0m0 -19.3h0m4.9 6.3h0m0 14.7h0m0 -2.6h0m0 0h0m0 -6.5h0m0 8.1h0m0 -12h0m4.9 -6.3h0m0 12.9h0m0 0.1h0m0 0h0m0 -7.9h0m0 -1.9h0m0 2.5h0m0 0.9h0m0 6h0m5.2 -26.2h0m0 20.1h0m0 -6.1h0m0 1.6h0m0 2.1h0m0 -3.9h0m0 -11.8h0m0 15.6h0m0 -11.9h0m0 5.9h0m0 -4.1h0m0 7.8h0m0 -11.6h0m4.9 -14.2h0m0 5h0m0 -7.5h0m0 3.7h0m0 11.4h0m0 1.7h0m0 -14.8h0m0 -6.3h0m0 10.4h0m0 11.6h0m0 -16.3h0m0 4.2h0m0 -3.6h0m0 19.5h0m0 -8.1h0m0 23.8h0m5.4 -59.8h0m0 40.3h0m0 -21.2h0m0 13.2h0m0 6.7h0m0 -32.1h0m0 31.2h0m0 1.3h0m0 -20.6h0m0 18.5h0m0 -22.5h0m0 9.8h0m0 -19.3h0m0 26.2h0m0 -23.6h0m0 7.6h0m0 18.5h0m5.3 -5.5h0m0 -16.4h0m0 -4.1h0m0 19h0m0 -27.1h0m0 24h0m0 4.6h0m0 -8.8h0m0 2.8h0m0 -20.6h0m0 26.1h0m0 -16.3h0m0 15.5h0m0 -26.3h0m0 20.7h0m0 4.7h0m5 -30.7h0m0 32.9h0m0 -8.4h0m0 -16.6h0m0 24.7h0m0 -13.4h0m0 2.6h0m0 -11.9h0m0 -10.5h0m0 1.1h0m0 3.9h0m0 15.8h0m0 -6.2h0m0 2.7h0m0 12.9h0m4.2 -30.5h0m0 34.7h0m0 -30.2h0m0 17.1h0m0 1.3h0m0 6.3h0m0 -23.6h0m0 5h0m0 -0.3h0m0 -9.3h0m0 31h0m0 -3.9h0m0 -2.5h0m0 -26.2h0m0 30.9h0m0 -3.6h0m0 -10.3h0m5.7 -8.1h0m0 54.8h0m0 -50.4h0m0 -7.7h0m0 5.2h0m0 54.1h0m0 -59.2h0m0 43.7h0m0 -3.9h0m0 6.8h0m0 -44.2h0m0 34.5h0m0 -14.9h0m0 29.9h0m0 0.1h0m0 4.7h0m0 -54.2h0m0 52.7h0m0 5h0m5 -57h0m0 62.7h0m0 -40.8h0m0 2.5h0m0 32.1h0m0 -52.1h0m0 -3.9h0m0 11.7h0m0 3.7h0m0 7.5h0m0 32.7h0m0 -42.1h0m0 19.3h0m0 14.3h0m0 -6.9h0m0 -20.7h0m0 33.5h0m0 -11.7h0m0 5.1h0m0 -37.1h0m4.8 12.9h0m0 48.3h0m0 -27.9h0m0 18h0m0 -3.4h0m0 -4.2h0m0 -18.9h0m0 8.7h0m0 1.5h0m0 8.3h0m0 -10.5h0m0 13.2h0m0 12.7h0m0 -37.2h0m0 23.4h0m0 -13.2h0m0 5.1h0m0 -22.5h0m0 25.1h0m0 11.9h0m4.6 -22.9h0m0 30.3h0m0 -21.7h0m0 4.1h0m0 -4.6h0m0 6.4h0m0 -8.9h0m0 3.5h0m0 -1.3h0m0 2.1h0m0 4.7h0m0 7.8h0m0 0.8h0m0 -11h0m0 21h0m5.4 -35h0m0 38h0m0 -38.5h0m0 18.5h0m0 3.8h0m0 4.1h0m0 7h0m0 -18.6h0m0 1.7h0m0 21.7h0m0 -35.5h0m0 22.6h0m0 -0.1h0m0 -24.3h0m0 23.3h0m0 2.9h0m0 10h0m0 -24.1h0m0 26.1h0m5.1 -31.6h0m0 34h0m0 -9.9h0m0 -3.6h0m0 3h0m0 -16.8h0m0 16.3h0m0 3.5h0m0 -26.1h0m0 26.5h0m0 5h0m0 -9.3h0m0 6h0m0 -1.3h0m0 -8h0m0 27.5h0m5.1 -19h0m0 -8.6h0m0 -8.2h0m0 15.5h0m0 -22.2h0m0 23.2h0m0 -8.1h0m0 -23.1h0m0 0.1h0m0 20.9h0m0 5.4h0m0 -24.1h0m0 7.5h0m0 13.7h0m0 -18.4h0m0 22.7h0m5.1 -23.8h0m0 22.3h0m0 -3.9h0m0 -0.5h0m0 1.4h0m0 -7.1h0m0 -7h0m0 13.7h0m0 -1.1h0m0 -2.9h0m0 5.5h0m0 -13.5h0m0 -6.2h0m4.3 -1.1h0m0 17.9h0m0 -10.7h0m0 -5.2h0m0 10.2h0m0 3.1h0m0 -12.4h0m0 8.6h0m0 -4.9h0m0 3.4h0m0 -9.7h0m0 0.2h0m5.5 -8.9h0m0 29.9h0m0 -16.8h0m0 -9.4h0m0 26.1h0m0 0.8h0m0 -24.9h0m0 -5.9h0m0 7h0m0 21h0m0 0h0m0 -27.7h0m0 23.9h0m0 -2.5h0m4.9 -21.7h0m0 6.2h0m0 15.7h0m0 -5.1h0m0 -13.1h0m0 23.3h0m0 -19.4h0m0 4.7h0m0 -8.3h0m0 3.7h0m0 18.3h0m0 -16.2h0m0 -5.4h0m0 4.9h0m4.7 -18.1h0m0 27.4h0m0 -10.7h0m0 -3.1h0m0 -6.2h0m0 9.4h0m0 2.6h0m0 2.9h0m0 -6.3h0m0 -10.5h0m0 -3.8h0m0 18.4h0m0 -8.9h0m0 8.6h0m0 -18.4h0m5 -7.3h0m0 33.8h0m0 -25.5h0m0 -7.5h0m0 2.2h0m0 20.7h0m0 -17.3h0m0 -6.1h0m0 20h0m0 -0.8h0m0 -1.9h0m0 6.2h0m0 -20.5h0m0 26.2h0m0 -5.2h0m0 -23h0m0 2.7h0m5.3 -16.3h0m0 29.8h0m0 -14.5h0m0 -14.8h0m0 3.6h0m0 25.4h0m0 -5.9h0m0 4.9h0m0 -9.3h0m0 5.4h0m0 2.3h0m0 -26h0m0 18.6h0m0 -11.5h0m0 12.6h0m0 -12.4h0m4.7 -17.4h0m0 15.1h0m0 -15.6h0m0 9.3h0m0 -3.1h0m0 8.6h0m0 -1.7h0m0 -5.6h0m0 19h0m0 -18.8h0m0 13h0m0 -16.7h0m0 -2.5h0m0 21.9h0m0 14.3h0m5.2 -20.6h0m0 -8.2h0m0 -13.8h0m0 3.2h0m0 5.2h0m0 -5.4h0m0 -2h0m0 14.8h0m0 -10.9h0m0 -8.3h0m0 3.8h0m0 -5.1h0m0 13.8h0m0 0.2h0m4.9 -29.8h0m0 28.8h0m0 -24.3h0m0 4.5h0m0 20.4h0m0 -4.7h0m0 -9.7h0m0 -12.4h0m0 17.9h0m0 4h0m0 5.2h0m0 -3.1h0m0 -22.6h0m0 4.2h0m0 6.8h0m5.5 -17h0m0 10h0m0 -5.5h0m0 2.9h0m0 -5h0m0 23.9h0m0 -9.6h0m0 -6.9h0m0 3h0m0 -1.9h0m0 -9.8h0m0 24.8h0m0 -9.1h0m0 11.1h0m0 -15.4h0m0 5.4h0m4.5 4.2h0m0 27.2h0m0 -9.2h0m0 -8.9h0m0 -5.1h0m0 15.1h0m0 -16.9h0m0 4.9h0m0 15.6h0m0 -19.5h0m0 8.7h0m0 10.8h0m0 -0.8h0m0 -17.9h0m0 5.4h0m0 10.2h0m5 -3.7h0m0 27h0m0 -20.9h0m0 -2.8h0m0 16.3h0m0 -11.9h0m0 3.3h0m0 13.9h0m0 -3.6h0m0 2.3h0m0 -20.1h0m0 4h0m0 10.7h0m5.3 -1.4h0m0 14.3h0m0 -12.7h0m0 1.4h0m0 10.4h0m0 -2.5h0m0 -9.7h0m0 8.9h0m0 -4.4h0m5 -2.3h0m0 14.5h0m0 -14.4h0m0 4.7h0m0 0.8h0m0 -3.3h0m0 1.7h0m0 -2.7h0m0 9h0m0 -0.6h0m4.6 -10.3h0m0 0.6h0m0 3h0m0 2h0m0 -1.5h0m0 -2.8h0m0 -1.3h0m0 -0.9h0m0 14h0m5.6 -16.4h0m0 13.3h0m0 -3h0m0 0.7h0m0 -7.5h0m0 -2.1h0m0 9.5h0m0 -7.5h0m0 0.7h0m0 19.6h0m5.1 -32.3h0m0 6.9h0m0 10.9h0m0 -4.2h0m0 -2.7h0m0 -2.4h0m0 2.9h0m0 6.5h0m0 4.6h0m0 2.3h0m0 -17.5h0m0 4.2h0m0 3.5h0m0 -6.2h0m0 28.7h0m5 -43.6h0m0 17.3h0m0 -13.5h0m0 5.1h0m0 -5.1h0m0 4.3h0m0 1.2h0m0 -6h0m0 6.3h0m0 -8.4h0m5 -9.5h0m0 19.5h0m0 -8.2h0m0 6.7h0m0 -15.3h0m0 12.6h0m0 -8.8h0m0 9.2h0m0 -1.8h0m0 3.1h0m0 -15.3h0m0 5.5h0m5 -13.5h0m0 15.8h0m0 -13.3h0m0 5.7h0m0 6h0m0 -1.2h0m0 -10h0m0 10.3h0m0 -2.2h0m0 -4.7h0m0 -14.4h0m4.4 -5.8h0m0 17.8h0m0 -7.8h0m0 -0.8h0m0 8.1h0m0 0.7h0m0 -18.1h0m0 9.9h0m0 4h0m0 1.9h0m0 -1.8h0m0 -2.7h0m5.3 -32.1h0m0 25.5h0m0 -24.2h0m0 6.2h0m0 11.1h0m0 -4.6h0m0 10.1h0m0 -15.6h0m0 6.3h0m0 -13.2h0m0 2.6h0m0 10.6h0m0 10.6h0m4.7 -9.7h0m0 -19h0m0 9.2h0m0 -20.9h0m0 12h0m0 -12.4h0m0 9.7h0m0 5.4h0m0 3.5h0m0 -11.5h0m0 6.9h0m0 -15.1h0m0 30.7h0m0 -12.2h0m0 14.2h0m0 -40.5h0m4.8 -9h0m0 6.2h0m0 7h0m0 -8.2h0m0 1h0m0 28.4h0m0 -28.9h0m0 -5.1h0m0 28.5h0m0 -20.4h0m0 28.2h0m0 -18.4h0m0 5.2h0m0 -11.1h0m0 17.4h0m0 -13h0m0 -5.2h0m5.3 -10.9h0m0 34.3h0m0 -28.8h0m0 29.9h0m0 -25.7h0m0 -10h0m0 34.9h0m0 -35.5h0m0 33.2h0m0 -29.9h0m0 2.6h0m0 18.9h0m0 -12.6h0m0 21.3h0m5 -25.9h0m0 36.6h0m0 -12h0m0 -4.1h0m0 0.1h0m0 5.4h0m0 11h0m0 -10h0m0 -12h0m0 -3h0m0 24.6h0m0 -22.1h0m0 0h0m0 0.9h0m0 -10.1h0m0 32.3h0m5.1 -5.1h0m0 3h0m0 20.4h0m0 -10.4h0m0 0h0m0 7.4h0m0 -16.6h0m0 16.9h0m0 -9.4h0m0 4.6h0m0 6.6h0m4.8 -14.7h0m0 22.6h0m0 -20.8h0m0 13.2h0m0 5.4h0m0 -15.9h0m0 5.4h0m0 8.9h0m0 -4.2h0m0 -6h0m0 -7.9h0m0 9.6h0m0 -1.8h0m0 -1.7h0m5.1 1.9h0m0 10.8h0m0 4.2h0m0 0h0m0 -10.7h0m0 -2.8h0m0 14.4h0m0 -13.9h0m0 -0.3h0m0 13h0m4.9 6.7h0m0 -8.7h0m0 -3.1h0m0 1.7h0m0 0.5h0m0 1.8h0m0 -4.2h0m0 8.3h0m0 -11.4h0m0 13.7h0m0 -7h0m5.4 -5.1h0m0 12.8h0m0 -1.8h0m0 -9.4h0m0 10.5h0m0 -9.7h0m0 -1.4h0m0 9.2h0m4.3 -14.2h0m0 18.2h0m0 -14.4h0m0 6.4h0m0 -9h0m0 7.4h0m0 5.2h0m0 -5.9h0m0 4.9h0m0 -11.2h0m0 14.2h0m0 -14h0m5.7 -6h0m0 17.7h0m0 -12.3h0m0 -4.4h0m0 9.4h0m0 -8.9h0m0 8.8h0m0 4.5h0m0 -3.7h0m0 -2.5h0m0 -8.3h0m0 9.3h0m4.4 -18.9h0m0 23.2h0m0 -11.1h0m0 9.6h0m0 1.4h0m0 -11.3h0m0 7.5h0m0 -5.5h0m0 2.9h0m0 1.6h0m0 -14.8h0m0 2.7h0m5.1 -16.8h0m0 29.4h0m0 1.4h0m0 -6.4h0m0 -9.8h0m0 0.5h0m0 8.9h0m0 4h0m0 -4.9h0m0 -3.6h0m0 -13.7h0m0 13.3h0m0 7h0m0 -1.9h0m0 -21.8h0m0 19.6h0m0 -11.5h0m5.2 -22.5h0m0 22.2h0m0 -2.9h0m0 -11.5h0m0 5.9h0m0 5.6h0m0 -1h0m0 -7h0m0 -11h0m0 2.2h0m0 16.3h0m0 -9.2h0m0 4.3h0m5.4 -20.3h0m0 19.4h0m0 -19.7h0m0 3.6h0m0 5.8h0m0 7.2h0m0 -11.4h0m0 2.1h0m0 -5.2h0m0 9.3h0m0 6.3h0m0 -7.1h0m4.3 -8.6h0m0 23.6h0m0 -21.2h0m0 11.7h0m0 -0.3h0m0 -14h0m0 9.1h0m0 9.4h0m0 -2.8h0m0 -9.5h0m0 12.7h0m0 -12.5h0m0 6.7h0m0 -3.2h0m0 14.7h0m5.9 23.6h0m0 -3.8h0m0 -20.5h0m0 17.3h0m0 -8.9h0m0 6.3h0m0 -28.1h0m0 27.1h0m0 -12.8h0m0 4h0m0 5h0m0 -17.8h0m0 4h0m0 24.8h0m0 -17.4h0m0 -10.8h0m0 15.4h0m0 -16.7h0m0 23h0m4.2 -11.6h0m0 17.6h0m0 14.7h0m0 0.1h0m0 -5.8h0m0 2.9h0m0 2.1h0m0 -27.8h0m0 21.3h0m0 -3.4h0m0 -12.5h0m0 12.2h0m0 8.2h0m0 -20.5h0m0 -17.7h0m5.4 34.3h0m0 14.8h0m0 1.2h0m0 -3.1h0m0 2.6h0m0 -10.4h0m0 10.8h0m0 -15.1h0m0 6.7h0m0 -5.6h0m0 5.2h0m5.1 -3.6h0m0 15.1h0m0 -10.2h0m0 -3.1h0m0 7.6h0m0 5.9h0m0 -11.2h0m0 -4.3h0m0 2.2h0m0 2.9h0m0 8.9h0m0 -25.1h0m5.1 31.3h0m0 -14.3h0m0 6.8h0m0 -3.8h0m0 -6.7h0m0 15h0m0 -0.9h0m0 -5.8h0m0 -7.7h0m0 15.4h0m0 -6.4h0m4.7 -9.7h0m0 10.5h0m0 -9.6h0m0 3.2h0m0 2.7h0m0 7.1h0m0 0.7h0m0 -3.4h0m5.4 -16.2h0m0 17.7h0m0 -8.5h0m0 -1h0m0 2.2h0m0 -0.5h0m0 4h0m0 -13.8h0m0 -0.5h0m0 9.4h0m4.1 -16.2h0m0 27h0m0 -8.2h0m0 -2.6h0m0 -2.1h0m0 -1.8h0m0 -1.3h0m0 5.6h0m0 1h0m0 7.3h0m0 -5h0m0 1.7h0m0 1.1h0m0 -3.3h0m0 -18.7h0m5.3 -2.6h0m0 14.3h0m0 12.1h0m0 -22.8h0m0 10.5h0m0 3.4h0m0 -3.2h0m0 11.3h0m0 -15h0m0 14.3h0m0 -6.3h0m0 7.9h0m0 -21.4h0m0 2.1h0m0 27.4h0m4.8 -44.7h0m0 22.2h0m0 -12.3h0m0 6.6h0m0 -14.8h0m0 19.6h0m0 -13.8h0m0 11.4h0m0 -18.7h0m0 18.6h0m0 -14h0m0 14.7h0m0 -1.3h0m5.3 -4.8h0m0 -20.7h0m0 4.5h0m0 7.2h0m0 -4.4h0m0 10.4h0m0 -0.9h0m0 -15.7h0m0 -5.4h0m0 10.7h0m4.7 -20h0m0 24.5h0m0 -19.9h0m0 11.7h0m0 -7.7h0m0 -6.2h0m0 22.2h0m0 -12.9h0m0 -7.8h0m0 -4.3h0m0 16.5h0m0 -3.6h0m0 -12.6h0m0 11.5h0m0 6.9h0m5.5 -27.6h0m0 19h0m0 1.3h0m0 -11.2h0m0 -4.7h0m0 15.1h0m0 -13.2h0m0 1.8h0m0 -1.3h0m0 6.7h0m0 -13.3h0m0 7.2h0m4.5 -13.4h0m0 13.7h0m0 -14.8h0m0 4.1h0m0 0h0m0 10.3h0m0 -1.4h0m0 -6.9h0m0 1.7h0m0 4.8h0m5.6 -18h0m0 21.2h0m0 -11.7h0m0 4.5h0m0 0.7h0m0 -1.4h0m0 -10.4h0m0 17.4h0m0 -3.9h0m0 -12.3h0m0 4.4h0m0 -5h0m0 4.5h0m4.9 6.1h0m0 19.8h0m0 -14.1h0m0 -1h0m0 7.7h0m0 5.5h0m0 0.6h0m0 -6.4h0m0 -12.8h0m0 11.6h0m0 15.1h0m4.9 -16h0m0 24.8h0m0 -10.3h0m0 -10.7h0m0 14.2h0m0 -8.1h0m0 8.8h0m0 -12.9h0m0 15.1h0m0 -18.7h0m0 13h0m0 -10.4h0m0 13.6h0m5.3 0.5h0m0 18.8h0m0 -5.1h0m0 -13.1h0m0 10.9h0m0 -10.3h0m0 -0.7h0m0 9.1h0m0 -7.1h0m0 14.3h0m0 -8.2h0m4.2 -0.6h0m0 23.1h0m0 -21.2h0m0 4.4h0m0 -6h0m0 17.7h0m0 0.5h0m0 -8.6h0m0 -9.1h0m0 8h0m0 -7.8h0m0 -1.1h0m5.3 7.6h0m0 27h0m0 -23.4h0m0 20.7h0m0 -15.6h0m0 -4.4h0m0 16.8h0m0 -11.8h0m0 -4.5h0m0 6.7h0m0 13h0m0 -8.4h0m0 -16.5h0m0 22h0m0 -4.6h0m4.8 -10h0m0 17.7h0m0 -0.7h0m0 -2.9h0m0 -2.6h0m0 -3.3h0m0 12.5h0m0 0h0m0 2.4h0m0 -18.5h0m0 3.6h0m0 -2.6h0m0 -4.2h0m4.9 5.6h0m0 17.2h0m0 -4.7h0m0 -5.4h0m0 -6.3h0m0 8.1h0m0 5.5h0m0 -0.6h0m0 -8h0m0 -2.6h0m0 9.8h0m0 1.1h0m5.9 3.9h0m0 -12h0m0 11.5h0m0 -10.2h0m0 -11.4h0m0 13.4h0m0 4.7h0m0 -10.4h0m0 4.9h0m0 -9.4h0m0 0.4h0m0 4h0m0 2.5h0m0 -1.2h0m0 -10.3h0m4.3 -7.4h0m0 22.2h0m0 -15.6h0m0 -3.4h0m0 1.4h0m0 -3.2h0m0 5.5h0m0 4.4h0m0 -7.6h0m0 7.1h0m0 -1h0m0 12.7h0m0 -11.6h0m4.9 -17.8h0m0 21.6h0m0 -3.6h0m0 -4.7h0m0 2h0m0 -7.9h0m0 14.2h0m0 -9.3h0m0 -3.4h0m0 -5.2h0m0 -1.5h0m0 18.3h0m0 -2.3h0m0 -18.1h0m5.6 -7.7h0m0 20.1h0m0 0.2h0m0 -19.4h0m0 7.8h0m0 -5.4h0m0 12.5h0m0 2.5h0m0 -10.7h0m0 -6.6h0m0 17.6h0m5.1 -23.7h0m0 26.6h0m0 -8.7h0m0 -8.3h0m0 1.9h0m0 17h0m0 -2.6h0m0 1.7h0m0 -11h0m0 -13h0m0 1h0m0 6.5h0m0 9.6h0m0 -21.4h0m0 24.8h0m0 -0.5h0m5.1 -31.9h0m0 24.1h0m0 -21.6h0m0 4.4h0m0 -4.2h0m0 19.3h0m0 -10.9h0m0 7.2h0m0 -11.9h0m0 12h0m0 -2.1h0m0 -14h0m0 10.1h0m0 5.8h0m0 -12.9h0m4.8 -17.9h0m0 24.2h0m0 -19.9h0m0 -1.2h0m0 17.6h0m0 -18.1h0m0 1.8h0m0 8.1h0m0 -4.2h0m0 15.4h0m0 -11.8h0m0 8.1h0m0 -14h0m0 17.3h0m4.7 -26h0m0 18.1h0m0 -16.6h0m0 9.3h0m0 8.1h0m0 -12.2h0m0 3.4h0m0 -4.9h0m0 -6h0m0 3.7h0m0 -1.7h0m0 3.4h0m0 7.2h0m5.6 -16.4h0m0 21h0m0 -21.2h0m0 9h0m0 10.9h0m0 -7h0m0 -12.8h0m0 4.2h0m0 -0.5h0m0 14.5h0m0 -16.3h0m0 18.6h0m0 -14.9h0m4.5 -14.8h0m0 21.7h0m0 -12.9h0m0 3.1h0m0 -12.4h0m0 1h0m0 8.6h0m0 -4.4h0m0 12.2h0m0 -12.1h0m0 13.6h0m0 -8.1h0m4.7 -19.1h0m0 9.8h0m0 -3.6h0m0 -5h0m0 13.1h0m0 -4.4h0m0 -7.3h0m0 10.7h0m0 -5.1h0m0 4.9h0m0 -12.1h0m0 27.8h0m5.3 -34.5h0m0 2h0m0 9.9h0m0 0.2h0m0 -2.1h0m0 7h0m0 -16.4h0m0 11.8h0m0 1.5h0m0 -12.1h0m4.8 -17h0m0 23.1h0m0 -2.3h0m0 -7.1h0m0 9.8h0m0 -8.3h0m0 7.8h0m0 -9.8h0m0 -9.5h0m0 8.3h0m0 -1h0m0 -3.7h0m0 0.9h0m0 3.6h0m0 1.9h0m5.4 -19h0m0 20.1h0m0 -15h0m0 -4.7h0m0 6.6h0m0 -7.2h0m0 20.5h0m0 -9.7h0m0 3.2h0m0 6.6h0m0 -3.6h0m0 -12.7h0m0 2.4h0m0 -5.1h0m4.6 -6.5h0m0 15.5h0m0 -9.4h0m0 -6h0m0 5.9h0m0 6.2h0m0 -6.9h0m0 5.6h0m0 -0.9h0m0 -7h0m5.1 -18.6h0m0 20.6h0m0 -3h0m0 -11.8h0m0 11.1h0m0 -6.5h0m0 11.1h0m0 -20.4h0m0 7.1h0m0 -3.3h0m0 8.7h0m0 4.7h0m5.2 -31.3h0m0 25.6h0m0 -24.1h0m0 23.3h0m0 -15.7h0m0 -6.8h0m0 14.5h0m0 -3.4h0m0 -5.4h0m0 0h0m0 13.8h0m0 -13.5h0m0 16.5h0m0 -15.9h0m5.1 -20.8h0m0 33.4h0m0 -6.8h0m0 -7.4h0m0 -12.2h0m0 7.7h0m0 13.6h0m0 -2.7h0m0 -13.6h0m0 2.9h0m0 18.3h0m0 -5.2h0m0 -5.9h0m0 -19.2h0m0 17.8h0m0 -20.3h0m4.9 -4.5h0m0 33.1h0m0 -9.3h0m0 -8.3h0m0 11.4h0m0 -11.7h0m0 -9.2h0m0 26.9h0m0 -23.9h0m0 16.4h0m0 3.1h0m0 -20.7h0m0 15.8h0m0 -10.5h0m0 -6.1h0m0 -0.3h0m0 26.1h0m0 -20.7h0m5.3 -4.3h0m0 84.6h0m0 -15.1h0m0 -32.8h0m0 20.5h0m0 24.3h0m0 -66.3h0m0 19.4h0m0 8.4h0m0 -25h0m0 56h0m0 -62.2h0m0 2.9h0m0 0.6h0m0 30.2h0m0 -3h0m0 28.9h0m0 -71.1h0m0 79.2h0m0 -63.4h0m0 -13.9h0m0 63.2h0m0 -19.9h0m0 21.1h0m0 26.3h0m4.8 -74.9h0m0 68.9h0m0 -24.8h0m0 1h0m0 0.1h0m0 -44.7h0m0 29.5h0m0 -8.2h0m0 19.1h0m0 -18.3h0m0 -14.7h0m0 38.1h0m0 -26.9h0m0 18.2h0m0 18.4h0m0 -5.4h0m0 -46.6h0m0 61h0m0 -14.9h0m0 -25h0m0 -13.3h0m0 15.2h0m0 7.5h0m0 -6.1h0m0 -20.6h0m5.2 -1.1h0m0 67.3h0m0 -20.6h0m0 -7.2h0m0 9.1h0m0 -15.2h0m0 -21h0m0 17h0m0 -10.6h0m0 1.2h0m0 23.3h0m0 -37.7h0m0 27.7h0m0 -18h0m0 18.9h0m0 14.3h0m0 -23.4h0m0 2.6h0m0 38.5h0m0 -6h0m4.7 -43.3h0m0 51.6h0m0 -46.6h0m0 2.8h0m0 29.5h0m0 -25.9h0m0 32.7h0m0 -27.2h0m0 -1.4h0m0 4.9h0m0 -20.1h0m0 22.2h0m0 -2.9h0m0 -19.3h0m0 44.5h0m0 -25.5h0m0 -19.6h0m0 50.3h0m0 -38.4h0m0 1.3h0m0 -12h0m0 4h0m0 32h0m4.7 -26h0m0 39.6h0m0 -22.1h0m0 14.8h0m0 -6.9h0m0 -19.5h0m0 34h0m0 -33.9h0m0 13h0m0 -2.9h0m0 23.1h0m0 -23h0m0 18.5h0m0 -3h0m0 -8.2h0m0 -12h0m0 8h0m0 33.5h0m5 -49.2h0m0 10.8h0m0 7.6h0m0 0.9h0m0 0h0m0 15.3h0m0 -34.7h0m0 15.5h0m0 3.4h0m0 6.3h0m0 8.7h0m0 -12.5h0m0 -5.2h0m0 5.6h0m0 -3.6h0m0 6.2h0m5.4 -29.6h0m0 34.7h0m0 -6.9h0m0 -10.5h0m0 -13h0m0 24.2h0m0 0h0m0 -21.6h0m0 25.8h0m0 -4.6h0m0 -20.8h0m0 -8.1h0m0 31h0m0 -1.5h0m0 -26.1h0m0 23.9h0m0 0.3h0m0 -5h0m4.7 -24.6h0m0 31h0m0 -20.9h0m0 -3.1h0m0 17.4h0m0 -2.4h0m0 2.2h0m0 -8h0m0 5.3h0m0 -18.1h0m0 8.1h0m0 -3.2h0m0 14.5h0m0 -16.7h0m0 3.5h0m0 -1.3h0m5.2 -9.5h0m0 30.1h0m0 0.3h0m0 -30.9h0m0 26.3h0m0 -0.9h0m0 -14.3h0m0 14.6h0m0 -11.5h0m0 -1.9h0m0 -6.9h0m0 19.4h0m0 -2.2h0m0 -20.6h0m0 28.5h0m0 6.1h0m5.1 -48.6h0m0 22.3h0m0 -1.4h0m0 -2.3h0m0 -12.4h0m0 -5.6h0m0 11.6h0m0 2.4h0m0 -10.3h0m0 -4.3h0m0 10.6h0m0 -10.8h0m0 16.8h0m0 -2.7h0m0 -22h0m5 -7.1h0m0 19.8h0m0 -8h0m0 5.2h0m0 3.7h0m0 -13.1h0m0 -7.9h0m0 18.6h0m0 -18.2h0m0 7.7h0m0 8.2h0m4.4 -18.8h0m0 18.7h0m0 -14.8h0m0 5.3h0m0 -4.9h0m0 12.3h0m0 1.1h0m0 -3.8h0m0 -1h0m0 -8.9h0m5.4 -15.1h0m0 28.1h0m0 -3.1h0m0 -7.9h0m0 -14.7h0m0 22.7h0m0 -5.4h0m0 -13.3h0m0 8.6h0m0 8.6h0m0 -9.7h0m0 4.8h0m4.6 -28.5h0m0 31.8h0m0 -22.1h0m0 12.5h0m0 -9.4h0m0 -12.5h0m0 30.3h0m0 -18.7h0m0 3h0m0 11.6h0m0 -17.4h0m0 8.3h0m0 -17.7h0m0 1.9h0m0 26.5h0m0 12.6h0m5.4 -52.7h0m0 23.2h0m0 -4.5h0m0 -16.2h0m0 6.9h0m0 -4.3h0m0 5.3h0m0 4.5h0m0 -1.8h0m0 7.7h0m0 -9.2h0m0 0.1h0m5.1 -14.2h0m0 15h0m0 -2.6h0m0 7.3h0m0 -5.1h0m0 -12.4h0m0 8.3h0m0 0.1h0m0 3.6h0m0 -5.5h0m0 0.8h0m0 1h0m4.5 1.6h0m0 35.1h0m0 -18.7h0m0 15.6h0m0 1.6h0m0 -11.8h0m0 -19.3h0m0 12h0m0 -6.4h0m0 25.3h0m0 -7.4h0m0 -14.5h0m0 8.6h0m0 -9.2h0m0 4.3h0m0 13.9h0m5.9 -0.6h0m0 11h0m0 -3.4h0m0 -4.2h0m0 23.2h0m0 -16.2h0m0 10.4h0m0 -7.3h0m0 2h0m0 -9.9h0m0 -0.9h0m0 4.9h0m0 10.7h0m0 -4.3h0m0 -16.7h0m4.8 16.6h0m0 21.4h0m0 -6.6h0m0 -9.6h0m0 -0.2h0m0 -4.4h0m0 21.4h0m0 -22.5h0m0 13.6h0m0 -6.2h0m0 -3.9h0m0 5.9h0m0 11.8h0m0 -16.3h0m4.5 0.5h0m0 21.2h0m0 -12.7h0m0 -6h0m0 5.6h0m0 3.6h0m0 0h0m0 -3.2h0m0 8.6h0m0 -15.4h0m0 5.2h0m0 13.1h0m0 -1.5h0m5.2 0.5h0m0 -11.8h0m0 1.1h0m0 9.2h0m0 -2h0m0 -4.2h0m0 -3.9h0m0 -1.8h0m0 10.7h0m0 -10h0m4.9 -7.6h0m0 21.8h0m0 -0.5h0m0 -6.4h0m0 -8.7h0m0 9.9h0m0 -5.7h0m0 7.2h0m0 -10h0m0 11.9h0m0 -4.5h0m0 -5.4h0m0 2.6h0m0 22.2h0m5.4 -39h0m0 23.8h0m0 -15.6h0m0 -5.3h0m0 7.2h0m0 13.5h0m0 -3.6h0m0 3h0m0 -17.8h0m0 0h0m0 1.3h0m0 -5.2h0m0 11.3h0m0 -5.5h0m4.4 9.1h0m0 -3.2h0m0 -17.8h0m0 11.2h0m0 4.4h0m0 5.9h0m0 -1.1h0m0 -19.5h0m0 6.3h0m0 14.6h0m0 -0.9h0m0 -16.5h0m0 27.7h0m5.7 -38.5h0m0 26.4h0m0 -12.9h0m0 12.8h0m0 -7h0m0 -1.6h0m0 -3.1h0m0 8h0m0 -17.9h0m0 18.2h0m0 -23h0m0 14.1h0m0 1h0m4.5 -27h0m0 29.5h0m0 -5.8h0m0 -19h0m0 -2.6h0m0 16.3h0m0 -5.4h0m0 14.5h0m0 -25.3h0m0 19.9h0m0 -2.4h0m0 -9.3h0m0 -7.5h0m0 15h0m0 4.6h0m0 -8.9h0m0 0h0m5.5 -25.8h0m0 33.5h0m0 -21.4h0m0 9.3h0m0 -2.8h0m0 -9.9h0m0 18.4h0m0 -27.6h0m0 8.7h0m0 22.5h0m0 -13.6h0m0 -16.5h0m0 9.4h0m0 11h0m0 7.1h0m0 -24.9h0m0 10h0m4.1 -19.7h0m0 38.1h0m0 -8.6h0m0 1.3h0m0 -8.9h0m0 16.3h0m0 -8.5h0m0 6.1h0m0 1.5h0m0 -35.5h0m0 26.9h0m0 -21.1h0m0 4h0m0 0.7h0m0 3.7h0m0 2.5h0m5.6 -29.3h0m0 37.3h0m0 -38.5h0m0 31h0m0 -26h0m0 -0.6h0m0 21.3h0m0 -20.6h0m0 -4.3h0m0 18.5h0m0 -19h0m0 9.8h0m0 -2.1h0m0 -7.9h0m0 9.4h0m0 3.2h0m4.8 -27.1h0m0 5.9h0m0 6.2h0m0 15.9h0m0 -5h0m0 14.5h0m0 -4.4h0m0 -24h0m0 14.4h0m0 -16.2h0m0 3.2h0m0 -4.2h0m0 -3.1h0m0 12.1h0m0 23.7h0m0 -10.2h0m0 -25.1h0m0 5.8h0m0 16.5h0m5.1 -38h0m0 42.3h0m0 -22h0m0 -17.8h0m0 4.4h0m0 11.7h0m0 -4.1h0m0 6.5h0m0 1.3h0m0 -6.1h0m0 -11h0m0 -4.9h0m0 23.2h0m0 -11.9h0m0 3h0m0 -1.4h0m0 7.5h0m0 13h0m0 -34h0m4.7 -12.8h0m0 48h0m0 -40.8h0m0 34.7h0m0 -14.7h0m0 14.2h0m0 -34.8h0m0 16.1h0m0 -0.6h0m0 -17.6h0m0 7.6h0m0 32.1h0m0 -20.1h0m0 4.9h0m0 12.2h0m0 4.6h0m0 -17.5h0m0 -26.6h0m0 40.1h0m0 -34.5h0m0 3.7h0m0 -5.1h0m0 49.6h0m5.6 -71.1h0m0 53.3h0m0 -51.5h0m0 11.5h0m0 20.4h0m0 18h0m0 -5.6h0m0 -40.3h0m0 36.3h0m0 -1.6h0m0 12.7h0m0 -21.6h0m0 -25.5h0m0 26.1h0m0 0.8h0m0 12.7h0m0 -46.1h0m0 -0.1h0m0 52.5h0m0 -38.7h0m5.1 -19.1h0m0 51.3h0m0 -19h0m0 -31.4h0m0 43.1h0m0 -26.9h0m0 5.4h0m0 12.5h0m0 -27.1h0m0 10.6h0m0 21.9h0m0 -5.5h0m0 -24h0m0 2h0m0 -11.7h0m0 31.6h0m0 14.7h0m0 -19.2h0m0 18.9h0m4.1 -55.6h0m0 45.2h0m0 -3.5h0m0 -6.4h0m0 4.7h0m0 -15.3h0m0 18.5h0m0 -20.9h0m0 -19.4h0m0 4.3h0m0 38.3h0m0 -21h0m0 -2.2h0m0 -7.9h0m0 15.9h0m0 2.2h0m0 -11.8h0m0 -8.7h0m0 6.9h0m5.8 20.7h0m0 -33.3h0m0 -15.2h0m0 42.5h0m0 -10.1h0m0 -10.4h0m0 20.7h0m0 -43.1h0m0 32.8h0m0 -8h0m0 -2h0m0 -12.7h0m0 -1.9h0m0 23.8h0m0 -17.5h0m0 31.7h0m0 -1.9h0m0 -33.3h0m0 12.7h0m0 -21.8h0m5 -17.9h0m0 2.9h0m0 0.1h0m0 15h0m0 -14.1h0m0 49h0m0 -33.2h0m0 1.7h0m0 26.1h0m0 -18h0m0 5.4h0m0 -10.7h0m0 1.2h0m0 27.9h0m0 -38.2h0m0 13.9h0m0 -2.6h0m0 -18.6h0m0 20.2h0m0 16.4h0m0 -20.6h0m0 -20.9h0m0 49.1h0m0 -44.7h0m4.6 -14.8h0m0 50.8h0m0 -2.2h0m0 -29.5h0m0 13.6h0m0 -28.3h0m0 35.3h0m0 4.7h0m0 -25.4h0m0 7.3h0m0 -13.5h0m0 -2.2h0m0 -4.2h0m0 28.8h0m0 -9.1h0m0 23h0m0 0.3h0m0 -4.5h0m0 3.6h0m0 -47.4h0m0 5.4h0m0 43.6h0m4.8 -59h0m0 46.3h0m0 -38.6h0m0 19.1h0m0 -26h0m0 0.2h0m0 6.8h0m0 23.2h0m0 -2h0m0 17.9h0m0 -15.6h0m0 -6.6h0m0 -24.1h0m0 44.8h0m0 -22.3h0m0 17.5h0m0 -38.6h0m0 37.6h0m0 -17.1h0m0 -12.3h0m0 9h0m0 -15.7h0m0 24h0m5.5 -35.7h0m0 45.3h0m0 -2.3h0m0 -7.8h0m0 -10.1h0m0 -8.8h0m0 -11.9h0m0 -0.3h0m0 36.6h0m0 -0.6h0m0 -31.7h0m0 26.2h0m0 2.7h0m0 2.4h0m0 -31.2h0m0 6.9h0m0 8.3h0m0 -3h0m0 -6.8h0m0 26.2h0m5.1 -2h0m0 -23h0m0 2.5h0m0 6.2h0m0 -22.7h0m0 30.5h0m0 -30.8h0m0 6.9h0m0 24.4h0m0 6.2h0m0 -28.1h0m0 26.6h0m0 -41.6h0m0 41.8h0m0 -34.4h0m0 -7.5h0m0 33.1h0m0 -27.4h0m0 26.9h0m0 -33.9h0m4.5 -5.1h0m0 46.6h0m0 -29.7h0m0 24.4h0m0 -6.9h0m0 -22h0m0 13.5h0m0 -25.7h0m0 43.6h0m0 -14.3h0m0 -24.4h0m0 19.1h0m0 -1.1h0m0 8.3h0m0 -18h0m0 29.3h0m0 -13.6h0m0 -25.9h0m0 35.2h0m0 3.1h0m0 -27.4h0m0 19.2h0m5 -25h0m0 49.2h0m0 -36.7h0m0 21.7h0m0 -24.7h0m0 26.3h0m0 -19.9h0m0 10.6h0m0 -22.8h0m0 38.3h0m0 -2.3h0m0 -10.4h0m0 5.5h0m0 -17.8h0m0 -10.7h0m0 10h0m0 21h0m0 -8.9h0m0 -21.7h0m0 5.3h0m0 11.9h0m0 -23.3h0m0 1.5h0m4.8 20.6h0m0 13.2h0m0 11.7h0m0 11.2h0m0 -28.2h0m0 -1.7h0m0 11.1h0m0 -12.8h0m0 1.6h0m0 -1h0m0 37.3h0m0 4.2h0m0 -4h0m0 2.1h0m0 -10.3h0m0 -18.8h0m0 27.8h0m0 -39.5h0m0 -1.8h0m0 48.5h0m0 -39.2h0m0 37.1h0m5.5 -16.1h0m0 39.6h0m0 -4.5h0m0 -3.1h0m0 -20.1h0m0 -7.3h0m0 11.3h0m0 -2.7h0m0 4.7h0m0 11h0m0 6.9h0m0 0.9h0m0 -6.2h0m0 -24.6h0m0 8h0m0 -15h0m0 13.8h0m0 -6.7h0m0 12.4h0m4.9 -11.1h0m0 0.6h0m0 2.3h0m0 16.5h0m0 10.4h0m0 -22.9h0m0 3.3h0m0 -2.8h0m0 25.9h0m0 -6h0m0 -22.2h0m0 23.1h0m0 -27.8h0m0 8.9h0m0 20.5h0m0 -1.8h0m0 -1.5h0m5.1 -19.2h0m0 45.5h0m0 -19.5h0m0 -18.2h0m0 -4.7h0m0 28.8h0m0 0.9h0m0 -2.7h0m0 -19.3h0m0 10.8h0m0 13.2h0m0 -6h0m0 12.6h0m0 -38.3h0m0 32h0m0 -35.6h0m0 24.4h0m0 -5.4h0m0 11.6h0m4.9 -24.3h0m0 42.6h0m0 -39.2h0m0 14.5h0m0 25h0m0 -25.9h0m0 4.7h0m0 13.5h0m0 -3.4h0m0 -15.6h0m0 14.6h0m0 -4.2h0m0 -26.5h0m0 7.8h0m0 -0.8h0m0 7.8h0m0 17h0m0 -31.6h0m0 37.7h0m0 -34.6h0m5 44.3h0m0 -30h0m0 29.4h0m0 0h0m0 -21.1h0m0 -16.1h0m0 29h0m0 -14.9h0m0 13.6h0m0 -6.8h0m0 3.5h0m0 -7.2h0m0 -20.5h0m0 16.1h0m0 -19.5h0m0 5.8h0m0 39.3h0m0 -29.5h0m0 -12h0m0 14.7h0m4.6 -17.9h0m0 44.8h0m0 0.1h0m0 -7.9h0m0 -35.7h0m0 20.4h0m0 -12.5h0m0 1.2h0m0 23.2h0m0 -7.5h0m0 -21h0m0 7.3h0m0 -10.3h0m0 40.5h0m0 -8.1h0m0 -13.3h0m0 23.1h0m0 0.8h0m0 -36.4h0m0 -0.7h0m5.2 -3.6h0m0 44.4h0m0 -45.1h0m0 45.2h0m0 -12.6h0m0 -18.2h0m0 20.1h0m0 6.9h0m0 -21.8h0m0 -2.6h0m0 6.9h0m0 -0.1h0m0 -10.7h0m0 -10.7h0m0 26.1h0m0 4h0m5.5 -30.8h0m0 40.4h0m0 -24.6h0m0 10.7h0m0 -20.6h0m0 34.1h0m0 -19.7h0m0 -3.7h0m0 -15.9h0m0 14.8h0m0 7.7h0m0 -19.9h0m0 36.7h0m0 -16.2h0m0 -5.3h0m0 -8.8h0m0 3.8h0m0 12.9h0m0 -19.6h0m4.3 -8.8h0m0 38.4h0m0 -0.7h0m0 0.4h0m0 -22.1h0m0 8.8h0m0 -20.2h0m0 18.9h0m0 10.8h0m0 0.1h0m0 -29.5h0m0 1h0m0 29.2h0m0 -8.1h0m0 2.5h0m0 -27.5h0m0 21.8h0m0 -23.6h0m0 28.3h0m0 23.4h0m5.7 -8.2h0m0 -8.3h0m0 -14.5h0m0 -0.9h0m0 0.4h0m0 11.8h0m0 0h0m0 1.9h0m0 -18.8h0m0 14h0m0 -13.9h0m0 24.4h0m0 1.9h0m0 -7.6h0m0 -18.5h0m0 -1.4h0m0 3.8h0m0 8h0m0 -26.7h0m0 24h0m0 17.9h0m4.6 -4.2h0m0 -24.8h0m0 18.7h0m0 -33.9h0m0 40h0m0 -8.5h0m0 -10h0m0 3.6h0m0 -14.8h0m0 20.1h0m0 4.7h0m0 -16.2h0m0 -12.1h0m0 1.4h0m0 25.9h0m0 -9h0m0 -8.4h0m0 -11.3h0m4.6 -10.3h0m0 36.8h0m0 -32.4h0m0 -3.4h0m0 24.1h0m0 -23.4h0m0 33.3h0m0 -9.1h0m0 -20.5h0m0 9.6h0m0 -13.7h0m0 1.3h0m0 10.2h0m0 20.3h0m0 1.3h0m0 -6.1h0m0 -4.5h0m0 -2h0m0 2.8h0m5.5 -30.6h0m0 32.7h0m0 -7.9h0m0 -16.8h0m0 -0.4h0m0 12.1h0m0 -19.2h0m0 31h0m0 -7.5h0m0 -7.9h0m0 -4.7h0m0 -9.9h0m0 16.7h0m0 7.6h0m0 -22.9h0m0 19.9h0m0 -7.6h0m0 23.8h0m4.7 -45.7h0m0 35.3h0m0 -19.1h0m0 -10.9h0m0 20.7h0m0 -14.9h0m0 -9.1h0m0 32.3h0m0 -31.8h0m0 20.4h0m0 3.9h0m0 -9.9h0m0 14.7h0m0 -6.2h0m0 6.8h0m0 -0.4h0m0 -1.7h0m4.9 -35.1h0m0 34.1h0m0 -30.5h0m0 26h0m0 5.2h0m0 -9.2h0m0 -19.3h0m0 8.6h0m0 6.3h0m0 8.9h0m0 1.1h0m0 -19.9h0m0 -10.6h0m0 22.5h0m0 0.8h0m0 -1.4h0m4.9 -22.2h0m0 34.6h0m0 -27.8h0m0 20h0m0 -21.1h0m0 26.6h0m0 3.2h0m0 -0.5h0m0 -6.5h0m0 -11.7h0m0 12.5h0m0 4.1h0m0 -8.7h0m0 -21.9h0m0 10.3h0m0 11.9h0m0 -12.1h0m5.5 -21h0m0 28.9h0m0 -3.9h0m0 4.6h0m0 -13.3h0m0 -16.1h0m0 2.8h0m0 16.6h0m0 -16.7h0m0 23.7h0m0 -26.1h0m0 0h0m0 10.9h0m0 4.6h0m0 1.2h0m0 -14.7h0m5.4 -4.4h0m0 27.3h0m0 -15.1h0m0 10h0m0 2.7h0m0 -19.7h0m0 8.8h0m0 -10.9h0m0 0.7h0m0 3.5h0m0 -7h0m0 15.1h0m0 1.4h0m0 -6.5h0m5 -13.5h0m0 26h0m0 -15.1h0m0 -5h0m0 -5.8h0m0 11.4h0m0 4.7h0m0 -16.2h0m0 7.6h0m0 16.3h0m0 -3.6h0m0 -13.5h0m0 4h0m0 0.4h0m0 8h0m4.4 -1.4h0m0 -12.6h0m0 8.4h0m0 -17.7h0m0 13.8h0m0 1.4h0m0 -10.3h0m0 -2.9h0m0 2.2h0m0 11.8h0m0 -0.3h0m0 5.3h0m5.2 -32.7h0m0 20.3h0m0 -9.1h0m0 -6.9h0m0 2.1h0m0 2h0m0 9.6h0m0 -2.4h0m0 -6.5h0m0 -9h0m0 6.4h0m0 10h0m5.1 -22h0m0 16.6h0m0 -0.4h0m0 -4.3h0m0 2.4h0m0 -4.6h0m0 0.9h0m0 -8.6h0m0 12.4h0m0 -3.4h0m0 0.1h0m0 -6.2h0m0 20.2h0m4.9 -25.1h0m0 20.4h0m0 -18.9h0m0 -2.2h0m0 18.9h0m0 -12.1h0m0 3.2h0m0 2.1h0m0 -7.4h0m0 9h0m0 7.1h0m-5.3 101h0m0 -23.5h0m4.6 27.2h0m0 -72.3h0m0 71.5h0m0 14.3h0m0 -60.8h0m0 13h0m5 -58.3h0m0 67.2h0m0 4.3h0m0 25.5h0m0 -91.9h0m0 22.1h0m0 55.2h0m0 12.7h0m0 -18.8h0m0 -60.8h0m0 113.1h0m0 -58h0m0 16.5h0m0 -7.4h0m0 10.7h0m5.1 67.4h0m0 -71.6h0m0 -21.5h0m0 40.3h0m0 -8.5h0m0 -67h0m0 10.1h0m0 39.8h0m0 -35.9h0m0 53.6h0m0 6.3h0m0 4.3h0m0 -2.3h0m0 -66.2h0m0 101.8h0m0 -37.8h0m0 31.7h0m0 -52.8h0m0 -36.9h0m0 74.4h0m0 24.2h0m0 -50.5h0m0 -19.6h0m0 -47.5h0m0 54.8h0m0 15.4h0m0 31.2h0m0 -100.5h0m0 22.3h0m0 88.8h0m0 -96.3h0m0 85.6h0m0 -73.7h0m5.1 95.5h0m0 -39.1h0m0 -20.9h0m0 -17.9h0m0 -16h0m0 25.3h0m0 -31.6h0m0 48.6h0m0 20.4h0m0 -59.4h0m0 83.1h0m0 -39.4h0m0 22.2h0m0 -25h0m0 47.2h0m0 -14.9h0m0 -72.4h0m0 55.4h0m0 -36.8h0m0 62.5h0m0 -48.8h0m0 -18.9h0m0 -24.7h0m0 123.4h0m0 -112.3h0m0 17.1h0m0 88h0m0 -67.4h0m0 2.9h0m0 32.1h0m0 13.2h0m0 24.9h0m0 -85h0m0 -13.4h0m0 -27.2h0m0 79.7h0m0 -67.5h0m0 21.9h0m0 80.5h0m0 -39.2h0m0 -24.3h0m4.9 -31.4h0m0 125.8h0m0 -81.9h0m0 76.5h0m0 5.2h0m0 -11h0m0 -53.2h0m0 21.8h0m0 31.4h0m0 -60.6h0m0 62h0m0 -15.4h0m0 -55.6h0m0 42h0m0 -66.9h0m0 11.7h0m0 -19h0m0 113.2h0m0 -22.5h0m0 -40.2h0m0 30.7h0m0 -7.5h0m0 -31.2h0m0 10.1h0m0 -49.9h0m0 27.5h0m0 1.6h0m0 38.4h0m0 -53h0m0 -0.5h0m0 80.9h0m0 -11.8h0m0 19.1h0m0 -19.5h0m0 -74.1h0m0 37.2h0m0 43.9h0m0 -3.5h0m0 -73.4h0m0 32.3h0m0 13.5h0m0 -73.4h0m0 29.5h0m0 63.3h0m0 -9.5h0m5.1 -65.5h0m0 114.5h0m0 -60.4h0m0 -35h0m0 49.5h0m0 7.4h0m0 13.5h0m0 -43.7h0m0 -2.5h0m0 -35.2h0m0 15.4h0m0 68.8h0m0 19.6h0m0 -70.6h0m0 -4.2h0m0 4.3h0m0 41.1h0m0 -27.5h0m0 -5.5h0m0 14.6h0m0 -51.6h0m0 40.9h0m0 -20.3h0m0 -14.7h0m0 41.3h0m0 20.5h0m0 -20.4h0m0 16.7h0m0 -28.7h0m0 64.7h0m0 -88.7h0m0 -23.8h0m0 79.4h0m0 -36.2h0m0 2h0m0 -6.5h0m0 -11.6h0m5.1 -6.8h0m0 107.5h0m0 -107.7h0m0 100.2h0m0 -40h0m0 -39.7h0m0 8.2h0m0 56h0m0 7h0m0 -42.2h0m0 10.2h0m0 -21.5h0m0 -6.9h0m0 23.9h0m0 50.5h0m0 -24.5h0m0 -16.3h0m0 -36h0m0 49.2h0m0 -24.2h0m0 -20.2h0m0 15h0m0 -48.2h0m0 10.2h0m0 87.9h0m0 -89.6h0m0 63.7h0m0 -68.7h0m0 97.2h0m0 3.3h0m0 -57.4h0m0 -37.4h0m0 45.3h0m4.5 -39.4h0m0 104.7h0m0 -11.6h0m0 -44.8h0m0 40.9h0m0 -38.1h0m0 29.3h0m0 -56.2h0m0 15.9h0m0 -26.6h0m0 75.1h0m0 -4.6h0m0 18h0m0 -31.2h0m0 -26.8h0m0 -45h0m0 15.8h0m0 2.3h0m0 11.1h0m0 36.8h0m0 26.5h0m0 -46.7h0m0 -27.5h0m0 -7.6h0m0 45.2h0m0 -18.8h0m0 16.3h0m0 -42h0m0 26.4h0m0 16h0m5.3 -38.3h0m0 102.3h0m0 -14.2h0m0 1.5h0m0 3.6h0m0 -18.7h0m0 -16.3h0m0 -5.7h0m0 9.2h0m0 38.2h0m0 -81.5h0m0 73.8h0m0 -14.7h0m0 9.5h0m0 -57.7h0m0 10.8h0m0 19.1h0m0 -34.4h0m0 62.1h0m0 7.5h0m0 -63.7h0m0 37.4h0m0 22.6h0m0 -4.5h0m0 -66.5h0m0 33.5h0m0 47h0m0 -3.1h0m0 -92.9h0m0 26.9h0m0 80.8h0m5.4 -85.1h0m0 88.5h0m0 -58.6h0m0 26.3h0m0 -33.5h0m0 2.5h0m0 49.2h0m0 -62.2h0m0 3h0m0 3.5h0m0 50.2h0m0 -8.4h0m0 3.9h0m0 -43.7h0m0 10.7h0m0 -12.7h0m0 20.8h0m0 21.9h0m0 -25.7h0m0 -31.8h0m0 5.2h0m0 49.4h0m0 15.4h0m0 -12.9h0m4.6 -38.4h0m0 78.9h0m0 -9.5h0m0 10.4h0m0 -41.6h0m0 -4.6h0m0 32.4h0m0 -50.3h0m0 8.4h0m0 -3.9h0m0 41.5h0m0 -11.9h0m0 -26h0m0 -15.2h0m0 53.3h0m0 -13.3h0m0 -35.1h0m0 26.3h0m0 26.8h0m0 -4h0m0 -12.3h0m0 -37.1h0m0 -9.3h0m0 63.7h0m-79.3 -170h0m5.1 -58.8h0m1.1 8h0m-0.6 30.5h0m0.3 6.6h0m-0.4 7.6h0m4.2 -60.8h0m0.6 7.5h0m-0.6 39.8h0m1 15.5h0m0.6 12.8h0m-1.4 15.6h0m4.8 -98.2h0m1 7.5h0m-0.7 15h0m-0.2 8.3h0m0 8.1h0m1.2 14.8h0m-0.2 7.2h0m-1 9.1h0m4.6 -79h0m0.5 22.7h0m1.1 14.5h0m-0.6 15.4h0m0.8 21.4h0m-0.4 22.1h0m-0.3 16.2h0m-0.6 7.4h0m-0.2 14.3h0m0.9 22h0m4.3 -134.2h0m0.6 5.8h0m0.6 9.6h0m-1.5 5.3h0m1.6 8.7h0m-1.5 6.5h0m0 7.5h0m0.3 15.1h0m1.3 16h0m-0.3 6.2h0m-0.2 7.8h0m4 -75.5h0m0.1 47.2h0m0.4 15.3h0m0.8 20.1h0m-1.5 9.2h0m1.4 20.8h0m-1.3 15.8h0m0.7 7.8h0m4.1 -149.9h0m1.8 7.7h0m-1.5 7.7h0m0.6 30.9h0m-0.6 5h0m0.4 39h0m0 14.1h0m-0.3 8.6h0m1.5 37.1h0m47.1 26.7h0m0 71.1h0m0 -39.2h0m0 -17h0m0 53.2h0m0 -59.5h0m0 -9h0m0 32.6h0m0 0h0m0 -32.4h0m0 35.3h0m0 -32.5h0m0 21.4h0m0 18.3h0m0 -27.6h0m0 22.7h0m0 13h0m0 -50.7h0m0 35.2h0m0 10.2h0m0 18.7h0m0 -14.8h0m0 10.7h0m4.7 -49.7h0m0 90.2h0m0 -77.1h0m0 -10.9h0m0 42.3h0m0 -9.7h0m0 33.9h0m0 -56.7h0m0 5.9h0m0 44.1h0m0 -44h0m0 -7.5h0m0 21.9h0m0 1.4h0m0 -12.8h0m0 9.2h0m0 37.1h0m0 -64.7h0m0 85.5h0m0 -5.3h0m0 -57.8h0m0 16.2h0m0 29.9h0m0 9h0m0 -15.8h0m5 38.1h0m0 -5.1h0m0 -26.3h0m0 -32.9h0m0 26.8h0m0 18.1h0m0 -37.5h0m0 27.1h0m0 -4.3h0m0 15.6h0m0 -20.6h0m0 30.7h0m0 -25.6h0m0 7.7h0m0 -51.7h0m0 10.3h0m0 66.3h0m0 -66.4h0m0 59.9h0m0 -50h0m0 -12.6h0m0 34.3h0m0 3.6h0m0 -45.9h0m4.8 3.7h0m0 88.5h0m0 -80.4h0m0 59h0m0 21.3h0m0 -26.4h0m0 -43.4h0m0 56.8h0m0 0.5h0m0 -54.8h0m0 5.4h0m0 20.3h0m0 -23.9h0m0 41.6h0m0 22.8h0m0 -29.2h0m0 -27h0m0 10.5h0m0 10.4h0m0 0.6h0m0 28.9h0m0 -31.1h0m0 35h0m0 -43h0m0 -2.8h0m0 -37h0m4.9 5.9h0m0 22.9h0m0 -10.9h0m0 55.7h0m0 -58.1h0m0 72.5h0m0 -73.8h0m0 31.6h0m0 -39.7h0m0 52.7h0m0 -31.3h0m0 59.7h0m0 -50.9h0m0 43.9h0m0 -21.5h0m0 -19.9h0m0 -9h0m0 -2.7h0m0 -12.2h0m0 19.9h0m5.2 -13.9h0m0 79.6h0m0 -0.2h0m0 -20.5h0m0 -34.8h0m0 -18.7h0m0 34.4h0m0 21.4h0m0 -2.4h0m0 3.6h0m0 -38.9h0m0 -19.7h0m0 34.6h0m0 -12.3h0m0 43.6h0m0 -26.8h0m0 19.1h0m0 -3.8h0m0 -23.1h0m0 28.8h0m0 15.3h0m0 -67.8h0m5.4 75.3h0m0 -51.8h0m0 46.7h0m0 -57.7h0m0 58.4h0m0 -65.5h0m0 45.4h0m0 -4.7h0m0 24.6h0m0 -52.2h0m0 57.3h0m0 -31.7h0m0 17.9h0m0 -41.8h0m0 55.9h0m0 -20.7h0m0 -18.7h0m0 -19h0m0 25.7h0m0 32.1h0m0 -7.9h0m0 -12.1h0m0 -62.3h0m5 15.8h0m0 75h0m0 1h0m0 -33.1h0m0 -3.1h0m0 0.5h0m0 31.7h0m0 1.9h0m0 -59.6h0m0 26.2h0m0 -8.9h0m0 30h0m0 8.8h0m0 -23.5h0m0 -41.9h0m0 35.2h0m0 -31.6h0m0 53.7h0m0 -11.3h0m0 -16h0m0 -24.1h0m0 60.2h0m0 -4.7h0m0 -29.8h0m0 -33.9h0m0 48.6h0m0 -21.5h0m5.1 20h0m0 -26.7h0m0 -12.9h0m0 43.2h0m0 -40.4h0m0 2.1h0m0 61h0m0 -66.3h0m0 50.3h0m0 -44.8h0m0 -6.2h0m0 -2.9h0m0 52.5h0m0 13h0m0 -66h0m0 10.2h0m0 -7.7h0m0 26.6h0m0 -6.3h0m0 36.5h0m0 -52.5h0m4.2 -5.6h0m0 75.9h0m0 -4.8h0m0 -48.7h0m0 0.3h0m0 -17.9h0m0 22.9h0m0 31.8h0m0 -18.2h0m0 26.6h0m0 -21.2h0m0 2.1h0m0 -16.7h0m0 31.4h0m0 -29.6h0m0 -23.8h0m0 50.4h0m0 -47.3h0m0 34.3h0m0 4.2h0m0 -16.6h0m0 14.3h0m0 -17.8h0m0 13h0m0 -13.6h0m0 43.1h0m0 -30.6h0m5.7 37.6h0m0 -2.2h0m0 -29.2h0m0 5.9h0m0 -49.6h0m0 38.8h0m0 -23.5h0m0 14.6h0m0 15.5h0m0 19.3h0m0 -30.1h0m0 33.8h0m0 -37.9h0m0 16.3h0m0 -24h0m0 -0.1h0m0 41.5h0m0 9.7h0m4.3 -77.7h0m0 78.1h0m0 -70h0m0 65.3h0m0 -73.4h0m0 57.6h0m0 -30.6h0m0 47h0m0 -72.6h0m0 52.9h0m0 -24.8h0m0 35h0m0 -30h0m0 17.4h0m0 1.7h0m0 -38.7h0m0 29.7h0m0 -41.5h0m0 9.1h0m0 21.4h0m0 -27.1h0m0 34.6h0m0 -10.3h0m0 -7.9h0m0 35.2h0m4.9 -60.8h0m0 80.5h0m0 -46h0m0 6.6h0m0 -32.2h0m0 46.9h0m0 -51.8h0m0 16.1h0m0 27.1h0m0 -45.7h0m0 24.8h0m0 39.1h0m0 -6.3h0m0 -29h0m0 30.5h0m0 9.7h0m0 -64.2h0m0 49.8h0m0 -39.9h0m0 50.4h0m0 -1.9h0m0 12.2h0m0 -21.5h0m0 -1.1h0m0 -30.4h0m0 -1.9h0m5.8 -32.1h0m0 85.9h0m0 -53.5h0m0 -30.5h0m0 19h0m0 -0.2h0m0 -3.3h0m0 54.5h0m0 11h0m0 -55.4h0m0 42.3h0m0 -43.8h0m0 24.5h0m0 -33.8h0m0 62.5h0m0 -34.5h0m0 6.6h0m0 17.8h0m0 -23.6h0m0 -3h0m0 19.4h0m0 -20.8h0m0 -28.1h0m0 6.2h0m0 32.1h0m0 -0.6h0m4.6 5.6h0m0 -8.5h0m0 -41.4h0m0 14.8h0m0 56.5h0m0 -29.8h0m0 32.3h0m0 -15.1h0m0 -37.7h0m0 -29.4h0m0 64.1h0m0 -47.9h0m0 49.1h0m0 -18.6h0m0 -28.3h0m0 -18.2h0m0 49.1h0m0 -51.1h0m0 66.9h0m0 -55.7h0m0 26.1h0m5.4 -28.3h0m0 75.5h0m0 -5.6h0m0 2.5h0m0 -60.8h0m0 -5.6h0m0 0.5h0m0 -3h0m0 32h0m0 -8.5h0m0 28.9h0m0 -52.7h0m0 52.1h0m0 18.3h0m0 -51.1h0m0 8.3h0m0 26h0m0 -33.6h0m0 41.8h0m0 11.6h0m0 -59.8h0m0 -5.9h0m0 31.8h0m0 -12.7h0m0 44.7h0m0 1.6h0m4.4 -72.3h0m0 36.1h0m0 5.4h0m0 -14h0m0 -0.3h0m0 -3.1h0m0 -11.5h0m0 23.6h0m0 8.1h0m0 14.3h0m0 -27h0m0 -17.2h0m0 30.4h0m0 -17.8h0m0 11.7h0m0 -11.6h0m0 6.7h0m0 -28.1h0m0 22.6h0m0 -6.3h0m0 34.3h0m0 -36.8h0m0 33.1h0m5 10.8h0m0 -5.4h0m0 -54.5h0m0 17.9h0m0 -4.7h0m0 38.7h0m0 -32.5h0m0 -12.2h0m0 20h0m0 -22.4h0m0 4h0m0 22.5h0m0 3.1h0m0 -21.9h0m0 18.7h0m0 -2.4h0m0 11.5h0m0 -36.8h0m0 44.3h0m0 -5.6h0m4.7 16.6h0m0 -49.8h0m0 17.5h0m0 32.5h0m0 -38.4h0m0 3.1h0m0 35.9h0m0 -3.5h0m0 -28.4h0m0 15.1h0m0 6.6h0m0 -23.3h0m0 -18.7h0m0 19.7h0m0 16.9h0m0 14.4h0m0 -27.7h0m0 -1.7h0m0 -1.5h0m0 11.9h0m0 16.3h0m0 2.1h0m0 -48.9h0m5.4 10.7h0m0 46.6h0m0 -5.5h0m0 -27.3h0m0 -5.9h0m0 3h0m0 0.3h0m0 26.9h0m0 -5.9h0m0 -21.2h0m0 8.4h0m0 25.9h0m0 -35.4h0m0 34.6h0m0 -42.5h0m0 45.1h0m0 -32.5h0m0 -13.9h0m0 31.5h0m0 6.4h0m5 -32.3h0m0 44.8h0m0 -3.9h0m0 -27.8h0m0 21.4h0m0 -1h0m0 7.8h0m0 -23.3h0m0 -14.3h0m0 14.2h0m0 17h0m0 -31.4h0m0 16.2h0m0 -16.4h0m0 6.1h0m0 15.6h0m0 4.5h0m5 -16.7h0m0 6.9h0m0 10.3h0m0 -11.8h0m0 31h0m0 -14h0m0 -3.3h0m0 4.1h0m0 -12.7h0m0 -2.8h0m0 27.3h0m0 -2.2h0m0 -14.6h0m0 -7.3h0m5.4 -3.5h0m0 36.2h0m0 0h0m0 -25.7h0m0 -1.4h0m0 7.6h0m0 1h0m0 14.6h0m0 -9.6h0m0 9.1h0m0 -14.4h0m0 0.4h0m0 7.6h0m0 -18.8h0m0 14.9h0m0 -3.5h0m5.1 -9h0m0 33.2h0m0 -20h0m0 19h0m0 -17.1h0m0 -3.8h0m0 -11.8h0m0 12.6h0m0 1.2h0m0 13.2h0m0 5h0m0 -7.2h0m0 -8.2h0m0 -6.9h0m0 22.4h0m4.6 -29.1h0m0 34.3h0m0 0h0m0 -12.6h0m0 -7.1h0m0 2.5h0m0 12.4h0m0 -10.5h0m0 5.5h0m0 4.4h0m0 -4.5h0m0 7h0m0 -6.9h0m0 6.8h0m0 -14.5h0m0 12.2h0m0 -19.8h0m5.4 -3.9h0m0 38.4h0m0 -17.9h0m0 -4.9h0m0 23.2h0m0 -23.3h0m0 15.7h0m0 -11.5h0m0 -6.3h0m0 19.7h0m0 3.1h0m0 -36.1h0m0 23.2h0m0 6.2h0m0 -9.8h0m0 -4.1h0m0 12.5h0m0 -22.3h0m0 12.6h0m0 -10.9h0m0 39.2h0m4.2 -34.4h0m0 33.8h0m0 -19h0m0 19.2h0m0 -27.4h0m0 8.1h0m0 5.6h0m0 2.5h0m0 6h0m0 -16.6h0m0 -10h0m0 12.1h0m0 6.7h0m0 -9.1h0m0 12.7h0m0 -14.5h0m5.3 4.8h0m0 22.8h0m0 -15.5h0m0 -5.4h0m0 4h0m0 9.8h0m0 -13h0m0 0.2h0m0 -1.6h0m0 18.6h0m0 -2.5h0m5 12h0m0 -30.5h0m0 21.5h0m0 2h0m0 -23.3h0m0 30.7h0m0 -31.8h0m0 24.7h0m0 -9.8h0m0 15h0m0 0.6h0m0 -6.5h0m0 -21.8h0m0 18.5h0m4.9 21.2h0m0 -6h0m0 -13.5h0m0 -19.2h0m0 21.6h0m0 -21.1h0m0 23.9h0m0 6.3h0m0 -30.8h0m0 27.3h0m0 -19.1h0m0 31.7h0m0 -21.4h0m0 1.7h0m0 13.6h0m0 -23.1h0m0 28.1h0m0 -27.6h0m5.3 -12.9h0m0 48.8h0m0 -44.9h0m0 -4.9h0m0 36.4h0m0 7.8h0m0 -31.6h0m0 -2.8h0m0 -9.1h0m0 4.1h0m0 -1.4h0m0 11.3h0m0 7.4h0m0 -12.5h0m0 25h0m0 3.6h0m0 3.7h0m0 -14.5h0m0 10.6h0m0 2.1h0m0 -3.5h0m5.3 -38.6h0m0 56h0m0 -41.3h0m0 5.7h0m0 3.6h0m0 7.7h0m0 -22.1h0m0 2.1h0m0 -11.4h0m0 21.7h0m0 -9.6h0m0 -12.3h0m0 47h0m0 -35.1h0m0 16h0m0 -26.6h0m0 28.8h0m0 14.6h0m0 -32.2h0m0 22.4h0m0 5.4h0m0 -9.4h0m0 -11.6h0m0 8.8h0m4.6 -47.8h0m0 78.6h0m0 -67.9h0m0 -7.7h0m0 30.5h0m0 -23.3h0m0 -8.4h0m0 53.5h0m0 -4.5h0m0 -23.9h0m0 36.4h0m0 -60.2h0m0 0.7h0m0 33.8h0m0 28.5h0m0 -3.9h0m0 -16.2h0m0 -13.4h0m0 11.1h0m0 -4.5h0m0 -14.2h0m0 39.2h0m0 -23.5h0m4.7 -58.9h0m0 87.8h0m0 -14.9h0m0 -1.8h0m0 -31h0m0 -4.5h0m0 34.8h0m0 -3.5h0m0 -47.7h0m0 39.9h0m0 19.8h0m0 -47.2h0m0 -11.3h0m0 34.6h0m0 -20.2h0m0 -34.5h0m0 28.2h0m0 33.7h0m0 -45.7h0m0 26h0m0 25.5h0m0 -37.3h0m0 -19.7h0m0 48.7h0m0 0.8h0m0 -6.8h0m0 -8.7h0m0 -5.1h0m5.4 -46.1h0m0 94h0m0 -22.8h0m0 21.1h0m0 -42.4h0m0 -18h0m0 -3h0m0 2.2h0m0 16.9h0m0 15.4h0m0 30.5h0m0 -38.8h0m0 39.2h0m0 -64.7h0m0 28h0m0 -15.2h0m0 0.9h0m0 -21.5h0m0 -15.4h0m0 70.1h0m0 -31.3h0m0 -12.8h0m0 -3.8h0m0 61.3h0m0 -58.6h0m0 23.4h0m4.8 39.2h0m0 -46.9h0m0 18.8h0m0 5.1h0m0 -57.6h0m0 0.4h0m0 64.4h0m0 -74.2h0m0 79.4h0m0 -6.1h0m0 -28.4h0m0 35.3h0m0 -10.2h0m0 -9.9h0m0 -38h0m0 -15.6h0m0 2.4h0m0 24.6h0m0 -1.8h0m0 39.4h0m0 17.4h0m0 -89.4h0m0 87.1h0m0 -49.9h0m0 35.4h0m5.2 -69.7h0m0 30.9h0m0 -8.7h0m0 42.2h0m0 -45.6h0m0 32.7h0m0 -18.2h0m0 9.6h0m0 -34.8h0m0 10.8h0m0 55.9h0m0 -61.2h0m0 63.8h0m0 -65.1h0m0 -10.4h0m0 -0.1h0m0 66h0m0 4.6h0m0 -50.9h0m0 5.9h0m0 -0.3h0m0 -3h0m0 28.4h0m0 -30.8h0m0 -11.5h0m0 42.4h0m4.6 -45.4h0m0 72.2h0m0 -36.4h0m0 -2.9h0m0 25h0m0 -38.3h0m0 2.3h0m0 8h0m0 -22.7h0m0 41.1h0m0 -24.9h0m0 -8.5h0m0 2.4h0m0 -1.6h0m0 49h0m0 -32.2h0m0 6.8h0m0 -16.9h0m0 20.8h0m0 6.1h0m0 -50.6h0m0 74.1h0m0 -19h0m0 -39.3h0m5 -13.4h0m0 75.3h0m0 -55.7h0m0 14.6h0m0 37.4h0m0 -15.5h0m0 0.2h0m0 13.7h0m0 -31h0m0 17.5h0m0 3.4h0m0 -14.3h0m0 22.2h0m0 -39.3h0m0 -1h0m0 36.1h0m0 6.7h0m0 -42.2h0m0 41.9h0m0 -17.4h0m0 -27.5h0m0 -4.8h0m5.6 46.6h0m0 -12.5h0m0 9.4h0m0 0.9h0m0 -50.7h0m0 31h0m0 -31.5h0m0 7.8h0m0 13.2h0m0 29.5h0m0 -3.7h0m0 1.7h0m0 -46.1h0m0 12.7h0m0 18h0m0 9.7h0m0 -44.8h0m0 -6.2h0m0 18.5h0m0 -16.7h0m0 29.7h0m4.5 -38.2h0m0 73.1h0m0 -18.1h0m0 -47.3h0m0 8.5h0m0 19.1h0m0 -20.8h0m0 8.1h0m0 -17.8h0m0 54.8h0m0 -26.5h0m0 29.1h0m0 -55.4h0m0 17.5h0m0 38.1h0m0 -29.9h0m0 11.9h0m0 -41.7h0m0 29.3h0m0 19.8h0m0 -35.1h0m0 56.2h0m0 -49.3h0m5.4 -19.9h0m0 79h0m0 -5.2h0m0 1h0m0 -1.8h0m0 0.8h0m0 -3.3h0m0 -49.9h0m0 -12.7h0m0 28.3h0m0 -35.8h0m0 33.8h0m0 -19.2h0m0 17.3h0m0 20.9h0m0 0.4h0m0 16.6h0m0 4.1h0m0 -50.3h0m0 2.2h0m0 6.9h0m0 -13.3h0m0 32.9h0m0 -1.3h0m4.5 -47.8h0m0 62.6h0m0 -51.7h0m0 61.7h0m0 -33.7h0m0 -23.8h0m0 52.1h0m0 -14.4h0m0 -22.2h0m0 15.7h0m0 15.9h0m0 -59h0m0 30h0m0 10.3h0m0 -44.8h0m0 21.2h0m0 10.3h0m0 -10.3h0m0 -7h0m0 2.3h0m5.4 -2h0m0 63.6h0m0 -34.5h0m0 -3.1h0m0 10.6h0m0 -18h0m0 7.8h0m0 23.7h0m0 -40.7h0m0 20.7h0m0 29.6h0m0 -59.8h0m0 22.1h0m0 40.1h0m0 -16.5h0m0 -30.9h0m0 17.3h0m0 -26.5h0m0 0.6h0m0 11.8h0m0 8.1h0m0 36.5h0m0 -5.3h0m5.4 9.5h0m0 -28.4h0m0 18h0m0 -38.3h0m0 -2.4h0m0 12.1h0m0 -0.3h0m0 -1.1h0m0 18.9h0m0 -1.9h0m0 17.9h0m0 -7.9h0m0 -13.4h0m0 -10.5h0m0 28.7h0m0 -25.5h0m0 -1.1h0m0 9.2h0m0 -4.4h0m4.3 -12.3h0m0 37.6h0m0 -10.8h0m0 9.1h0m0 -30.4h0m0 10.4h0m0 6.1h0m0 3.5h0m0 3.4h0m0 -17.1h0m0 1.2h0m0 16.1h0m0 -10.4h0m0 2.5h0m0 12.3h0m0 -27.5h0m0 12.3h0m0 -5.8h0m0 -10.9h0m5.3 28h0m0 -4.7h0m0 -9.2h0m0 -6.9h0m0 21h0m0 -10.3h0m0 10.2h0m0 -7.8h0m0 -6h0m0 -3.6h0m0 16.7h0m0 -3.8h0m0 -4.1h0m0 -18.8h0m4.8 5.8h0m0 14.7h0m0 -1.3h0m0 -14.5h0m0 2.2h0m0 -1.5h0m0 3.8h0m0 6.7h0m0 -1.4h0m0 -5.3h0m4.8 -6.3h0m0 13.2h0m0 -10.6h0m0 9.4h0m0 0.7h0m0 -6.7h0m0 7.3h0m0 -11.4h0m0 7.4h0m0 4.7h0m5.4 -16.8h0m0 17.2h0m0 -16.4h0m0 12.6h0m0 -6h0m0 6.4h0m0 -3.2h0m0 -4.4h0m0 -0.7h0m0 3.4h0m0 -6.9h0m0 2.4h0m5 -5.8h0m0 16h0m0 -2.6h0m0 -10.9h0m0 10.9h0m0 -0.6h0m0 -5.7h0m0 -3.7h0m0 10.3h0m5.1 -18.8h0m0 11.5h0m0 -3.5h0m0 -3.1h0m0 1.7h0m0 -4h0m0 -1.1h0m0 9h0m0 -4.3h0m4.7 2.2h0m0 -12.3h0m0 5h0m0 -7.7h0m0 4h0m0 4.7h0m0 4.5h0m0 -11.5h0m0 11h0m0 -2.5h0m0 2.9h0m4.8 -20.2h0m0 19.1h0m0 -9.8h0m0 0.1h0m0 6h0m0 -7.9h0m0 7.5h0m0 -3.5h0m0 -11.3h0m0 17.1h0m0 -4.9h0m4.9 -26.5h0m0 27.2h0m0 -16h0m0 -4.2h0m0 -2.6h0m0 3.9h0m0 -0.8h0m0 -6.2h0m0 23.3h0m0 -6.7h0m0 -4.3h0m0 -4.9h0m0 10.1h0m0 -9.6h0m0 14.2h0m5.1 -28.5h0m0 28.1h0m0 -26.7h0m0 3.1h0m0 20.4h0m0 -10.9h0m0 10.4h0m0 -11.8h0m0 0.8h0m0 -3.7h0m0 17.8h0m0 -27.2h0m0 4.7h0m5.1 -17h0m0 30.9h0m0 -14.3h0m0 12.8h0m0 -16.9h0m0 -1h0m0 -12.3h0m0 12.2h0m0 12.9h0m0 0.2h0m0 -11.3h0m0 0.5h0m0 5.4h0m0 -2.9h0m0 10.8h0m0 -23.9h0m0 -1.6h0m5 -9.5h0m0 43h0m0 -6.7h0m0 -22.8h0m0 -2.7h0m0 0.5h0m0 24.6h0m0 -6.2h0m0 -5.9h0m0 -23.1h0m0 28.5h0m0 -18.8h0m0 27.3h0m0 -12h0m0 4.5h0m0 10.4h0m4.8 -6.5h0m0 8.7h0m0 -39.8h0m0 -1.9h0m0 8.1h0m0 -2.7h0m0 1.3h0m0 9.8h0m0 21.7h0m0 -11.8h0m0 6.4h0m0 -11h0m0 21.1h0m0 -39.5h0m0 27.1h0m0 13.8h0m0 -6.6h0m0 -13.3h0m0 -7.7h0m0 -15.3h0m0 9.1h0m0 43.5h0m5.8 -58.5h0m0 65.1h0m0 -17h0m0 11.5h0m0 -25.2h0m0 -29.8h0m0 -0.3h0m0 54.7h0m0 1.2h0m0 -39.8h0m0 29.9h0m0 1.3h0m0 -7.4h0m0 -41.4h0m0 14.5h0m0 17.1h0m0 -11.4h0m0 3.2h0m0 -17.7h0m0 9.6h0m0 26h0m0 -26h0m4.3 61.7h0m0 -7.7h0m0 -49.8h0m0 16.9h0m0 8.3h0m0 -35.2h0m0 14.2h0m0 -10.6h0m0 28.8h0m0 20.6h0m0 -4.2h0m0 -39.5h0m0 -10.3h0m0 12.5h0m0 31.7h0m0 -17.9h0m0 20.4h0m0 -16.1h0m0 -9.8h0m0 0.1h0m0 8.1h0m0 -22.5h0m0 42.5h0m0 -59.1h0m5.3 29.4h0m0 54.3h0m0 -33.2h0m0 6.3h0m0 15.8h0m0 -24.7h0m0 35h0m0 -49.9h0m0 15.1h0m0 35.3h0m0 -28.7h0m0 -3.7h0m0 23.6h0m0 -33.1h0m0 31.9h0m0 -11.6h0m0 19.4h0m0 -18.8h0m0 -20.2h0m0 -1.7h0m0 33.1h0m0 -30.2h0m4.6 -7.5h0m0 55.4h0m0 -7.9h0m0 -19h0m0 -11h0m0 10.7h0m0 14.8h0m0 -23.6h0m0 -12.6h0m0 2.6h0m0 16.7h0m0 25.6h0m0 -40.2h0m0 27.9h0m0 -24.5h0m0 24.7h0m0 -22.5h0m0 -5.6h0m0 12.9h0m0 -1.3h0m0 -19.4h0m0 51.1h0m5.1 -47.9h0m0 50.3h0m0 -22.9h0m0 -25.6h0m0 8.4h0m0 8.7h0m0 15.6h0m0 -27.8h0m0 19.3h0m0 -4.8h0m0 -11.4h0m0 37.2h0m0 1.6h0m0 -36h0m0 -11.4h0m0 33.9h0m0 10.3h0m0 -27.9h0m0 -2.6h0m0 25.7h0m0 -12.8h0m0 2h0m5.6 21.4h0m0 -4.8h0m0 -3.2h0m0 -21.7h0m0 24.3h0m0 -27.2h0m0 19.4h0m0 3.9h0m0 4.4h0m0 -3.8h0m0 -4.1h0m0 -8.1h0m0 19.5h0m0 -22.8h0m0 6.4h0m4.5 -11.1h0m0 1.2h0m0 1.5h0m0 4.6h0m0 -4.1h0m0 13.1h0m0 -6.3h0m0 -7.9h0m0 8.5h0m0 3.8h0m0 3.6h0m0 -9.3h0m5.4 -8.1h0m0 9.7h0m0 -0.9h0m0 -6.9h0m0 4.3h0m0 -4.2h0m0 2.4h0m4.4 -4.4h0m0 13.1h0m0 -4.7h0m0 3.8h0m0 -2.9h0m0 -3.7h0m0 -2.6h0m0 2.3h0m5 -13.6h0m0 19.2h0m0 -16.9h0m0 5.7h0m0 11.2h0m0 -19.2h0m0 19h0m0 -12.7h0m0 9.5h0m0 0.2h0m0 -4h0m0 7.2h0m5.6 -20.7h0m0 19.2h0m0 -2.2h0m0 -6.9h0m0 -4.1h0m0 9h0m0 -13.4h0m0 4h0m0 3.7h0m0 7.1h0m0 -7.8h0m5.2 -7.3h0m0 13.7h0m0 -6.1h0m0 -8.2h0m0 0.4h0m0 0h0m0 12.7h0m0 -0.1h0m0 -1.7h0m0 -7.5h0m4.4 7.2h0m0 0.8h0m0 -17.2h0m0 15.6h0m0 -4.7h0m0 -4.4h0m0 -6.5h0m0 12.6h0m0 -3.4h0m0 -5.9h0m0 5.9h0m4.7 9.3h0m0 -7.7h0m0 4.4h0m0 -14.4h0m0 8.6h0m0 8.1h0m0 -10.8h0m0 4.7h0m0 2.7h0m0 -8.3h0m0 -5.3h0m0 12.1h0m5.9 -22.7h0m0 21h0m0 -19.6h0m0 18.3h0m0 -13.8h0m0 9.5h0m0 -0.8h0m0 2.4h0m0 -11.2h0m0 9.9h0m0 -6.8h0m0 -17.5h0m4.3 4.7h0m0 18.4h0m0 -13.3h0m0 1.3h0m0 5h0m0 -5.7h0m0 0.5h0m0 9.7h0m0 2.5h0m0 -4.2h0m0 0h0m5.3 -19.3h0m0 19h0m0 -4.6h0m0 3h0m0 -7.4h0m0 5.9h0m0 -9.8h0m0 -1h0m0 9.7h0m0 1.9h0m0 -6.2h0m5.2 -18.2h0m0 21.3h0m0 -8h0m0 3.6h0m0 -15.6h0m0 10.9h0m0 -7.4h0m0 5.7h0m0 -9.9h0m0 4.8h0m0 5.5h0m0 7h0m0 4h0m0 -0.1h0m4.9 -31.7h0m0 31.4h0m0 -6.4h0m0 -22.9h0m0 5.8h0m0 16.6h0m0 -2.7h0m0 3h0m0 -21.1h0m0 8.9h0m0 2h0m0 -14.7h0m0 17.9h0m0 -13.2h0m0 10.9h0m0 8.8h0m0 -22.1h0m4.8 -5.2h0m0 31.5h0m0 -31.1h0m0 3.8h0m0 1.9h0m0 20.3h0m0 -5.5h0m0 -3.3h0m0 -15.8h0m0 7.8h0m0 20.6h0m0 -1.8h0m0 0.1h0m0 -17.4h0m0 9.4h0m0 -12.9h0m4.8 -8.6h0m0 31.9h0m0 -12.6h0m0 10.5h0m0 -5.8h0m0 -8.6h0m0 -3h0m0 0.2h0m0 2h0m0 12.5h0m0 -26.9h0m0 9.3h0m0 13.3h0m0 -19.9h0m0 8.2h0m0 18h0m0 -21.9h0m5.4 -2.1h0m0 30h0m0 -9.2h0m0 -19.2h0m0 28.4h0m0 -1h0m0 -21.5h0m0 -2.9h0m0 19.8h0m0 -4.8h0m0 -10.6h0m0 20.8h0m0 -26.3h0m0 11.3h0m0 -11.6h0m0 0.1h0m5.3 1.5h0m0 28.9h0m0 -19.5h0m0 11h0m0 5.8h0m0 -4.2h0m0 -13.9h0m0 3.6h0m0 -7.9h0m0 4.5h0m0 3.4h0m0 13.8h0m0 -13.5h0m0 5.2h0m0 0.4h0m4.8 -15h0m0 24.9h0m0 -5.4h0m0 -1.6h0m0 6h0m0 -20.6h0m0 -4h0m0 16.3h0m0 -15.3h0m0 22.3h0m0 -1.2h0m0 3.8h0m4.4 -35.9h0m0 31.2h0m0 -15.3h0m0 10.2h0m0 -5.8h0m0 10.6h0m0 -24h0m0 2.6h0m0 1.5h0m0 -6.8h0m0 4.5h0m0 7.2h0m0 -3.7h0m0 -3.1h0m0 15.8h0m0 -1.6h0m0 6.3h0m0 -12.3h0m0 25.5h0m5.2 -50.9h0m0 40.9h0m0 -7.8h0m0 -4.1h0m0 -15.7h0m0 -13.7h0m0 28h0m0 5.6h0m0 -4.1h0m0 -4.2h0m0 -23.9h0m0 17.2h0m0 -14.5h0m0 7.9h0m0 20.2h0m0 -7.7h0m0 13.2h0m0 -1.4h0m0 -5.9h0m5.4 -38.8h0m0 53.7h0m0 -20.6h0m0 -26.9h0m0 32.8h0m0 -25.5h0m0 16.1h0m0 -18h0m0 15.6h0m0 -6.5h0m0 27h0m0 -6.3h0m0 -28.4h0m0 13.8h0m0 -10.8h0m0 5.7h0m0 -21.9h0m0 7.2h0m0 10.1h0m0 19.5h0m0 1.8h0m0 -34.7h0m0 7.1h0m4.8 34.4h0m0 -0.7h0m0 -18.8h0m0 -5.6h0m0 -25h0m0 -2.3h0m0 24.3h0m0 -21.2h0m0 28.9h0m0 0.8h0m0 -33.8h0m0 45.8h0m0 -10.1h0m0 -26.3h0m0 25.9h0m0 15h0m0 0.7h0m0 -18.8h0m0 11.4h0m5.3 -50.4h0m0 52.9h0m0 -50.9h0m0 30.9h0m0 -29.9h0m0 25.6h0m0 15.7h0m0 -8.1h0m0 -16.1h0m0 24.2h0m0 5.3h0m0 -36.8h0m0 31.7h0m0 -21.7h0m0 31.1h0m0 -0.8h0m0 -21.2h0m0 -11.8h0m0 -16.2h0m0 -4.2h0m0 21.1h0m0 2.2h0m4.8 -25h0m0 52h0m0 -38.5h0m0 -7.7h0m0 8.7h0m0 30.4h0m0 -27.9h0m0 1.2h0m0 29.7h0m0 -26.9h0m0 26.9h0m0 -41.3h0m0 26.9h0m0 -7h0m0 10.8h0m0 7.3h0m0 -36.2h0m0 31.1h0m0 -27.7h0m0 -7.9h0m0 11.4h0m0 5h0m5.2 -10.6h0m0 61.9h0m0 -28.5h0m0 8.4h0m0 19.6h0m0 -20.5h0m0 -27.8h0m0 17h0m0 19.5h0m0 -33.4h0m0 -5.3h0m0 -6.5h0m0 43h0m0 -46.8h0m0 -1.2h0m0 27.5h0m0 23.4h0m0 11.2h0m0 -45.7h0m0 5.4h0m0 -15.5h0m0 1.5h0m0 4h0m0 38.3h0m0 -5.4h0m4.8 20.5h0m0 -22.4h0m0 -11.3h0m0 -9.7h0m0 7.1h0m0 29.6h0m0 -28h0m0 -7.1h0m0 41.9h0m0 -52.1h0m0 18.8h0m0 1.1h0m0 16.4h0m0 -37.1h0m0 36.1h0m0 -36.2h0m0 9.5h0m0 13.2h0m0 18.3h0m0 -32.3h0m0 26h0m0 -35.5h0m0 7.4h0m0 8.5h0m4.4 -12.9h0m0 57.9h0m0 -42.6h0m0 15.1h0m0 27.2h0m0 -34.7h0m0 -23.6h0m0 57.6h0m0 -56.8h0m0 5.6h0m0 14.7h0m0 1h0m0 -20.8h0m0 55.3h0m0 -40.3h0m0 20.6h0m0 10.1h0m0 9.2h0m0 -13.3h0m0 -6.3h0m5.3 -26.6h0m0 46.8h0m0 -24.3h0m0 14.3h0m0 3.3h0m0 -1.2h0m0 0.4h0m0 -11.3h0m0 0.3h0m0 -24.5h0m0 22.6h0m0 -12.9h0m0 31h0m0 -32.9h0m0 -2.9h0m0 32.3h0m0 -15.8h0m0 16.7h0m0 -34.4h0m0 35.6h0m4.9 -30h0m0 41.9h0m0 -38.1h0m0 -3h0m0 2.6h0m0 10.6h0m0 19.3h0m0 -8.9h0m0 0.6h0m0 16.7h0m0 -0.9h0m0 -35.6h0m0 24.2h0m0 -26.5h0m0 33.6h0m0 -23.2h0m0 25.4h0m5.1 -30.5h0m0 37.4h0m0 -9.5h0m0 -19.9h0m0 19.8h0m0 1.4h0m0 -17.8h0m0 -10h0m0 12.2h0m0 7.6h0m0 -9.5h0m0 18.1h0m0 -11.6h0m0 -9.9h0m0 12.8h0m0 -15.9h0m0 22.3h0m0 -18.6h0m5.2 3.4h0m0 19.1h0m0 -3.5h0m0 -13.3h0m0 14.2h0m0 -1.9h0m0 0.1h0m0 -9.2h0m0 9.9h0m0 2.4h0m0 -5.9h0m0 0.9h0m0 16.1h0m5.1 -31.5h0m0 14.2h0m0 -9.4h0m0 4.6h0m0 -1.6h0m0 4h0m0 -8.6h0m0 10h0m4.4 -18.6h0m0 21.1h0m0 0.5h0m0 -9.3h0m0 -0.2h0m0 0.4h0m0 -12.8h0m0 6.8h0m0 3.6h0m0 1.7h0m0 8.4h0m0 -4.5h0m0 -8.7h0m5.6 -12.7h0m0 24.2h0m0 -23.6h0m0 20.5h0m0 -18.1h0m0 3.6h0m0 -6.3h0m0 18.8h0m0 -0.5h0m0 -5.8h0m0 11.2h0m0 -1.5h0m0 -8.5h0m5.3 -1.6h0m0 -15.1h0m0 9.4h0m0 -10.3h0m0 8.9h0m0 -9.8h0m0 15h0m0 -8.6h0m0 -1.4h0m4.3 -11.6h0m0 11.4h0m0 -0.5h0m0 7.1h0m0 -14.4h0m0 13.5h0m0 -16.1h0m0 10.5h0m0 -2.3h0m0 1.5h0m0 -3.5h0m0 8.8h0m5.6 -21.5h0m0 19.7h0m0 -2.3h0m0 -5.5h0m0 -11.5h0m0 1.2h0m0 8.3h0m0 -5.2h0m0 11h0m0 -4.3h0m0 -2.4h0m0 6.3h0m5.1 -24.6h0m0 8.5h0m0 4h0m0 6.6h0m0 -11.9h0m0 -4.6h0m0 7.8h0m0 8.7h0m0 -6.8h0m5 -21.5h0m0 18h0m0 -3.3h0m0 -9.6h0m0 -5.2h0m0 14.6h0m0 -15h0m0 2h0m0 -1.5h0m0 3h0m0 7.4h0m5 -23.5h0m0 26.3h0m0 -2.3h0m0 -13.5h0m0 12.7h0m0 -10.2h0m0 -5.8h0m0 0.3h0m0 16.7h0m0 0.9h0m0 -0.2h0m0 -25.6h0m0 18.8h0m0 -2.8h0m5 -25.4h0m0 32.1h0m0 -27.2h0m0 17h0m0 0.3h0m0 -23.2h0m0 13h0m0 -2h0m0 2.8h0m0 3.4h0m0 0.7h0m0 -10.9h0m0 9.4h0m0 3h0m0 -17.8h0m0 18.2h0m4.4 -19h0m0 35.1h0m0 -17.1h0m0 1.1h0m0 -12.6h0m0 -4.7h0m0 -0.5h0m0 27.3h0m0 7.3h0m0 -6.7h0m0 2h0m0 -14.8h0m0 -13.4h0m0 30.1h0m0 -13.9h0m0 1.7h0m0 5h0m0 -18.3h0m0 26.2h0m5.6 -36h0m0 32h0m0 -32.3h0m0 8.3h0m0 1.4h0m0 -5.2h0m0 23.5h0m0 -21.7h0m0 36.5h0m0 -41.5h0m0 9.3h0m0 -6.3h0m0 16.1h0m0 13.3h0m0 -1.1h0m0 -19.1h0m0 0.4h0m0 40.4h0m4.8 -61.9h0m0 60.7h0m0 -59.4h0m0 53h0m0 2.9h0m0 -30.2h0m0 18h0m0 -4.4h0m0 19.9h0m0 -23.7h0m0 20.3h0m0 -1.3h0m0 -8.3h0m0 -15.4h0m0 -11.9h0m0 39.5h0m0 -14.7h0m0 -28.2h0m0 11.2h0m0 -0.5h0m0 26.2h0m0 -9.1h0m0 -53h0m4.6 29.5h0m0 10.9h0m0 21.1h0m0 -35.8h0m0 -14.2h0m0 29.9h0m0 -17h0m0 0.3h0m0 48.9h0m0 -54.2h0m0 22.7h0m0 -7.1h0m0 10.2h0m0 -17h0m0 -10.4h0m0 7.8h0m0 14.3h0m0 32.4h0m0 -54h0m0 51.8h0m0 -57.4h0m0 33.4h0m5.6 -22h0m0 48.2h0m0 -40.5h0m0 39.5h0m0 -43.8h0m0 44.9h0m0 -9h0m0 -30.9h0m0 10.5h0m0 -7.7h0m0 8.5h0m0 25.7h0m0 -25.5h0m0 26.7h0m0 -3.3h0m0 2.4h0m0 -20.9h0m0 -20.1h0m0 9.7h0m4.9 1.3h0m0 16.2h0m0 -14.3h0m0 9.6h0m0 16.2h0m0 -3.6h0m0 -11.6h0m0 -8.1h0m0 -2.1h0m0 0.1h0m0 7.6h0m0 6.9h0m0 -4.7h0m4.5 -3.5h0m0 22.1h0m0 -8.3h0m0 2.3h0m0 -15.7h0m0 16.7h0m0 -1h0m0 4.9h0m0 -13.3h0m0 -5.4h0m0 20h0m0 -16.1h0m0 13h0m0 1.8h0m4.9 -21.2h0m0 18.5h0m0 -8h0m0 1.4h0m0 -11.4h0m0 1.6h0m0 9.5h0m0 4.8h0m0 -5h0m5.3 -10.3h0m0 11.3h0m0 -10.8h0m0 1.4h0m0 -0.1h0m0 0.9h0m0 5.7h0m0 -2.9h0m5.4 -8.1h0m0 12.2h0m0 -10.3h0m0 1.3h0m0 5.6h0m0 -8.3h0m0 7.1h0m0 -7.6h0m0 9.8h0m4.4 -18.9h0m0 19.4h0m0 -13.1h0m0 11.5h0m0 -18h0m0 2h0m0 4.4h0m0 -6.3h0m0 9.7h0m0 1.9h0m0 -11.9h0m0 14.2h0m5.4 -22.3h0m0 20.5h0m0 -6.1h0m0 2.3h0m0 -1.2h0m0 -4.2h0m0 5.4h0m0 -12.4h0m0 5.7h0m0 1.8h0m0 -6h0m0 14h0m4.6 -23h0m0 20.8h0m0 -17.7h0m0 0.1h0m0 6.5h0m0 3.2h0m0 -3.5h0m0 10.3h0m0 -10.3h0m0 -8.4h0m0 0.3h0m0 10.6h0m0 -11.2h0m0 14.9h0m0 -23.9h0m5.7 -3.9h0m0 33.3h0m0 -2.2h0m0 -16h0m0 11.6h0m0 -1h0m0 -5.8h0m0 0.8h0m0 -18.5h0m0 19.5h0m0 -1h0m0 9.8h0m0 -4h0m0 -9.7h0m0 4.3h0m0 -13.3h0m0 -13.6h0m4.1 -1.6h0m0 43.1h0m0 -0.8h0m0 -10.4h0m0 -31.2h0m0 28.6h0m0 -24.8h0m0 13.1h0m0 13h0m0 -15.4h0m0 17.5h0m0 -17.5h0m0 1.3h0m0 -12.8h0m0 8.5h0m0 10.7h0m0 -10.2h0m5.3 31h0m0 -41.4h0m0 9h0m0 12.6h0m0 19.4h0m0 -15.7h0m0 -8h0m0 12.4h0m0 -18.4h0m0 24.3h0m0 -35.8h0m0 1h0m0 6.8h0m0 19.3h0m0 -13.9h0m0 -12.7h0m0 30.6h0m0 -7.4h0m0 13.3h0m5.2 -45.7h0m0 35.9h0m0 -14.9h0m0 11.5h0m0 -5h0m0 -11.7h0m0 -15.3h0m0 1.6h0m0 4.4h0m0 17.8h0m0 -1.7h0m0 -21.9h0m0 15.5h0m0 16.4h0m0 -8.6h0m0 10h0m4.7 -33.8h0m0 32.9h0m0 -10.5h0m0 -21.9h0m0 11.5h0m0 10.5h0m0 -13.3h0m0 23.5h0m0 -7.4h0m0 2.8h0m0 -23.9h0m0 10.6h0m0 -8.6h0m0 8.9h0m0 15.5h0m4.7 -34.4h0m0 25.6h0m0 -16.4h0m0 15.2h0m0 -8.2h0m0 2h0m0 4.3h0m0 -9.4h0m0 -2.4h0m0 6.4h0m0 -14.5h0m0 2.1h0m0 -2.2h0m0 18h0m0 -4h0m5.8 -23.2h0m0 25.5h0m0 -6.6h0m0 -16.4h0m0 3.4h0m0 -0.1h0m0 8.3h0m0 6.8h0m0 -11.7h0m0 -8.8h0m0 2h0m0 7h0m0 -7.2h0m0 5.2h0m5.2 -13h0m0 26.5h0m0 -15.7h0m0 -0.3h0m0 -10.3h0m0 10.3h0m0 -1h0m0 12.3h0m0 -13.8h0m0 11.8h0m0 -4.3h0m0 0.4h0m0 5.3h0m4.7 -27.7h0m0 29.1h0m0 -19.8h0m0 5.1h0m0 13.1h0m0 -1.5h0m0 -3h0m0 -19.6h0m0 18.4h0m0 -21.9h0m0 11.4h0m0 2.9h0m0 -9.8h0m0 -0.9h0m0 7.7h0m0 -12.4h0m4.5 4.2h0m0 31.4h0m0 -9.2h0m0 -8h0m0 -1.6h0m0 5.4h0m0 13h0m0 -12.6h0m0 -12.6h0m0 3.7h0m0 -5.8h0m0 16h0m0 9.1h0m0 -27.8h0m0 6.8h0m0 -5.1h0m0 13.6h0m5.7 56.9h0m0 -58.3h0m0 25.7h0m0 25.2h0m0 -48h0m0 -8h0m0 12.3h0m0 8.6h0m0 11.9h0m0 -10.9h0m0 41.3h0m0 -29.1h0m0 21.6h0m0 -44.6h0m0 0.8h0m0 20.4h0m0 -37.2h0m0 21.8h0m0 13.6h0m0 22.8h0m0 -44.4h0m0 51.2h0m0 2.8h0m0 -39.6h0m0 11.6h0m4.5 -23.1h0m0 51.7h0m0 -4h0m0 -9h0m0 -7.2h0m0 -30.1h0m0 6.3h0m0 9.4h0m0 20.6h0m0 -20.1h0m0 0.5h0m0 3.8h0m0 -21.7h0m0 42.2h0m0 -26.9h0m0 32.1h0m0 -17.1h0m0 0.5h0m0 6.2h0m0 14.8h0m0 -20.8h0m0 -2.2h0m0 7.5h0m5.5 -21.7h0m0 38.6h0m0 -7.7h0m0 -10.9h0m0 14.1h0m0 -30.9h0m0 14.2h0m0 -9.9h0m0 22.9h0m0 -13.5h0m0 -2.6h0m0 -11.7h0m0 32.8h0m0 -13.9h0m0 28.1h0m5 -43.6h0m0 29.5h0m0 0.3h0m0 -26.7h0m0 12.2h0m0 -6.3h0m0 4.3h0m0 -11h0m0 19.6h0m0 -8.3h0m0 -11.6h0m0 9.2h0m4.8 -8.3h0m0 26.6h0m0 -22.1h0m0 21.1h0m0 -4.5h0m0 -0.7h0m0 -7.7h0m0 3.6h0m0 -4h0m0 5.8h0m0 -16.3h0m0 9.3h0m0 13.1h0m0 -22.3h0m0 21.9h0m4.5 -30h0m0 21.3h0m0 -19.6h0m0 9.5h0m0 8.3h0m0 -0.5h0m0 -0.7h0m0 -8.1h0m0 0.5h0m0 -9.7h0m0 20.5h0m0 -12.5h0m5.2 -9.2h0m0 7.1h0m0 -1.4h0m0 2.7h0m0 -9.2h0m0 14.5h0m0 -2.5h0m0 2.4h0m0 0.2h0m0 -5.3h0m0 14.7h0m5.1 -28.4h0m0 16.4h0m0 -3.9h0m0 -1.1h0m0 -5.9h0m0 4.6h0m0 -6.7h0m0 12.5h0m0 -9.5h0m0 4.1h0m0 2.2h0m4.6 -17.7h0m0 19.4h0m0 -13.7h0m0 4.9h0m0 -5.2h0m0 6.7h0m0 -7.5h0m0 11.5h0m0 2.6h0m0 -1.4h0m0 2.5h0m0 -14.8h0m5.8 10.8h0m0 -1.1h0m0 -8h0m0 7.2h0m0 1.1h0m0 -10.7h0m0 9.7h0m0 -4.9h0m4.6 -21.3h0m0 24.2h0m0 -21.8h0m0 15.5h0m0 -16.8h0m0 8.1h0m0 -1.6h0m0 13.8h0m0 -16.9h0m0 19.1h0m0 -11.9h0m0 -5.4h0m0 14h0m5.3 -24.1h0m0 28.8h0m0 -1.3h0m0 -25.3h0m0 4.4h0m0 15.1h0m0 -17.3h0m0 10.3h0m0 3.9h0m0 -16.7h0m0 8.7h0m0 15.7h0m0 3.7h0m0 -15.5h0m0 -12.8h0m0 2h0m0 -2.7h0m4.2 -0.4h0m0 15.4h0m0 -12.6h0m0 7.7h0m0 -8h0m0 13.4h0m0 -4.9h0m0 4.5h0m0 -11.6h0m0 -4.2h0m0 11.3h0m5.4 -16.4h0m0 15.2h0m0 -6h0m0 5.1h0m0 -2h0m0 2.2h0m0 0.6h0m0 -5.7h0m0 -5.8h0m0 -0.2h0m4.7 -11.2h0m0 15.7h0m0 -8.6h0m0 -1.1h0m0 -6.4h0m0 8.9h0m0 -3h0m0 3.6h0m0 4.6h0m0 0.4h0m0 -8.7h0m5.4 -17h0m0 17h0m0 -9.4h0m0 -1.8h0m0 11.3h0m0 -9.8h0m0 -8h0m0 16.6h0m0 1.7h0m0 -4.8h0m0 -7.2h0m0 5.7h0m4.7 -19.5h0m0 15.1h0m0 -11.7h0m0 12.6h0m0 -5.5h0m0 -0.8h0m0 -7.4h0m0 4.1h0m0 8.2h0m0 -4h0m0 4.3h0m5.3 -30.4h0m0 27.9h0m0 -14.8h0m0 -3.6h0m0 8.8h0m0 -15.4h0m0 9.8h0m0 3.3h0m0 -11.8h0m0 -0.6h0m0 0.7h0m0 20.8h0m0 -6.6h0m0 6.8h0m0 -8.6h0m4.7 -23.6h0m0 39h0m0 -21.1h0m0 -8h0m0 15.5h0m0 -8.9h0m0 11.5h0m0 2.5h0m0 -25.5h0m0 18.1h0m0 2.6h0m0 -10.4h0m0 23.2h0m0 0.8h0m0 -14.2h0m0 -17.2h0m0 1.2h0m0 23h0m5 -30.6h0m0 61.1h0m0 -3h0m0 -41.7h0m0 40.1h0m0 -21.1h0m0 16.9h0m0 -8.8h0m0 -9.3h0m0 -32.9h0m0 54.8h0m0 -17h0m0 -8.7h0m0 -7.2h0m0 -4.8h0m0 -18.1h0m0 53.1h0m0 -44.2h0m0 31.5h0m0 -35.1h0m0 19.1h0m0 -11.5h0m0 24.4h0m-1468.4 17.5h0m-5 -10h0m103 -30h0m20 0h0m-156 93.7h0m-74 -130.1h0m57 61.2h0m-95 112.2h0m59 -81h0m435 -231.3h0m82 -16.7h0m18 135h0m32 -38h0m7 0h0m37 -71.3h0m14.7 -35.7h0m66.3 -66.3h0m-20 112h0m49.7 -8.7h0m9.3 -122h0m170 414h0m5 11.7h0m13.7 15.3h0m10 -4.3h0m5.3 22.3h0m-10.3 -29h0m-6 -3.3h0m-32.7 -108.7h0m122 23h0m-15 25.7h0m15 18.3h0m15.7 5.7h0m67.3 91.3h0m91 -2h0m0 10h0m11 -20h0m0 -17h0m29 -6.3h0m12.7 -5h0m11.3 7.3h0m-35 -68.3h0m5 3.3h0m58 -31h0m0 13.7h0m22.7 23.3h0m30.3 41h0m5.7 -75h0m32.3 -27h0m29 78.7h0m159.7 -176.7h0m-28.7 50.7h0m0 34.3h0m-81.3 50h0m5 28h0m11 -3h0m-11 51.7h0m-143 0.3h0"/>
<!-- title drag handle + toolbar handle -->
<g fill="#b8b8b8">
<rect x="1077" y="2" width="1" height="1"/><rect x="1080" y="2" width="1" height="1"/><rect x="1083" y="2" width="1" height="1"/><rect x="1086" y="2" width="1" height="1"/><rect x="1089" y="2" width="1" height="1"/><rect x="1092" y="2" width="1" height="1"/>
<rect x="3" y="38" width="1" height="1"/><rect x="3" y="41" width="1" height="1"/><rect x="3" y="44" width="1" height="1"/><rect x="3" y="47" width="1" height="1"/><rect x="3" y="50" width="1" height="1"/><rect x="3" y="53" width="1" height="1"/>
</g>
<!-- window buttons -->
<g fill="none" stroke="#333" stroke-width="1.3">
<rect x="2130.9" y="14.6" width="4.4" height="2.6" fill="#d9d9d9"/>
<path d="M2131 16.7H2127.7V22.2H2133.3V17.4"/>
</g>
<path d="M2145.3 14.2L2153.8 22.7M2153.8 14.2L2145.3 22.7" stroke="#000" stroke-width="1.1" fill="none"/>
<!-- save (disabled) -->
<g stroke="#b9b9b9" fill="none" stroke-width="1.4">
<path d="M26 47.5H41L43.8 50.3V64.8H26Z"/>
<path d="M30.4 47.5V54H38.2V47.5"/>
<rect x="30.4" y="47.5" width="4.6" height="6.5" fill="#b9b9b9" stroke="none"/>
</g>
<!-- home -->
<g stroke="#222" fill="none" stroke-width="1.8" stroke-linejoin="miter">
<path d="M68.6 55.2L78 47.6L87.4 55.2" stroke-width="1.7"/>
<path d="M71 54V64.9H85.1V54"/>
<path d="M75.9 64.9V57.8H80.2V64.9" stroke-width="1.7"/>
</g>
<!-- pointer (selected) -->
<path d="M106.2 47.6V59.2L109.3 56.4L113.5 64.4L115.2 63.5L111.3 55.6L115.4 54.9Z" fill="#2a2a2a"/>
<!-- crosshair + small pointer -->
<g stroke="#222" fill="none" stroke-width="1.3">
<circle cx="140.4" cy="52.5" r="5.1"/>
<path d="M133.2 52.5H137.2M143.6 52.5H147.9M140.4 45.2V49.2M140.4 55.8V60"/>
<circle cx="140.4" cy="52.5" r="0.8" fill="#222" stroke="none"/>
<path d="M146.1 57.7V62.6L147.7 61.4L149.6 65.6L150.4 65.2L148.6 61.1L150.4 60.7Z" fill="#222" stroke="none"/>
</g>
<!-- ruler -->
<g stroke="#222" fill="none" stroke-width="1.2">
<path d="M182.3 46.2L187.2 50.6L171.8 65.6L167.1 61Z"/>
<path d="M185.5 52.0V50.3M183.6 53.9V51.1M181.7 55.7V54.0M179.9 57.6V54.8M178.0 59.4V57.7M176.1 61.3V58.5M174.2 63.1V61.4" stroke-width="1.1"/>
</g>
<!-- magnifier -->
<g stroke="#222" fill="none">
<circle cx="208.1" cy="53.8" r="6.2" stroke-width="2"/>
<path d="M212.4 58.7L218.3 64.3" stroke-width="3.3"/>
</g>
<!-- combo arrow -->
<path d="M360.8 55.2H369.2L365 59.4Z" fill="#5a5a5a"/>
<!-- eraser -->
<g stroke="#222" fill="none" stroke-width="1.5" stroke-linejoin="round">
<path d="M394.4 48.8a1.6 1.6 0 0 1 2.2 0L401.6 53.8a1.6 1.6 0 0 1 0 2.2L392.8 64.6H389.6L385 60a1.6 1.6 0 0 1 0 -2.2Z"/>
<path d="M394.4 48.8a1.6 1.6 0 0 1 2.2 0L401.6 53.8a1.6 1.6 0 0 1 0 2.2L397.6 59.9L390.4 52.7Z" fill="#2a2a2a"/>
<path d="M389.6 64.7H405"/>
</g>
<!-- rect select -->
<g stroke="#111" stroke-width="1.8" stroke-dasharray="1.8 1.7" fill="#c3c3c3">
<rect x="417.8" y="48" width="17.2" height="16"/>
<path d="M449.9 51.4C449.9 48.2 452 46.5 454.6 46.5C457 46.5 458.5 47.8 459.3 49.7L459.9 51.2C461.4 50.8 463 51 464.2 51.6C466.9 52.9 468.8 55 468.8 57.7C468.8 59.6 468.3 61.3 467.2 62.5C465.6 64.3 463.3 64.8 460.8 64.8C458.1 64.8 455.8 63.5 454.5 61.6C453.5 60.1 453.2 58.3 452.8 56.8C452.5 55.8 452.1 55.3 451.5 54.8C450.4 53.9 449.9 52.8 449.9 51.4Z"/>
<path d="M482 47.1H501.3L494 56L501.6 64.6H482Z"/>
</g>
<g stroke="#111" stroke-width="1.3" fill="none">
<path d="M423 56H429.6M426.3 52.7V59.3"/>
<path d="M456.7 57.7H463.3M460 54.4V61"/>
<path d="M485.5 56H492.1M488.8 52.7V59.3"/>
</g>
<g fill="#333">
<path d="M429.6 61.4H438L433.8 65.4Z"/><path d="M462.5 61.4H470.9L466.7 65.4Z"/><path d="M495.8 61.4H504.2L500 65.4Z"/>
</g>
<!-- undo/redo disabled -->
<g stroke="#b5b5b5" fill="none" stroke-width="1.7">
<path d="M527.6 52.4A8.6 8.6 0 1 1 536.15 64.57"/>
<path d="M575.7 52.4A8.6 8.6 0 1 0 567.15 64.57"/>
</g>
<path d="M524.8 49.2V56.9L531.8 53.2Z" fill="#b5b5b5"/>
<path d="M578.2 49.2V56.9L571.5 53.2Z" fill="#b5b5b5"/>
<!-- dot size icons -->
<g fill="#2a2a2a">
<circle cx="602.9" cy="56" r="1.6"/><circle cx="608.4" cy="56" r="3"/><circle cx="617.1" cy="55.8" r="4.9"/>
<circle cx="678.8" cy="56" r="1.6"/><circle cx="684.3" cy="56" r="3"/><circle cx="693" cy="55.8" r="4.9"/>
</g>
<g fill="#444">
<path d="M613.8 61H623.4L618.6 66Z"/><path d="M689.7 61H699.3L694.5 66Z"/>
<path d="M646.7 61H656.3L651.5 66Z"/><path d="M722.7 61H732.3L727.5 66Z"/>
</g>
<defs><linearGradient id="gr" x1="0" x2="1" y1="0" y2="0"><stop offset="0" stop-color="#ee4a26"/><stop offset="0.12" stop-color="#e85a28"/><stop offset="0.38" stop-color="#58c040"/><stop offset="0.65" stop-color="#10a0a0"/><stop offset="1" stop-color="#2c3ea8"/></linearGradient></defs>
<rect x="634.5" y="51.5" width="19.2" height="9" fill="url(#gr)" stroke="#222" stroke-width="1"/>
<rect x="710.5" y="51.5" width="19.2" height="9" fill="url(#gr)" stroke="#222" stroke-width="1"/>
<!-- turn arrows -->
<g fill="#2a2a2a">
<path d="M754.8 63.5V51.4H765V48.5L772.2 52.8L765 57V54.4H758V63.5Z"/>
<path d="M803.8 63.5V51.4H793.4V48.5L786.2 52.8L793.4 57V54.4H800.5V63.5Z"/>
</g>
<!-- filter -->
<g>
<circle cx="831.7" cy="49" r="3.8" fill="none" stroke="#333" stroke-width="1" stroke-dasharray="9.5 2.45" stroke-dashoffset="10.7"/>
<path d="M833.8 53.1H849.3L843 59.6V64.6L840 66.9V59.6Z" fill="#2a2a2a"/>
<circle cx="844.7" cy="60.2" r="2.1" fill="#f0f0f0" stroke="#2a2a2a" stroke-width="1.2"/>
</g>
<!-- help doc -->
<g stroke="#333" fill="none" stroke-width="1.7" stroke-linejoin="miter">
<path d="M2092 45.4H2102.8L2108 50.8V66.3H2092Z"/>
<path d="M2102.6 45.6V51H2108" />
</g>
<text x="2099.9" y="62.8" text-anchor="middle" style="font-size:12.6px;font-weight:bold;fill:#2a2a2a">?</text>
<!-- comment -->
<g stroke="#333" fill="none">
<rect x="2126.1" y="47.9" width="13.8" height="10.5" stroke-width="1.7" fill="#fff"/>
<path d="M2129.1 51.2H2137M2129.1 54.9H2137" stroke-width="1.5"/>
</g>
<path d="M2136 61H2145L2140.5 66Z" fill="#444"/>

</svg>
</body></html>
